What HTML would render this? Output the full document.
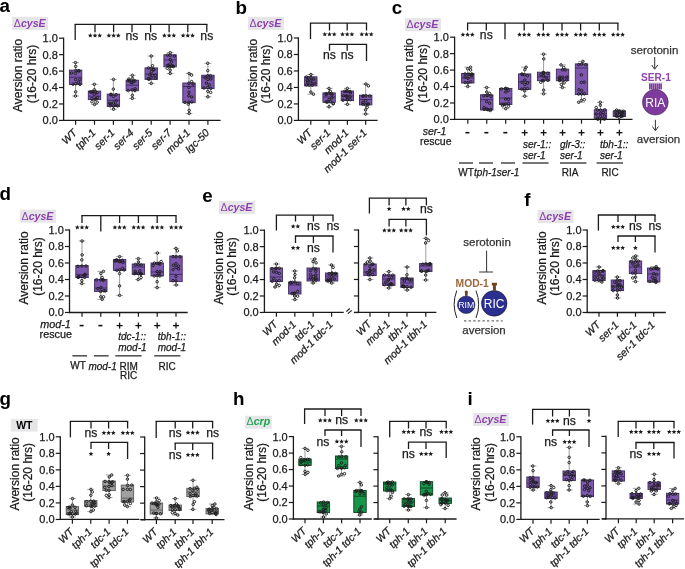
<!DOCTYPE html>
<html><head><meta charset="utf-8"><style>
html,body{margin:0;padding:0;background:#fff;width:685px;height:569px;overflow:hidden}
svg{display:block;will-change:transform;font-family:"Liberation Sans",sans-serif}
</style></head><body>
<svg width="685" height="569" viewBox="0 0 685 569">
<rect width="685" height="569" fill="#fff"/>
<text x="-0.60" y="12.30" font-size="18.8" text-anchor="start" font-weight="bold" font-style="normal" fill="#000" >a</text>
<rect x="12.20" y="16.80" width="35.9" height="13.1" fill="#e6e6e8"/>
<text x="13.80" y="26.80" font-size="10.6" fill="#8b3fae" font-weight="bold"><tspan font-weight="normal">&#916;</tspan><tspan font-style="italic">cysE</tspan></text>
<text x="0.00" y="0.00" font-size="12" text-anchor="middle" font-weight="normal" font-style="normal" fill="#1a1a1a" stroke="#1a1a1a" stroke-width="0.25" transform="translate(21.90,75.50) rotate(-90)" >Aversion ratio</text>
<text x="0.00" y="0.00" font-size="12" text-anchor="middle" font-weight="normal" font-style="normal" fill="#1a1a1a" stroke="#1a1a1a" stroke-width="0.25" transform="translate(35.60,74.00) rotate(-90)" >(16-20 hrs)</text>
<line x1="63.60" y1="37.60" x2="63.60" y2="121.00" stroke="#1a1a1a" stroke-width="1.3" />
<line x1="59.00" y1="120.40" x2="63.60" y2="120.40" stroke="#1a1a1a" stroke-width="1.2" />
<text x="57.90" y="124.30" font-size="11" text-anchor="end" font-weight="normal" font-style="normal" fill="#1a1a1a" stroke="#1a1a1a" stroke-width="0.25" >0.0</text>
<line x1="59.00" y1="103.96" x2="63.60" y2="103.96" stroke="#1a1a1a" stroke-width="1.2" />
<text x="57.90" y="107.86" font-size="11" text-anchor="end" font-weight="normal" font-style="normal" fill="#1a1a1a" stroke="#1a1a1a" stroke-width="0.25" >0.2</text>
<line x1="59.00" y1="87.52" x2="63.60" y2="87.52" stroke="#1a1a1a" stroke-width="1.2" />
<text x="57.90" y="91.42" font-size="11" text-anchor="end" font-weight="normal" font-style="normal" fill="#1a1a1a" stroke="#1a1a1a" stroke-width="0.25" >0.4</text>
<line x1="59.00" y1="71.08" x2="63.60" y2="71.08" stroke="#1a1a1a" stroke-width="1.2" />
<text x="57.90" y="74.98" font-size="11" text-anchor="end" font-weight="normal" font-style="normal" fill="#1a1a1a" stroke="#1a1a1a" stroke-width="0.25" >0.6</text>
<line x1="59.00" y1="54.64" x2="63.60" y2="54.64" stroke="#1a1a1a" stroke-width="1.2" />
<text x="57.90" y="58.54" font-size="11" text-anchor="end" font-weight="normal" font-style="normal" fill="#1a1a1a" stroke="#1a1a1a" stroke-width="0.25" >0.8</text>
<line x1="59.00" y1="38.20" x2="63.60" y2="38.20" stroke="#1a1a1a" stroke-width="1.2" />
<text x="57.90" y="42.10" font-size="11" text-anchor="end" font-weight="normal" font-style="normal" fill="#1a1a1a" stroke="#1a1a1a" stroke-width="0.25" >1.0</text>
<line x1="75.60" y1="62.60" x2="75.60" y2="70.10" stroke="#8a8a8a" stroke-width="0.85" />
<line x1="75.60" y1="84.50" x2="75.60" y2="96.00" stroke="#8a8a8a" stroke-width="0.85" />
<line x1="72.20" y1="62.60" x2="79.00" y2="62.60" stroke="#9a9a9a" stroke-width="0.9" />
<line x1="72.20" y1="96.00" x2="79.00" y2="96.00" stroke="#9a9a9a" stroke-width="0.9" />
<rect x="69.40" y="70.10" width="12.40" height="14.40" fill="#7d58ae" stroke="#3e2a60" stroke-width="0.9"/>
<line x1="69.40" y1="77.20" x2="81.80" y2="77.20" stroke="#3e2a60" stroke-width="0.9" />
<circle cx="75.47" cy="96.00" r="1.25" fill="none" stroke="#1e1e1e" stroke-width="0.95"/>
<circle cx="75.64" cy="79.42" r="1.25" fill="none" stroke="#1e1e1e" stroke-width="0.95"/>
<circle cx="75.46" cy="62.60" r="1.25" fill="none" stroke="#1e1e1e" stroke-width="0.95"/>
<circle cx="75.74" cy="83.76" r="1.25" fill="none" stroke="#1e1e1e" stroke-width="0.95"/>
<circle cx="78.42" cy="82.18" r="1.25" fill="none" stroke="#1e1e1e" stroke-width="0.95"/>
<circle cx="75.79" cy="70.53" r="1.25" fill="none" stroke="#1e1e1e" stroke-width="0.95"/>
<circle cx="72.95" cy="84.24" r="1.25" fill="none" stroke="#1e1e1e" stroke-width="0.95"/>
<circle cx="79.80" cy="79.59" r="1.25" fill="none" stroke="#1e1e1e" stroke-width="0.95"/>
<circle cx="75.54" cy="73.41" r="1.25" fill="none" stroke="#1e1e1e" stroke-width="0.95"/>
<circle cx="78.55" cy="70.63" r="1.25" fill="none" stroke="#1e1e1e" stroke-width="0.95"/>
<circle cx="71.60" cy="73.04" r="1.25" fill="none" stroke="#1e1e1e" stroke-width="0.95"/>
<circle cx="79.07" cy="70.90" r="1.25" fill="none" stroke="#1e1e1e" stroke-width="0.95"/>
<circle cx="75.61" cy="91.85" r="1.25" fill="none" stroke="#1e1e1e" stroke-width="0.95"/>
<circle cx="79.94" cy="84.32" r="1.25" fill="none" stroke="#1e1e1e" stroke-width="0.95"/>
<circle cx="75.66" cy="66.40" r="1.25" fill="none" stroke="#1e1e1e" stroke-width="0.95"/>
<line x1="94.50" y1="84.30" x2="94.50" y2="91.10" stroke="#8a8a8a" stroke-width="0.85" />
<line x1="94.50" y1="99.60" x2="94.50" y2="104.50" stroke="#8a8a8a" stroke-width="0.85" />
<line x1="91.10" y1="84.30" x2="97.90" y2="84.30" stroke="#9a9a9a" stroke-width="0.9" />
<line x1="91.10" y1="104.50" x2="97.90" y2="104.50" stroke="#9a9a9a" stroke-width="0.9" />
<rect x="88.30" y="91.10" width="12.40" height="8.50" fill="#7d58ae" stroke="#3e2a60" stroke-width="0.9"/>
<line x1="88.30" y1="96.20" x2="100.70" y2="96.20" stroke="#3e2a60" stroke-width="0.9" />
<circle cx="94.56" cy="104.50" r="1.25" fill="none" stroke="#1e1e1e" stroke-width="0.95"/>
<circle cx="97.16" cy="102.19" r="1.25" fill="none" stroke="#1e1e1e" stroke-width="0.95"/>
<circle cx="94.61" cy="99.39" r="1.25" fill="none" stroke="#1e1e1e" stroke-width="0.95"/>
<circle cx="94.39" cy="89.71" r="1.25" fill="none" stroke="#1e1e1e" stroke-width="0.95"/>
<circle cx="97.40" cy="97.64" r="1.25" fill="none" stroke="#1e1e1e" stroke-width="0.95"/>
<circle cx="94.39" cy="94.22" r="1.25" fill="none" stroke="#1e1e1e" stroke-width="0.95"/>
<circle cx="94.34" cy="84.30" r="1.25" fill="none" stroke="#1e1e1e" stroke-width="0.95"/>
<circle cx="97.15" cy="92.74" r="1.25" fill="none" stroke="#1e1e1e" stroke-width="0.95"/>
<circle cx="91.86" cy="98.63" r="1.25" fill="none" stroke="#1e1e1e" stroke-width="0.95"/>
<circle cx="91.78" cy="92.02" r="1.25" fill="none" stroke="#1e1e1e" stroke-width="0.95"/>
<circle cx="95.49" cy="91.70" r="1.25" fill="none" stroke="#1e1e1e" stroke-width="0.95"/>
<circle cx="91.92" cy="101.72" r="1.25" fill="none" stroke="#1e1e1e" stroke-width="0.95"/>
<circle cx="92.95" cy="91.70" r="1.25" fill="none" stroke="#1e1e1e" stroke-width="0.95"/>
<circle cx="90.40" cy="91.86" r="1.25" fill="none" stroke="#1e1e1e" stroke-width="0.95"/>
<circle cx="95.98" cy="98.91" r="1.25" fill="none" stroke="#1e1e1e" stroke-width="0.95"/>
<line x1="113.40" y1="79.40" x2="113.40" y2="94.10" stroke="#8a8a8a" stroke-width="0.85" />
<line x1="113.40" y1="106.40" x2="113.40" y2="109.20" stroke="#8a8a8a" stroke-width="0.85" />
<line x1="110.00" y1="79.40" x2="116.80" y2="79.40" stroke="#9a9a9a" stroke-width="0.9" />
<line x1="110.00" y1="109.20" x2="116.80" y2="109.20" stroke="#9a9a9a" stroke-width="0.9" />
<rect x="107.20" y="94.10" width="12.40" height="12.30" fill="#7d58ae" stroke="#3e2a60" stroke-width="0.9"/>
<line x1="107.20" y1="100.30" x2="119.60" y2="100.30" stroke="#3e2a60" stroke-width="0.9" />
<circle cx="113.45" cy="103.01" r="1.25" fill="none" stroke="#1e1e1e" stroke-width="0.95"/>
<circle cx="116.08" cy="104.99" r="1.25" fill="none" stroke="#1e1e1e" stroke-width="0.95"/>
<circle cx="113.48" cy="96.38" r="1.25" fill="none" stroke="#1e1e1e" stroke-width="0.95"/>
<circle cx="116.11" cy="94.71" r="1.25" fill="none" stroke="#1e1e1e" stroke-width="0.95"/>
<circle cx="113.56" cy="106.11" r="1.25" fill="none" stroke="#1e1e1e" stroke-width="0.95"/>
<circle cx="116.20" cy="100.78" r="1.25" fill="none" stroke="#1e1e1e" stroke-width="0.95"/>
<circle cx="110.81" cy="94.81" r="1.25" fill="none" stroke="#1e1e1e" stroke-width="0.95"/>
<circle cx="110.63" cy="103.83" r="1.25" fill="none" stroke="#1e1e1e" stroke-width="0.95"/>
<circle cx="109.55" cy="103.28" r="1.25" fill="none" stroke="#1e1e1e" stroke-width="0.95"/>
<circle cx="113.54" cy="79.40" r="1.25" fill="none" stroke="#1e1e1e" stroke-width="0.95"/>
<circle cx="113.55" cy="109.20" r="1.25" fill="none" stroke="#1e1e1e" stroke-width="0.95"/>
<circle cx="113.35" cy="89.15" r="1.25" fill="none" stroke="#1e1e1e" stroke-width="0.95"/>
<circle cx="110.26" cy="105.82" r="1.25" fill="none" stroke="#1e1e1e" stroke-width="0.95"/>
<circle cx="110.94" cy="94.27" r="1.25" fill="none" stroke="#1e1e1e" stroke-width="0.95"/>
<circle cx="117.54" cy="105.97" r="1.25" fill="none" stroke="#1e1e1e" stroke-width="0.95"/>
<line x1="132.30" y1="75.30" x2="132.30" y2="80.20" stroke="#8a8a8a" stroke-width="0.85" />
<line x1="132.30" y1="90.70" x2="132.30" y2="98.40" stroke="#8a8a8a" stroke-width="0.85" />
<line x1="128.90" y1="75.30" x2="135.70" y2="75.30" stroke="#9a9a9a" stroke-width="0.9" />
<line x1="128.90" y1="98.40" x2="135.70" y2="98.40" stroke="#9a9a9a" stroke-width="0.9" />
<rect x="126.10" y="80.20" width="12.40" height="10.50" fill="#7d58ae" stroke="#3e2a60" stroke-width="0.9"/>
<line x1="126.10" y1="85.20" x2="138.50" y2="85.20" stroke="#3e2a60" stroke-width="0.9" />
<circle cx="132.18" cy="82.54" r="1.25" fill="none" stroke="#1e1e1e" stroke-width="0.95"/>
<circle cx="132.19" cy="89.83" r="1.25" fill="none" stroke="#1e1e1e" stroke-width="0.95"/>
<circle cx="132.38" cy="75.30" r="1.25" fill="none" stroke="#1e1e1e" stroke-width="0.95"/>
<circle cx="132.30" cy="98.40" r="1.25" fill="none" stroke="#1e1e1e" stroke-width="0.95"/>
<circle cx="135.15" cy="88.89" r="1.25" fill="none" stroke="#1e1e1e" stroke-width="0.95"/>
<circle cx="134.93" cy="80.85" r="1.25" fill="none" stroke="#1e1e1e" stroke-width="0.95"/>
<circle cx="129.56" cy="80.46" r="1.25" fill="none" stroke="#1e1e1e" stroke-width="0.95"/>
<circle cx="132.47" cy="78.47" r="1.25" fill="none" stroke="#1e1e1e" stroke-width="0.95"/>
<circle cx="131.23" cy="82.56" r="1.25" fill="none" stroke="#1e1e1e" stroke-width="0.95"/>
<circle cx="128.05" cy="80.66" r="1.25" fill="none" stroke="#1e1e1e" stroke-width="0.95"/>
<circle cx="133.54" cy="81.33" r="1.25" fill="none" stroke="#1e1e1e" stroke-width="0.95"/>
<circle cx="132.36" cy="95.28" r="1.25" fill="none" stroke="#1e1e1e" stroke-width="0.95"/>
<circle cx="128.22" cy="90.58" r="1.25" fill="none" stroke="#1e1e1e" stroke-width="0.95"/>
<circle cx="134.96" cy="90.62" r="1.25" fill="none" stroke="#1e1e1e" stroke-width="0.95"/>
<circle cx="128.86" cy="79.04" r="1.25" fill="none" stroke="#1e1e1e" stroke-width="0.95"/>
<line x1="151.20" y1="56.00" x2="151.20" y2="67.90" stroke="#8a8a8a" stroke-width="0.85" />
<line x1="151.20" y1="79.40" x2="151.20" y2="83.40" stroke="#8a8a8a" stroke-width="0.85" />
<line x1="147.80" y1="56.00" x2="154.60" y2="56.00" stroke="#9a9a9a" stroke-width="0.9" />
<line x1="147.80" y1="83.40" x2="154.60" y2="83.40" stroke="#9a9a9a" stroke-width="0.9" />
<rect x="145.00" y="67.90" width="12.40" height="11.50" fill="#7d58ae" stroke="#3e2a60" stroke-width="0.9"/>
<line x1="145.00" y1="74.10" x2="157.40" y2="74.10" stroke="#3e2a60" stroke-width="0.9" />
<circle cx="151.34" cy="71.69" r="1.25" fill="none" stroke="#1e1e1e" stroke-width="0.95"/>
<circle cx="153.80" cy="69.82" r="1.25" fill="none" stroke="#1e1e1e" stroke-width="0.95"/>
<circle cx="151.07" cy="77.82" r="1.25" fill="none" stroke="#1e1e1e" stroke-width="0.95"/>
<circle cx="151.22" cy="83.40" r="1.25" fill="none" stroke="#1e1e1e" stroke-width="0.95"/>
<circle cx="152.40" cy="75.32" r="1.25" fill="none" stroke="#1e1e1e" stroke-width="0.95"/>
<circle cx="155.31" cy="78.20" r="1.25" fill="none" stroke="#1e1e1e" stroke-width="0.95"/>
<circle cx="151.32" cy="68.29" r="1.25" fill="none" stroke="#1e1e1e" stroke-width="0.95"/>
<circle cx="151.19" cy="56.00" r="1.25" fill="none" stroke="#1e1e1e" stroke-width="0.95"/>
<circle cx="149.68" cy="74.59" r="1.25" fill="none" stroke="#1e1e1e" stroke-width="0.95"/>
<circle cx="148.43" cy="67.91" r="1.25" fill="none" stroke="#1e1e1e" stroke-width="0.95"/>
<circle cx="155.40" cy="75.44" r="1.25" fill="none" stroke="#1e1e1e" stroke-width="0.95"/>
<circle cx="152.56" cy="65.70" r="1.25" fill="none" stroke="#1e1e1e" stroke-width="0.95"/>
<circle cx="153.76" cy="69.26" r="1.25" fill="none" stroke="#1e1e1e" stroke-width="0.95"/>
<circle cx="148.30" cy="78.59" r="1.25" fill="none" stroke="#1e1e1e" stroke-width="0.95"/>
<circle cx="148.85" cy="79.38" r="1.25" fill="none" stroke="#1e1e1e" stroke-width="0.95"/>
<line x1="170.10" y1="52.70" x2="170.10" y2="54.80" stroke="#8a8a8a" stroke-width="0.85" />
<line x1="170.10" y1="66.80" x2="170.10" y2="73.50" stroke="#8a8a8a" stroke-width="0.85" />
<line x1="166.70" y1="52.70" x2="173.50" y2="52.70" stroke="#9a9a9a" stroke-width="0.9" />
<line x1="166.70" y1="73.50" x2="173.50" y2="73.50" stroke="#9a9a9a" stroke-width="0.9" />
<rect x="163.90" y="54.80" width="12.40" height="12.00" fill="#7d58ae" stroke="#3e2a60" stroke-width="0.9"/>
<line x1="163.90" y1="60.00" x2="176.30" y2="60.00" stroke="#3e2a60" stroke-width="0.9" />
<circle cx="170.29" cy="55.57" r="1.25" fill="none" stroke="#1e1e1e" stroke-width="0.95"/>
<circle cx="170.29" cy="59.55" r="1.25" fill="none" stroke="#1e1e1e" stroke-width="0.95"/>
<circle cx="170.19" cy="73.50" r="1.25" fill="none" stroke="#1e1e1e" stroke-width="0.95"/>
<circle cx="170.06" cy="66.51" r="1.25" fill="none" stroke="#1e1e1e" stroke-width="0.95"/>
<circle cx="172.90" cy="65.97" r="1.25" fill="none" stroke="#1e1e1e" stroke-width="0.95"/>
<circle cx="167.47" cy="65.47" r="1.25" fill="none" stroke="#1e1e1e" stroke-width="0.95"/>
<circle cx="170.27" cy="52.70" r="1.25" fill="none" stroke="#1e1e1e" stroke-width="0.95"/>
<circle cx="173.41" cy="66.63" r="1.25" fill="none" stroke="#1e1e1e" stroke-width="0.95"/>
<circle cx="167.49" cy="55.11" r="1.25" fill="none" stroke="#1e1e1e" stroke-width="0.95"/>
<circle cx="170.16" cy="70.24" r="1.25" fill="none" stroke="#1e1e1e" stroke-width="0.95"/>
<circle cx="167.26" cy="68.26" r="1.25" fill="none" stroke="#1e1e1e" stroke-width="0.95"/>
<circle cx="174.39" cy="56.00" r="1.25" fill="none" stroke="#1e1e1e" stroke-width="0.95"/>
<circle cx="171.34" cy="62.19" r="1.25" fill="none" stroke="#1e1e1e" stroke-width="0.95"/>
<circle cx="171.75" cy="65.95" r="1.25" fill="none" stroke="#1e1e1e" stroke-width="0.95"/>
<circle cx="168.86" cy="64.96" r="1.25" fill="none" stroke="#1e1e1e" stroke-width="0.95"/>
<line x1="189.00" y1="73.50" x2="189.00" y2="83.00" stroke="#8a8a8a" stroke-width="0.85" />
<line x1="189.00" y1="102.70" x2="189.00" y2="113.50" stroke="#8a8a8a" stroke-width="0.85" />
<line x1="185.60" y1="73.50" x2="192.40" y2="73.50" stroke="#9a9a9a" stroke-width="0.9" />
<line x1="185.60" y1="113.50" x2="192.40" y2="113.50" stroke="#9a9a9a" stroke-width="0.9" />
<rect x="182.80" y="83.00" width="12.40" height="19.70" fill="#7d58ae" stroke="#3e2a60" stroke-width="0.9"/>
<line x1="182.80" y1="86.50" x2="195.20" y2="86.50" stroke="#3e2a60" stroke-width="0.9" />
<circle cx="188.84" cy="102.26" r="1.25" fill="none" stroke="#1e1e1e" stroke-width="0.95"/>
<circle cx="188.93" cy="83.19" r="1.25" fill="none" stroke="#1e1e1e" stroke-width="0.95"/>
<circle cx="189.09" cy="73.50" r="1.25" fill="none" stroke="#1e1e1e" stroke-width="0.95"/>
<circle cx="191.67" cy="81.59" r="1.25" fill="none" stroke="#1e1e1e" stroke-width="0.95"/>
<circle cx="188.90" cy="87.39" r="1.25" fill="none" stroke="#1e1e1e" stroke-width="0.95"/>
<circle cx="191.75" cy="101.96" r="1.25" fill="none" stroke="#1e1e1e" stroke-width="0.95"/>
<circle cx="188.86" cy="95.77" r="1.25" fill="none" stroke="#1e1e1e" stroke-width="0.95"/>
<circle cx="184.91" cy="102.42" r="1.25" fill="none" stroke="#1e1e1e" stroke-width="0.95"/>
<circle cx="191.69" cy="97.04" r="1.25" fill="none" stroke="#1e1e1e" stroke-width="0.95"/>
<circle cx="189.20" cy="113.50" r="1.25" fill="none" stroke="#1e1e1e" stroke-width="0.95"/>
<circle cx="189.01" cy="92.22" r="1.25" fill="none" stroke="#1e1e1e" stroke-width="0.95"/>
<circle cx="193.08" cy="83.97" r="1.25" fill="none" stroke="#1e1e1e" stroke-width="0.95"/>
<circle cx="189.19" cy="110.39" r="1.25" fill="none" stroke="#1e1e1e" stroke-width="0.95"/>
<circle cx="188.26" cy="104.17" r="1.25" fill="none" stroke="#1e1e1e" stroke-width="0.95"/>
<circle cx="191.60" cy="75.12" r="1.25" fill="none" stroke="#1e1e1e" stroke-width="0.95"/>
<line x1="207.90" y1="63.30" x2="207.90" y2="75.20" stroke="#8a8a8a" stroke-width="0.85" />
<line x1="207.90" y1="88.60" x2="207.90" y2="96.80" stroke="#8a8a8a" stroke-width="0.85" />
<line x1="204.50" y1="63.30" x2="211.30" y2="63.30" stroke="#9a9a9a" stroke-width="0.9" />
<line x1="204.50" y1="96.80" x2="211.30" y2="96.80" stroke="#9a9a9a" stroke-width="0.9" />
<rect x="201.70" y="75.20" width="12.40" height="13.40" fill="#7d58ae" stroke="#3e2a60" stroke-width="0.9"/>
<line x1="201.70" y1="77.00" x2="214.10" y2="77.00" stroke="#3e2a60" stroke-width="0.9" />
<circle cx="207.88" cy="79.40" r="1.25" fill="none" stroke="#1e1e1e" stroke-width="0.95"/>
<circle cx="207.74" cy="87.35" r="1.25" fill="none" stroke="#1e1e1e" stroke-width="0.95"/>
<circle cx="207.81" cy="91.36" r="1.25" fill="none" stroke="#1e1e1e" stroke-width="0.95"/>
<circle cx="209.40" cy="84.70" r="1.25" fill="none" stroke="#1e1e1e" stroke-width="0.95"/>
<circle cx="207.73" cy="75.74" r="1.25" fill="none" stroke="#1e1e1e" stroke-width="0.95"/>
<circle cx="210.82" cy="88.35" r="1.25" fill="none" stroke="#1e1e1e" stroke-width="0.95"/>
<circle cx="207.72" cy="63.30" r="1.25" fill="none" stroke="#1e1e1e" stroke-width="0.95"/>
<circle cx="207.86" cy="96.80" r="1.25" fill="none" stroke="#1e1e1e" stroke-width="0.95"/>
<circle cx="210.52" cy="75.62" r="1.25" fill="none" stroke="#1e1e1e" stroke-width="0.95"/>
<circle cx="210.63" cy="92.35" r="1.25" fill="none" stroke="#1e1e1e" stroke-width="0.95"/>
<circle cx="205.07" cy="77.71" r="1.25" fill="none" stroke="#1e1e1e" stroke-width="0.95"/>
<circle cx="203.94" cy="88.01" r="1.25" fill="none" stroke="#1e1e1e" stroke-width="0.95"/>
<circle cx="210.78" cy="78.96" r="1.25" fill="none" stroke="#1e1e1e" stroke-width="0.95"/>
<circle cx="207.75" cy="70.63" r="1.25" fill="none" stroke="#1e1e1e" stroke-width="0.95"/>
<circle cx="206.43" cy="83.10" r="1.25" fill="none" stroke="#1e1e1e" stroke-width="0.95"/>
<line x1="63.00" y1="120.40" x2="220.60" y2="120.40" stroke="#1a1a1a" stroke-width="1.3" />
<line x1="75.60" y1="120.40" x2="75.60" y2="124.70" stroke="#1a1a1a" stroke-width="1.2" />
<line x1="94.50" y1="120.40" x2="94.50" y2="124.70" stroke="#1a1a1a" stroke-width="1.2" />
<line x1="113.40" y1="120.40" x2="113.40" y2="124.70" stroke="#1a1a1a" stroke-width="1.2" />
<line x1="132.30" y1="120.40" x2="132.30" y2="124.70" stroke="#1a1a1a" stroke-width="1.2" />
<line x1="151.20" y1="120.40" x2="151.20" y2="124.70" stroke="#1a1a1a" stroke-width="1.2" />
<line x1="170.10" y1="120.40" x2="170.10" y2="124.70" stroke="#1a1a1a" stroke-width="1.2" />
<line x1="189.00" y1="120.40" x2="189.00" y2="124.70" stroke="#1a1a1a" stroke-width="1.2" />
<line x1="207.90" y1="120.40" x2="207.90" y2="124.70" stroke="#1a1a1a" stroke-width="1.2" />
<text x="0.00" y="0.00" font-size="10.5" text-anchor="end" font-weight="normal" font-style="italic" fill="#1a1a1a" stroke="#1a1a1a" stroke-width="0.25" transform="translate(77.60,133.40) rotate(-45)" >WT</text>
<text x="0.00" y="0.00" font-size="10.5" text-anchor="end" font-weight="normal" font-style="italic" fill="#1a1a1a" stroke="#1a1a1a" stroke-width="0.25" transform="translate(96.50,133.40) rotate(-45)" >tph-1</text>
<text x="0.00" y="0.00" font-size="10.5" text-anchor="end" font-weight="normal" font-style="italic" fill="#1a1a1a" stroke="#1a1a1a" stroke-width="0.25" transform="translate(115.40,133.40) rotate(-45)" >ser-1</text>
<text x="0.00" y="0.00" font-size="10.5" text-anchor="end" font-weight="normal" font-style="italic" fill="#1a1a1a" stroke="#1a1a1a" stroke-width="0.25" transform="translate(134.30,133.40) rotate(-45)" >ser-4</text>
<text x="0.00" y="0.00" font-size="10.5" text-anchor="end" font-weight="normal" font-style="italic" fill="#1a1a1a" stroke="#1a1a1a" stroke-width="0.25" transform="translate(153.20,133.40) rotate(-45)" >ser-5</text>
<text x="0.00" y="0.00" font-size="10.5" text-anchor="end" font-weight="normal" font-style="italic" fill="#1a1a1a" stroke="#1a1a1a" stroke-width="0.25" transform="translate(172.10,133.40) rotate(-45)" >ser-7</text>
<text x="0.00" y="0.00" font-size="10.5" text-anchor="end" font-weight="normal" font-style="italic" fill="#1a1a1a" stroke="#1a1a1a" stroke-width="0.25" transform="translate(191.00,133.40) rotate(-45)" >mod-1</text>
<text x="0.00" y="0.00" font-size="10.5" text-anchor="end" font-weight="normal" font-style="italic" fill="#1a1a1a" stroke="#1a1a1a" stroke-width="0.25" transform="translate(209.90,133.40) rotate(-45)" >lgc-50</text>
<line x1="74.60" y1="24.30" x2="207.40" y2="24.30" stroke="#1a1a1a" stroke-width="1.3" />
<line x1="75.20" y1="24.30" x2="75.20" y2="40.00" stroke="#1a1a1a" stroke-width="1.3" />
<line x1="95.00" y1="24.30" x2="95.00" y2="32.30" stroke="#1a1a1a" stroke-width="1.3" />
<line x1="113.60" y1="24.30" x2="113.60" y2="32.30" stroke="#1a1a1a" stroke-width="1.3" />
<line x1="132.00" y1="24.30" x2="132.00" y2="32.30" stroke="#1a1a1a" stroke-width="1.3" />
<line x1="150.60" y1="24.30" x2="150.60" y2="32.30" stroke="#1a1a1a" stroke-width="1.3" />
<line x1="169.10" y1="24.30" x2="169.10" y2="32.30" stroke="#1a1a1a" stroke-width="1.3" />
<line x1="187.80" y1="24.30" x2="187.80" y2="32.30" stroke="#1a1a1a" stroke-width="1.3" />
<line x1="206.80" y1="24.30" x2="206.80" y2="32.30" stroke="#1a1a1a" stroke-width="1.3" />
<polygon points="90.30,33.10 90.96,34.69 92.68,34.83 91.37,35.95 91.77,37.62 90.30,36.73 88.83,37.62 89.23,35.95 87.92,34.83 89.64,34.69" fill="#1a1a1a"/>
<polygon points="95.00,33.10 95.66,34.69 97.38,34.83 96.07,35.95 96.47,37.62 95.00,36.73 93.53,37.62 93.93,35.95 92.62,34.83 94.34,34.69" fill="#1a1a1a"/>
<polygon points="99.70,33.10 100.36,34.69 102.08,34.83 100.77,35.95 101.17,37.62 99.70,36.73 98.23,37.62 98.63,35.95 97.32,34.83 99.04,34.69" fill="#1a1a1a"/>
<polygon points="108.90,33.10 109.56,34.69 111.28,34.83 109.97,35.95 110.37,37.62 108.90,36.73 107.43,37.62 107.83,35.95 106.52,34.83 108.24,34.69" fill="#1a1a1a"/>
<polygon points="113.60,33.10 114.26,34.69 115.98,34.83 114.67,35.95 115.07,37.62 113.60,36.73 112.13,37.62 112.53,35.95 111.22,34.83 112.94,34.69" fill="#1a1a1a"/>
<polygon points="118.30,33.10 118.96,34.69 120.68,34.83 119.37,35.95 119.77,37.62 118.30,36.73 116.83,37.62 117.23,35.95 115.92,34.83 117.64,34.69" fill="#1a1a1a"/>
<text x="132.00" y="39.90" font-size="12.2" text-anchor="middle" font-weight="normal" font-style="normal" fill="#1a1a1a" stroke="#1a1a1a" stroke-width="0.25" >ns</text>
<text x="150.60" y="39.90" font-size="12.2" text-anchor="middle" font-weight="normal" font-style="normal" fill="#1a1a1a" stroke="#1a1a1a" stroke-width="0.25" >ns</text>
<polygon points="164.40,33.10 165.06,34.69 166.78,34.83 165.47,35.95 165.87,37.62 164.40,36.73 162.93,37.62 163.33,35.95 162.02,34.83 163.74,34.69" fill="#1a1a1a"/>
<polygon points="169.10,33.10 169.76,34.69 171.48,34.83 170.17,35.95 170.57,37.62 169.10,36.73 167.63,37.62 168.03,35.95 166.72,34.83 168.44,34.69" fill="#1a1a1a"/>
<polygon points="173.80,33.10 174.46,34.69 176.18,34.83 174.87,35.95 175.27,37.62 173.80,36.73 172.33,37.62 172.73,35.95 171.42,34.83 173.14,34.69" fill="#1a1a1a"/>
<polygon points="183.10,33.10 183.76,34.69 185.48,34.83 184.17,35.95 184.57,37.62 183.10,36.73 181.63,37.62 182.03,35.95 180.72,34.83 182.44,34.69" fill="#1a1a1a"/>
<polygon points="187.80,33.10 188.46,34.69 190.18,34.83 188.87,35.95 189.27,37.62 187.80,36.73 186.33,37.62 186.73,35.95 185.42,34.83 187.14,34.69" fill="#1a1a1a"/>
<polygon points="192.50,33.10 193.16,34.69 194.88,34.83 193.57,35.95 193.97,37.62 192.50,36.73 191.03,37.62 191.43,35.95 190.12,34.83 191.84,34.69" fill="#1a1a1a"/>
<text x="206.80" y="39.90" font-size="12.2" text-anchor="middle" font-weight="normal" font-style="normal" fill="#1a1a1a" stroke="#1a1a1a" stroke-width="0.25" >ns</text>
<text x="235.50" y="14.00" font-size="18.8" text-anchor="start" font-weight="bold" font-style="normal" fill="#000" >b</text>
<rect x="248.00" y="16.80" width="35.9" height="13.1" fill="#e6e6e8"/>
<text x="249.60" y="26.80" font-size="10.6" fill="#8b3fae" font-weight="bold"><tspan font-weight="normal">&#916;</tspan><tspan font-style="italic">cysE</tspan></text>
<text x="0.00" y="0.00" font-size="12" text-anchor="middle" font-weight="normal" font-style="normal" fill="#1a1a1a" stroke="#1a1a1a" stroke-width="0.25" transform="translate(256.70,75.50) rotate(-90)" >Aversion ratio</text>
<text x="0.00" y="0.00" font-size="12" text-anchor="middle" font-weight="normal" font-style="normal" fill="#1a1a1a" stroke="#1a1a1a" stroke-width="0.25" transform="translate(270.40,74.00) rotate(-90)" >(16-20 hrs)</text>
<line x1="298.40" y1="37.40" x2="298.40" y2="121.00" stroke="#1a1a1a" stroke-width="1.3" />
<line x1="293.80" y1="120.40" x2="298.40" y2="120.40" stroke="#1a1a1a" stroke-width="1.2" />
<text x="292.70" y="124.30" font-size="11" text-anchor="end" font-weight="normal" font-style="normal" fill="#1a1a1a" stroke="#1a1a1a" stroke-width="0.25" >0.0</text>
<line x1="293.80" y1="103.92" x2="298.40" y2="103.92" stroke="#1a1a1a" stroke-width="1.2" />
<text x="292.70" y="107.82" font-size="11" text-anchor="end" font-weight="normal" font-style="normal" fill="#1a1a1a" stroke="#1a1a1a" stroke-width="0.25" >0.2</text>
<line x1="293.80" y1="87.44" x2="298.40" y2="87.44" stroke="#1a1a1a" stroke-width="1.2" />
<text x="292.70" y="91.34" font-size="11" text-anchor="end" font-weight="normal" font-style="normal" fill="#1a1a1a" stroke="#1a1a1a" stroke-width="0.25" >0.4</text>
<line x1="293.80" y1="70.96" x2="298.40" y2="70.96" stroke="#1a1a1a" stroke-width="1.2" />
<text x="292.70" y="74.86" font-size="11" text-anchor="end" font-weight="normal" font-style="normal" fill="#1a1a1a" stroke="#1a1a1a" stroke-width="0.25" >0.6</text>
<line x1="293.80" y1="54.48" x2="298.40" y2="54.48" stroke="#1a1a1a" stroke-width="1.2" />
<text x="292.70" y="58.38" font-size="11" text-anchor="end" font-weight="normal" font-style="normal" fill="#1a1a1a" stroke="#1a1a1a" stroke-width="0.25" >0.8</text>
<line x1="293.80" y1="38.00" x2="298.40" y2="38.00" stroke="#1a1a1a" stroke-width="1.2" />
<text x="292.70" y="41.90" font-size="11" text-anchor="end" font-weight="normal" font-style="normal" fill="#1a1a1a" stroke="#1a1a1a" stroke-width="0.25" >1.0</text>
<line x1="310.80" y1="74.50" x2="310.80" y2="76.80" stroke="#8a8a8a" stroke-width="0.85" />
<line x1="310.80" y1="85.90" x2="310.80" y2="94.20" stroke="#8a8a8a" stroke-width="0.85" />
<line x1="307.40" y1="74.50" x2="314.20" y2="74.50" stroke="#9a9a9a" stroke-width="0.9" />
<line x1="307.40" y1="94.20" x2="314.20" y2="94.20" stroke="#9a9a9a" stroke-width="0.9" />
<rect x="304.60" y="76.80" width="12.40" height="9.10" fill="#7d58ae" stroke="#3e2a60" stroke-width="0.9"/>
<line x1="304.60" y1="80.00" x2="317.00" y2="80.00" stroke="#3e2a60" stroke-width="0.9" />
<circle cx="310.80" cy="80.79" r="1.25" fill="none" stroke="#1e1e1e" stroke-width="0.95"/>
<circle cx="312.13" cy="83.34" r="1.25" fill="none" stroke="#1e1e1e" stroke-width="0.95"/>
<circle cx="310.93" cy="77.66" r="1.25" fill="none" stroke="#1e1e1e" stroke-width="0.95"/>
<circle cx="313.66" cy="78.91" r="1.25" fill="none" stroke="#1e1e1e" stroke-width="0.95"/>
<circle cx="310.92" cy="74.50" r="1.25" fill="none" stroke="#1e1e1e" stroke-width="0.95"/>
<circle cx="308.08" cy="77.90" r="1.25" fill="none" stroke="#1e1e1e" stroke-width="0.95"/>
<circle cx="310.88" cy="92.13" r="1.25" fill="none" stroke="#1e1e1e" stroke-width="0.95"/>
<circle cx="307.97" cy="82.70" r="1.25" fill="none" stroke="#1e1e1e" stroke-width="0.95"/>
<circle cx="306.48" cy="76.94" r="1.25" fill="none" stroke="#1e1e1e" stroke-width="0.95"/>
<circle cx="314.98" cy="83.21" r="1.25" fill="none" stroke="#1e1e1e" stroke-width="0.95"/>
<circle cx="309.24" cy="85.19" r="1.25" fill="none" stroke="#1e1e1e" stroke-width="0.95"/>
<circle cx="313.43" cy="94.20" r="1.25" fill="none" stroke="#1e1e1e" stroke-width="0.95"/>
<circle cx="307.59" cy="80.80" r="1.25" fill="none" stroke="#1e1e1e" stroke-width="0.95"/>
<circle cx="306.49" cy="84.98" r="1.25" fill="none" stroke="#1e1e1e" stroke-width="0.95"/>
<circle cx="312.39" cy="85.21" r="1.25" fill="none" stroke="#1e1e1e" stroke-width="0.95"/>
<line x1="329.10" y1="88.40" x2="329.10" y2="92.90" stroke="#8a8a8a" stroke-width="0.85" />
<line x1="329.10" y1="102.30" x2="329.10" y2="106.80" stroke="#8a8a8a" stroke-width="0.85" />
<line x1="325.70" y1="88.40" x2="332.50" y2="88.40" stroke="#9a9a9a" stroke-width="0.9" />
<line x1="325.70" y1="106.80" x2="332.50" y2="106.80" stroke="#9a9a9a" stroke-width="0.9" />
<rect x="322.90" y="92.90" width="12.40" height="9.40" fill="#7d58ae" stroke="#3e2a60" stroke-width="0.9"/>
<line x1="322.90" y1="97.00" x2="335.30" y2="97.00" stroke="#3e2a60" stroke-width="0.9" />
<circle cx="329.20" cy="93.17" r="1.25" fill="none" stroke="#1e1e1e" stroke-width="0.95"/>
<circle cx="326.16" cy="93.52" r="1.25" fill="none" stroke="#1e1e1e" stroke-width="0.95"/>
<circle cx="329.08" cy="99.44" r="1.25" fill="none" stroke="#1e1e1e" stroke-width="0.95"/>
<circle cx="330.63" cy="101.73" r="1.25" fill="none" stroke="#1e1e1e" stroke-width="0.95"/>
<circle cx="331.94" cy="94.92" r="1.25" fill="none" stroke="#1e1e1e" stroke-width="0.95"/>
<circle cx="331.90" cy="97.94" r="1.25" fill="none" stroke="#1e1e1e" stroke-width="0.95"/>
<circle cx="326.16" cy="101.82" r="1.25" fill="none" stroke="#1e1e1e" stroke-width="0.95"/>
<circle cx="328.97" cy="88.40" r="1.25" fill="none" stroke="#1e1e1e" stroke-width="0.95"/>
<circle cx="331.57" cy="93.38" r="1.25" fill="none" stroke="#1e1e1e" stroke-width="0.95"/>
<circle cx="330.27" cy="91.33" r="1.25" fill="none" stroke="#1e1e1e" stroke-width="0.95"/>
<circle cx="326.18" cy="94.68" r="1.25" fill="none" stroke="#1e1e1e" stroke-width="0.95"/>
<circle cx="327.19" cy="102.16" r="1.25" fill="none" stroke="#1e1e1e" stroke-width="0.95"/>
<circle cx="333.09" cy="103.31" r="1.25" fill="none" stroke="#1e1e1e" stroke-width="0.95"/>
<circle cx="329.07" cy="106.80" r="1.25" fill="none" stroke="#1e1e1e" stroke-width="0.95"/>
<circle cx="333.26" cy="103.87" r="1.25" fill="none" stroke="#1e1e1e" stroke-width="0.95"/>
<line x1="347.40" y1="88.40" x2="347.40" y2="91.00" stroke="#8a8a8a" stroke-width="0.85" />
<line x1="347.40" y1="100.60" x2="347.40" y2="104.30" stroke="#8a8a8a" stroke-width="0.85" />
<line x1="344.00" y1="88.40" x2="350.80" y2="88.40" stroke="#9a9a9a" stroke-width="0.9" />
<line x1="344.00" y1="104.30" x2="350.80" y2="104.30" stroke="#9a9a9a" stroke-width="0.9" />
<rect x="341.20" y="91.00" width="12.40" height="9.60" fill="#7d58ae" stroke="#3e2a60" stroke-width="0.9"/>
<line x1="341.20" y1="96.00" x2="353.60" y2="96.00" stroke="#3e2a60" stroke-width="0.9" />
<circle cx="347.31" cy="91.35" r="1.25" fill="none" stroke="#1e1e1e" stroke-width="0.95"/>
<circle cx="347.22" cy="96.07" r="1.25" fill="none" stroke="#1e1e1e" stroke-width="0.95"/>
<circle cx="349.97" cy="96.87" r="1.25" fill="none" stroke="#1e1e1e" stroke-width="0.95"/>
<circle cx="344.50" cy="91.41" r="1.25" fill="none" stroke="#1e1e1e" stroke-width="0.95"/>
<circle cx="350.34" cy="92.93" r="1.25" fill="none" stroke="#1e1e1e" stroke-width="0.95"/>
<circle cx="347.32" cy="104.30" r="1.25" fill="none" stroke="#1e1e1e" stroke-width="0.95"/>
<circle cx="346.04" cy="91.20" r="1.25" fill="none" stroke="#1e1e1e" stroke-width="0.95"/>
<circle cx="347.34" cy="88.40" r="1.25" fill="none" stroke="#1e1e1e" stroke-width="0.95"/>
<circle cx="343.47" cy="95.74" r="1.25" fill="none" stroke="#1e1e1e" stroke-width="0.95"/>
<circle cx="346.02" cy="96.02" r="1.25" fill="none" stroke="#1e1e1e" stroke-width="0.95"/>
<circle cx="350.03" cy="91.64" r="1.25" fill="none" stroke="#1e1e1e" stroke-width="0.95"/>
<circle cx="347.28" cy="99.75" r="1.25" fill="none" stroke="#1e1e1e" stroke-width="0.95"/>
<circle cx="350.25" cy="99.63" r="1.25" fill="none" stroke="#1e1e1e" stroke-width="0.95"/>
<circle cx="343.10" cy="100.17" r="1.25" fill="none" stroke="#1e1e1e" stroke-width="0.95"/>
<circle cx="347.29" cy="99.22" r="1.25" fill="none" stroke="#1e1e1e" stroke-width="0.95"/>
<line x1="365.70" y1="84.00" x2="365.70" y2="95.20" stroke="#8a8a8a" stroke-width="0.85" />
<line x1="365.70" y1="104.90" x2="365.70" y2="114.00" stroke="#8a8a8a" stroke-width="0.85" />
<line x1="362.30" y1="84.00" x2="369.10" y2="84.00" stroke="#9a9a9a" stroke-width="0.9" />
<line x1="362.30" y1="114.00" x2="369.10" y2="114.00" stroke="#9a9a9a" stroke-width="0.9" />
<rect x="359.50" y="95.20" width="12.40" height="9.70" fill="#7d58ae" stroke="#3e2a60" stroke-width="0.9"/>
<line x1="359.50" y1="99.50" x2="371.90" y2="99.50" stroke="#3e2a60" stroke-width="0.9" />
<circle cx="365.55" cy="104.77" r="1.25" fill="none" stroke="#1e1e1e" stroke-width="0.95"/>
<circle cx="365.86" cy="84.00" r="1.25" fill="none" stroke="#1e1e1e" stroke-width="0.95"/>
<circle cx="365.88" cy="95.81" r="1.25" fill="none" stroke="#1e1e1e" stroke-width="0.95"/>
<circle cx="368.40" cy="85.87" r="1.25" fill="none" stroke="#1e1e1e" stroke-width="0.95"/>
<circle cx="368.52" cy="103.90" r="1.25" fill="none" stroke="#1e1e1e" stroke-width="0.95"/>
<circle cx="362.82" cy="104.26" r="1.25" fill="none" stroke="#1e1e1e" stroke-width="0.95"/>
<circle cx="362.79" cy="96.19" r="1.25" fill="none" stroke="#1e1e1e" stroke-width="0.95"/>
<circle cx="365.66" cy="100.75" r="1.25" fill="none" stroke="#1e1e1e" stroke-width="0.95"/>
<circle cx="367.19" cy="107.30" r="1.25" fill="none" stroke="#1e1e1e" stroke-width="0.95"/>
<circle cx="365.70" cy="114.00" r="1.25" fill="none" stroke="#1e1e1e" stroke-width="0.95"/>
<circle cx="363.02" cy="102.38" r="1.25" fill="none" stroke="#1e1e1e" stroke-width="0.95"/>
<circle cx="365.52" cy="109.86" r="1.25" fill="none" stroke="#1e1e1e" stroke-width="0.95"/>
<circle cx="369.68" cy="95.98" r="1.25" fill="none" stroke="#1e1e1e" stroke-width="0.95"/>
<circle cx="363.50" cy="95.92" r="1.25" fill="none" stroke="#1e1e1e" stroke-width="0.95"/>
<circle cx="367.77" cy="104.15" r="1.25" fill="none" stroke="#1e1e1e" stroke-width="0.95"/>
<line x1="297.80" y1="120.40" x2="377.60" y2="120.40" stroke="#1a1a1a" stroke-width="1.3" />
<line x1="310.80" y1="120.40" x2="310.80" y2="124.70" stroke="#1a1a1a" stroke-width="1.2" />
<line x1="329.10" y1="120.40" x2="329.10" y2="124.70" stroke="#1a1a1a" stroke-width="1.2" />
<line x1="347.40" y1="120.40" x2="347.40" y2="124.70" stroke="#1a1a1a" stroke-width="1.2" />
<line x1="365.70" y1="120.40" x2="365.70" y2="124.70" stroke="#1a1a1a" stroke-width="1.2" />
<text x="0.00" y="0.00" font-size="10.5" text-anchor="end" font-weight="normal" font-style="italic" fill="#1a1a1a" stroke="#1a1a1a" stroke-width="0.25" transform="translate(312.80,133.40) rotate(-45)" >WT</text>
<text x="0.00" y="0.00" font-size="10.5" text-anchor="end" font-weight="normal" font-style="italic" fill="#1a1a1a" stroke="#1a1a1a" stroke-width="0.25" transform="translate(331.10,133.40) rotate(-45)" >ser-1</text>
<text x="0.00" y="0.00" font-size="10.5" text-anchor="end" font-weight="normal" font-style="italic" fill="#1a1a1a" stroke="#1a1a1a" stroke-width="0.25" transform="translate(349.40,133.40) rotate(-45)" >mod-1</text>
<text x="0.00" y="0.00" font-size="10.5" text-anchor="end" font-weight="normal" font-style="italic" fill="#1a1a1a" stroke="#1a1a1a" stroke-width="0.25" transform="translate(367.70,133.40) rotate(-45)" >mod-1 ser-1</text>
<line x1="309.90" y1="23.10" x2="367.10" y2="23.10" stroke="#1a1a1a" stroke-width="1.3" />
<line x1="310.50" y1="23.10" x2="310.50" y2="39.20" stroke="#1a1a1a" stroke-width="1.3" />
<line x1="329.50" y1="23.10" x2="329.50" y2="30.50" stroke="#1a1a1a" stroke-width="1.3" />
<line x1="347.20" y1="23.10" x2="347.20" y2="30.50" stroke="#1a1a1a" stroke-width="1.3" />
<line x1="366.50" y1="23.10" x2="366.50" y2="30.50" stroke="#1a1a1a" stroke-width="1.3" />
<polygon points="324.80,31.80 325.46,33.39 327.18,33.53 325.87,34.65 326.27,36.32 324.80,35.42 323.33,36.32 323.73,34.65 322.42,33.53 324.14,33.39" fill="#1a1a1a"/>
<polygon points="329.50,31.80 330.16,33.39 331.88,33.53 330.57,34.65 330.97,36.32 329.50,35.42 328.03,36.32 328.43,34.65 327.12,33.53 328.84,33.39" fill="#1a1a1a"/>
<polygon points="334.20,31.80 334.86,33.39 336.58,33.53 335.27,34.65 335.67,36.32 334.20,35.42 332.73,36.32 333.13,34.65 331.82,33.53 333.54,33.39" fill="#1a1a1a"/>
<polygon points="342.50,31.80 343.16,33.39 344.88,33.53 343.57,34.65 343.97,36.32 342.50,35.42 341.03,36.32 341.43,34.65 340.12,33.53 341.84,33.39" fill="#1a1a1a"/>
<polygon points="347.20,31.80 347.86,33.39 349.58,33.53 348.27,34.65 348.67,36.32 347.20,35.42 345.73,36.32 346.13,34.65 344.82,33.53 346.54,33.39" fill="#1a1a1a"/>
<polygon points="351.90,31.80 352.56,33.39 354.28,33.53 352.97,34.65 353.37,36.32 351.90,35.42 350.43,36.32 350.83,34.65 349.52,33.53 351.24,33.39" fill="#1a1a1a"/>
<polygon points="361.80,31.80 362.46,33.39 364.18,33.53 362.87,34.65 363.27,36.32 361.80,35.42 360.33,36.32 360.73,34.65 359.42,33.53 361.14,33.39" fill="#1a1a1a"/>
<polygon points="366.50,31.80 367.16,33.39 368.88,33.53 367.57,34.65 367.97,36.32 366.50,35.42 365.03,36.32 365.43,34.65 364.12,33.53 365.84,33.39" fill="#1a1a1a"/>
<polygon points="371.20,31.80 371.86,33.39 373.58,33.53 372.27,34.65 372.67,36.32 371.20,35.42 369.73,36.32 370.13,34.65 368.82,33.53 370.54,33.39" fill="#1a1a1a"/>
<line x1="328.90" y1="44.40" x2="367.10" y2="44.40" stroke="#1a1a1a" stroke-width="1.3" />
<line x1="329.50" y1="44.40" x2="329.50" y2="50.70" stroke="#1a1a1a" stroke-width="1.3" />
<line x1="347.20" y1="44.40" x2="347.20" y2="50.70" stroke="#1a1a1a" stroke-width="1.3" />
<line x1="366.50" y1="44.40" x2="366.50" y2="61.00" stroke="#1a1a1a" stroke-width="1.3" />
<text x="329.50" y="59.40" font-size="12.2" text-anchor="middle" font-weight="normal" font-style="normal" fill="#1a1a1a" stroke="#1a1a1a" stroke-width="0.25" >ns</text>
<text x="347.20" y="59.40" font-size="12.2" text-anchor="middle" font-weight="normal" font-style="normal" fill="#1a1a1a" stroke="#1a1a1a" stroke-width="0.25" >ns</text>
<text x="391.70" y="14.00" font-size="18.8" text-anchor="start" font-weight="bold" font-style="normal" fill="#000" >c</text>
<rect x="405.00" y="18.10" width="35.9" height="13.1" fill="#e6e6e8"/>
<text x="406.60" y="28.10" font-size="10.6" fill="#8b3fae" font-weight="bold"><tspan font-weight="normal">&#916;</tspan><tspan font-style="italic">cysE</tspan></text>
<text x="0.00" y="0.00" font-size="12" text-anchor="middle" font-weight="normal" font-style="normal" fill="#1a1a1a" stroke="#1a1a1a" stroke-width="0.25" transform="translate(412.90,74.80) rotate(-90)" >Aversion ratio</text>
<text x="0.00" y="0.00" font-size="12" text-anchor="middle" font-weight="normal" font-style="normal" fill="#1a1a1a" stroke="#1a1a1a" stroke-width="0.25" transform="translate(426.60,73.30) rotate(-90)" >(16-20 hrs)</text>
<line x1="454.60" y1="36.60" x2="454.60" y2="120.00" stroke="#1a1a1a" stroke-width="1.3" />
<line x1="450.00" y1="119.40" x2="454.60" y2="119.40" stroke="#1a1a1a" stroke-width="1.2" />
<text x="448.90" y="123.30" font-size="11" text-anchor="end" font-weight="normal" font-style="normal" fill="#1a1a1a" stroke="#1a1a1a" stroke-width="0.25" >0.0</text>
<line x1="450.00" y1="102.96" x2="454.60" y2="102.96" stroke="#1a1a1a" stroke-width="1.2" />
<text x="448.90" y="106.86" font-size="11" text-anchor="end" font-weight="normal" font-style="normal" fill="#1a1a1a" stroke="#1a1a1a" stroke-width="0.25" >0.2</text>
<line x1="450.00" y1="86.52" x2="454.60" y2="86.52" stroke="#1a1a1a" stroke-width="1.2" />
<text x="448.90" y="90.42" font-size="11" text-anchor="end" font-weight="normal" font-style="normal" fill="#1a1a1a" stroke="#1a1a1a" stroke-width="0.25" >0.4</text>
<line x1="450.00" y1="70.08" x2="454.60" y2="70.08" stroke="#1a1a1a" stroke-width="1.2" />
<text x="448.90" y="73.98" font-size="11" text-anchor="end" font-weight="normal" font-style="normal" fill="#1a1a1a" stroke="#1a1a1a" stroke-width="0.25" >0.6</text>
<line x1="450.00" y1="53.64" x2="454.60" y2="53.64" stroke="#1a1a1a" stroke-width="1.2" />
<text x="448.90" y="57.54" font-size="11" text-anchor="end" font-weight="normal" font-style="normal" fill="#1a1a1a" stroke="#1a1a1a" stroke-width="0.25" >0.8</text>
<line x1="450.00" y1="37.20" x2="454.60" y2="37.20" stroke="#1a1a1a" stroke-width="1.2" />
<text x="448.90" y="41.10" font-size="11" text-anchor="end" font-weight="normal" font-style="normal" fill="#1a1a1a" stroke="#1a1a1a" stroke-width="0.25" >1.0</text>
<line x1="467.80" y1="67.20" x2="467.80" y2="73.40" stroke="#8a8a8a" stroke-width="0.85" />
<line x1="467.80" y1="83.00" x2="467.80" y2="86.50" stroke="#8a8a8a" stroke-width="0.85" />
<line x1="464.40" y1="67.20" x2="471.20" y2="67.20" stroke="#9a9a9a" stroke-width="0.9" />
<line x1="464.40" y1="86.50" x2="471.20" y2="86.50" stroke="#9a9a9a" stroke-width="0.9" />
<rect x="461.60" y="73.40" width="12.40" height="9.60" fill="#7d58ae" stroke="#3e2a60" stroke-width="0.9"/>
<line x1="461.60" y1="78.00" x2="474.00" y2="78.00" stroke="#3e2a60" stroke-width="0.9" />
<circle cx="467.92" cy="82.84" r="1.25" fill="none" stroke="#1e1e1e" stroke-width="0.95"/>
<circle cx="467.63" cy="68.71" r="1.25" fill="none" stroke="#1e1e1e" stroke-width="0.95"/>
<circle cx="470.66" cy="81.74" r="1.25" fill="none" stroke="#1e1e1e" stroke-width="0.95"/>
<circle cx="467.92" cy="74.30" r="1.25" fill="none" stroke="#1e1e1e" stroke-width="0.95"/>
<circle cx="465.04" cy="73.97" r="1.25" fill="none" stroke="#1e1e1e" stroke-width="0.95"/>
<circle cx="470.62" cy="69.98" r="1.25" fill="none" stroke="#1e1e1e" stroke-width="0.95"/>
<circle cx="467.95" cy="78.23" r="1.25" fill="none" stroke="#1e1e1e" stroke-width="0.95"/>
<circle cx="472.04" cy="74.73" r="1.25" fill="none" stroke="#1e1e1e" stroke-width="0.95"/>
<circle cx="465.11" cy="76.93" r="1.25" fill="none" stroke="#1e1e1e" stroke-width="0.95"/>
<circle cx="471.74" cy="73.93" r="1.25" fill="none" stroke="#1e1e1e" stroke-width="0.95"/>
<circle cx="467.74" cy="86.50" r="1.25" fill="none" stroke="#1e1e1e" stroke-width="0.95"/>
<circle cx="471.32" cy="75.76" r="1.25" fill="none" stroke="#1e1e1e" stroke-width="0.95"/>
<circle cx="470.57" cy="67.20" r="1.25" fill="none" stroke="#1e1e1e" stroke-width="0.95"/>
<circle cx="469.29" cy="74.31" r="1.25" fill="none" stroke="#1e1e1e" stroke-width="0.95"/>
<circle cx="465.12" cy="82.57" r="1.25" fill="none" stroke="#1e1e1e" stroke-width="0.95"/>
<line x1="486.75" y1="87.50" x2="486.75" y2="94.80" stroke="#8a8a8a" stroke-width="0.85" />
<line x1="486.75" y1="110.00" x2="486.75" y2="110.50" stroke="#8a8a8a" stroke-width="0.85" />
<line x1="483.35" y1="87.50" x2="490.15" y2="87.50" stroke="#9a9a9a" stroke-width="0.9" />
<line x1="483.35" y1="110.50" x2="490.15" y2="110.50" stroke="#9a9a9a" stroke-width="0.9" />
<rect x="480.55" y="94.80" width="12.40" height="15.20" fill="#7d58ae" stroke="#3e2a60" stroke-width="0.9"/>
<line x1="480.55" y1="99.60" x2="492.95" y2="99.60" stroke="#3e2a60" stroke-width="0.9" />
<circle cx="486.90" cy="109.03" r="1.25" fill="none" stroke="#1e1e1e" stroke-width="0.95"/>
<circle cx="486.58" cy="101.58" r="1.25" fill="none" stroke="#1e1e1e" stroke-width="0.95"/>
<circle cx="484.03" cy="109.25" r="1.25" fill="none" stroke="#1e1e1e" stroke-width="0.95"/>
<circle cx="486.79" cy="95.42" r="1.25" fill="none" stroke="#1e1e1e" stroke-width="0.95"/>
<circle cx="490.69" cy="109.42" r="1.25" fill="none" stroke="#1e1e1e" stroke-width="0.95"/>
<circle cx="490.30" cy="110.50" r="1.25" fill="none" stroke="#1e1e1e" stroke-width="0.95"/>
<circle cx="489.67" cy="93.36" r="1.25" fill="none" stroke="#1e1e1e" stroke-width="0.95"/>
<circle cx="483.82" cy="95.75" r="1.25" fill="none" stroke="#1e1e1e" stroke-width="0.95"/>
<circle cx="487.99" cy="109.76" r="1.25" fill="none" stroke="#1e1e1e" stroke-width="0.95"/>
<circle cx="484.25" cy="107.63" r="1.25" fill="none" stroke="#1e1e1e" stroke-width="0.95"/>
<circle cx="486.76" cy="92.01" r="1.25" fill="none" stroke="#1e1e1e" stroke-width="0.95"/>
<circle cx="489.64" cy="103.20" r="1.25" fill="none" stroke="#1e1e1e" stroke-width="0.95"/>
<circle cx="490.99" cy="96.25" r="1.25" fill="none" stroke="#1e1e1e" stroke-width="0.95"/>
<circle cx="486.66" cy="87.50" r="1.25" fill="none" stroke="#1e1e1e" stroke-width="0.95"/>
<circle cx="487.42" cy="95.45" r="1.25" fill="none" stroke="#1e1e1e" stroke-width="0.95"/>
<line x1="505.70" y1="88.40" x2="505.70" y2="88.40" stroke="#8a8a8a" stroke-width="0.85" />
<line x1="505.70" y1="104.50" x2="505.70" y2="108.70" stroke="#8a8a8a" stroke-width="0.85" />
<line x1="502.30" y1="88.40" x2="509.10" y2="88.40" stroke="#9a9a9a" stroke-width="0.9" />
<line x1="502.30" y1="108.70" x2="509.10" y2="108.70" stroke="#9a9a9a" stroke-width="0.9" />
<rect x="499.50" y="88.40" width="12.40" height="16.10" fill="#7d58ae" stroke="#3e2a60" stroke-width="0.9"/>
<line x1="499.50" y1="98.10" x2="511.90" y2="98.10" stroke="#3e2a60" stroke-width="0.9" />
<circle cx="505.80" cy="91.94" r="1.25" fill="none" stroke="#1e1e1e" stroke-width="0.95"/>
<circle cx="505.58" cy="98.98" r="1.25" fill="none" stroke="#1e1e1e" stroke-width="0.95"/>
<circle cx="505.62" cy="88.40" r="1.25" fill="none" stroke="#1e1e1e" stroke-width="0.95"/>
<circle cx="505.60" cy="104.15" r="1.25" fill="none" stroke="#1e1e1e" stroke-width="0.95"/>
<circle cx="508.59" cy="106.31" r="1.25" fill="none" stroke="#1e1e1e" stroke-width="0.95"/>
<circle cx="508.44" cy="90.46" r="1.25" fill="none" stroke="#1e1e1e" stroke-width="0.95"/>
<circle cx="502.77" cy="105.82" r="1.25" fill="none" stroke="#1e1e1e" stroke-width="0.95"/>
<circle cx="501.45" cy="88.86" r="1.25" fill="none" stroke="#1e1e1e" stroke-width="0.95"/>
<circle cx="508.47" cy="99.33" r="1.25" fill="none" stroke="#1e1e1e" stroke-width="0.95"/>
<circle cx="507.49" cy="88.78" r="1.25" fill="none" stroke="#1e1e1e" stroke-width="0.95"/>
<circle cx="508.54" cy="103.53" r="1.25" fill="none" stroke="#1e1e1e" stroke-width="0.95"/>
<circle cx="501.76" cy="104.16" r="1.25" fill="none" stroke="#1e1e1e" stroke-width="0.95"/>
<circle cx="505.40" cy="88.60" r="1.25" fill="none" stroke="#1e1e1e" stroke-width="0.95"/>
<circle cx="505.75" cy="108.70" r="1.25" fill="none" stroke="#1e1e1e" stroke-width="0.95"/>
<circle cx="503.91" cy="104.39" r="1.25" fill="none" stroke="#1e1e1e" stroke-width="0.95"/>
<line x1="524.65" y1="67.20" x2="524.65" y2="73.90" stroke="#8a8a8a" stroke-width="0.85" />
<line x1="524.65" y1="89.40" x2="524.65" y2="96.20" stroke="#8a8a8a" stroke-width="0.85" />
<line x1="521.25" y1="67.20" x2="528.05" y2="67.20" stroke="#9a9a9a" stroke-width="0.9" />
<line x1="521.25" y1="96.20" x2="528.05" y2="96.20" stroke="#9a9a9a" stroke-width="0.9" />
<rect x="518.45" y="73.90" width="12.40" height="15.50" fill="#7d58ae" stroke="#3e2a60" stroke-width="0.9"/>
<line x1="518.45" y1="81.70" x2="530.85" y2="81.70" stroke="#3e2a60" stroke-width="0.9" />
<circle cx="524.69" cy="90.80" r="1.25" fill="none" stroke="#1e1e1e" stroke-width="0.95"/>
<circle cx="527.48" cy="88.57" r="1.25" fill="none" stroke="#1e1e1e" stroke-width="0.95"/>
<circle cx="524.71" cy="79.96" r="1.25" fill="none" stroke="#1e1e1e" stroke-width="0.95"/>
<circle cx="524.55" cy="74.89" r="1.25" fill="none" stroke="#1e1e1e" stroke-width="0.95"/>
<circle cx="524.83" cy="69.71" r="1.25" fill="none" stroke="#1e1e1e" stroke-width="0.95"/>
<circle cx="524.85" cy="84.53" r="1.25" fill="none" stroke="#1e1e1e" stroke-width="0.95"/>
<circle cx="524.74" cy="96.20" r="1.25" fill="none" stroke="#1e1e1e" stroke-width="0.95"/>
<circle cx="527.50" cy="83.10" r="1.25" fill="none" stroke="#1e1e1e" stroke-width="0.95"/>
<circle cx="527.53" cy="75.78" r="1.25" fill="none" stroke="#1e1e1e" stroke-width="0.95"/>
<circle cx="521.81" cy="74.06" r="1.25" fill="none" stroke="#1e1e1e" stroke-width="0.95"/>
<circle cx="522.06" cy="82.33" r="1.25" fill="none" stroke="#1e1e1e" stroke-width="0.95"/>
<circle cx="521.72" cy="89.14" r="1.25" fill="none" stroke="#1e1e1e" stroke-width="0.95"/>
<circle cx="526.08" cy="67.20" r="1.25" fill="none" stroke="#1e1e1e" stroke-width="0.95"/>
<circle cx="522.43" cy="74.47" r="1.25" fill="none" stroke="#1e1e1e" stroke-width="0.95"/>
<circle cx="524.47" cy="88.61" r="1.25" fill="none" stroke="#1e1e1e" stroke-width="0.95"/>
<line x1="543.60" y1="54.20" x2="543.60" y2="72.20" stroke="#8a8a8a" stroke-width="0.85" />
<line x1="543.60" y1="80.70" x2="543.60" y2="93.80" stroke="#8a8a8a" stroke-width="0.85" />
<line x1="540.20" y1="54.20" x2="547.00" y2="54.20" stroke="#9a9a9a" stroke-width="0.9" />
<line x1="540.20" y1="93.80" x2="547.00" y2="93.80" stroke="#9a9a9a" stroke-width="0.9" />
<rect x="537.40" y="72.20" width="12.40" height="8.50" fill="#7d58ae" stroke="#3e2a60" stroke-width="0.9"/>
<line x1="537.40" y1="76.80" x2="549.80" y2="76.80" stroke="#3e2a60" stroke-width="0.9" />
<circle cx="543.67" cy="72.94" r="1.25" fill="none" stroke="#1e1e1e" stroke-width="0.95"/>
<circle cx="543.58" cy="80.65" r="1.25" fill="none" stroke="#1e1e1e" stroke-width="0.95"/>
<circle cx="547.68" cy="73.39" r="1.25" fill="none" stroke="#1e1e1e" stroke-width="0.95"/>
<circle cx="540.84" cy="74.75" r="1.25" fill="none" stroke="#1e1e1e" stroke-width="0.95"/>
<circle cx="543.79" cy="58.91" r="1.25" fill="none" stroke="#1e1e1e" stroke-width="0.95"/>
<circle cx="543.56" cy="93.80" r="1.25" fill="none" stroke="#1e1e1e" stroke-width="0.95"/>
<circle cx="543.55" cy="54.20" r="1.25" fill="none" stroke="#1e1e1e" stroke-width="0.95"/>
<circle cx="543.48" cy="76.09" r="1.25" fill="none" stroke="#1e1e1e" stroke-width="0.95"/>
<circle cx="543.60" cy="73.19" r="1.25" fill="none" stroke="#1e1e1e" stroke-width="0.95"/>
<circle cx="546.21" cy="77.95" r="1.25" fill="none" stroke="#1e1e1e" stroke-width="0.95"/>
<circle cx="547.86" cy="80.30" r="1.25" fill="none" stroke="#1e1e1e" stroke-width="0.95"/>
<circle cx="543.66" cy="90.11" r="1.25" fill="none" stroke="#1e1e1e" stroke-width="0.95"/>
<circle cx="540.77" cy="82.29" r="1.25" fill="none" stroke="#1e1e1e" stroke-width="0.95"/>
<circle cx="542.49" cy="80.44" r="1.25" fill="none" stroke="#1e1e1e" stroke-width="0.95"/>
<circle cx="543.28" cy="72.44" r="1.25" fill="none" stroke="#1e1e1e" stroke-width="0.95"/>
<line x1="562.55" y1="64.90" x2="562.55" y2="69.10" stroke="#8a8a8a" stroke-width="0.85" />
<line x1="562.55" y1="80.70" x2="562.55" y2="87.50" stroke="#8a8a8a" stroke-width="0.85" />
<line x1="559.15" y1="64.90" x2="565.95" y2="64.90" stroke="#9a9a9a" stroke-width="0.9" />
<line x1="559.15" y1="87.50" x2="565.95" y2="87.50" stroke="#9a9a9a" stroke-width="0.9" />
<rect x="556.35" y="69.10" width="12.40" height="11.60" fill="#7d58ae" stroke="#3e2a60" stroke-width="0.9"/>
<line x1="556.35" y1="77.80" x2="568.75" y2="77.80" stroke="#3e2a60" stroke-width="0.9" />
<circle cx="562.73" cy="77.23" r="1.25" fill="none" stroke="#1e1e1e" stroke-width="0.95"/>
<circle cx="562.70" cy="80.40" r="1.25" fill="none" stroke="#1e1e1e" stroke-width="0.95"/>
<circle cx="562.45" cy="69.84" r="1.25" fill="none" stroke="#1e1e1e" stroke-width="0.95"/>
<circle cx="559.63" cy="80.13" r="1.25" fill="none" stroke="#1e1e1e" stroke-width="0.95"/>
<circle cx="565.31" cy="69.82" r="1.25" fill="none" stroke="#1e1e1e" stroke-width="0.95"/>
<circle cx="559.90" cy="77.14" r="1.25" fill="none" stroke="#1e1e1e" stroke-width="0.95"/>
<circle cx="562.41" cy="87.50" r="1.25" fill="none" stroke="#1e1e1e" stroke-width="0.95"/>
<circle cx="563.76" cy="67.38" r="1.25" fill="none" stroke="#1e1e1e" stroke-width="0.95"/>
<circle cx="561.03" cy="64.90" r="1.25" fill="none" stroke="#1e1e1e" stroke-width="0.95"/>
<circle cx="566.54" cy="80.14" r="1.25" fill="none" stroke="#1e1e1e" stroke-width="0.95"/>
<circle cx="566.84" cy="77.02" r="1.25" fill="none" stroke="#1e1e1e" stroke-width="0.95"/>
<circle cx="559.59" cy="78.65" r="1.25" fill="none" stroke="#1e1e1e" stroke-width="0.95"/>
<circle cx="564.11" cy="82.92" r="1.25" fill="none" stroke="#1e1e1e" stroke-width="0.95"/>
<circle cx="561.33" cy="84.41" r="1.25" fill="none" stroke="#1e1e1e" stroke-width="0.95"/>
<circle cx="559.60" cy="80.52" r="1.25" fill="none" stroke="#1e1e1e" stroke-width="0.95"/>
<line x1="581.50" y1="61.40" x2="581.50" y2="63.90" stroke="#8a8a8a" stroke-width="0.85" />
<line x1="581.50" y1="94.60" x2="581.50" y2="102.30" stroke="#8a8a8a" stroke-width="0.85" />
<line x1="578.10" y1="61.40" x2="584.90" y2="61.40" stroke="#9a9a9a" stroke-width="0.9" />
<line x1="578.10" y1="102.30" x2="584.90" y2="102.30" stroke="#9a9a9a" stroke-width="0.9" />
<rect x="575.30" y="63.90" width="12.40" height="30.70" fill="#7d58ae" stroke="#3e2a60" stroke-width="0.9"/>
<line x1="575.30" y1="68.00" x2="587.70" y2="68.00" stroke="#3e2a60" stroke-width="0.9" />
<circle cx="581.54" cy="93.93" r="1.25" fill="none" stroke="#1e1e1e" stroke-width="0.95"/>
<circle cx="581.63" cy="90.50" r="1.25" fill="none" stroke="#1e1e1e" stroke-width="0.95"/>
<circle cx="581.60" cy="64.11" r="1.25" fill="none" stroke="#1e1e1e" stroke-width="0.95"/>
<circle cx="581.41" cy="100.37" r="1.25" fill="none" stroke="#1e1e1e" stroke-width="0.95"/>
<circle cx="582.84" cy="61.40" r="1.25" fill="none" stroke="#1e1e1e" stroke-width="0.95"/>
<circle cx="584.27" cy="99.70" r="1.25" fill="none" stroke="#1e1e1e" stroke-width="0.95"/>
<circle cx="578.63" cy="102.30" r="1.25" fill="none" stroke="#1e1e1e" stroke-width="0.95"/>
<circle cx="578.63" cy="64.62" r="1.25" fill="none" stroke="#1e1e1e" stroke-width="0.95"/>
<circle cx="581.32" cy="82.39" r="1.25" fill="none" stroke="#1e1e1e" stroke-width="0.95"/>
<circle cx="585.71" cy="64.66" r="1.25" fill="none" stroke="#1e1e1e" stroke-width="0.95"/>
<circle cx="584.32" cy="93.77" r="1.25" fill="none" stroke="#1e1e1e" stroke-width="0.95"/>
<circle cx="581.31" cy="74.88" r="1.25" fill="none" stroke="#1e1e1e" stroke-width="0.95"/>
<circle cx="578.88" cy="89.76" r="1.25" fill="none" stroke="#1e1e1e" stroke-width="0.95"/>
<circle cx="578.64" cy="94.04" r="1.25" fill="none" stroke="#1e1e1e" stroke-width="0.95"/>
<circle cx="584.16" cy="82.21" r="1.25" fill="none" stroke="#1e1e1e" stroke-width="0.95"/>
<line x1="600.45" y1="102.30" x2="600.45" y2="109.70" stroke="#8a8a8a" stroke-width="0.85" />
<line x1="600.45" y1="119.30" x2="600.45" y2="119.30" stroke="#8a8a8a" stroke-width="0.85" />
<line x1="597.05" y1="102.30" x2="603.85" y2="102.30" stroke="#9a9a9a" stroke-width="0.9" />
<line x1="597.05" y1="119.30" x2="603.85" y2="119.30" stroke="#9a9a9a" stroke-width="0.9" />
<rect x="594.25" y="109.70" width="12.40" height="9.60" fill="#7d58ae" stroke="#3e2a60" stroke-width="0.9"/>
<line x1="594.25" y1="114.00" x2="606.65" y2="114.00" stroke="#3e2a60" stroke-width="0.9" />
<circle cx="600.43" cy="113.33" r="1.25" fill="none" stroke="#1e1e1e" stroke-width="0.95"/>
<circle cx="600.57" cy="110.13" r="1.25" fill="none" stroke="#1e1e1e" stroke-width="0.95"/>
<circle cx="603.19" cy="112.56" r="1.25" fill="none" stroke="#1e1e1e" stroke-width="0.95"/>
<circle cx="600.35" cy="116.20" r="1.25" fill="none" stroke="#1e1e1e" stroke-width="0.95"/>
<circle cx="597.55" cy="110.09" r="1.25" fill="none" stroke="#1e1e1e" stroke-width="0.95"/>
<circle cx="601.67" cy="118.72" r="1.25" fill="none" stroke="#1e1e1e" stroke-width="0.95"/>
<circle cx="597.82" cy="119.30" r="1.25" fill="none" stroke="#1e1e1e" stroke-width="0.95"/>
<circle cx="604.40" cy="116.16" r="1.25" fill="none" stroke="#1e1e1e" stroke-width="0.95"/>
<circle cx="604.47" cy="119.20" r="1.25" fill="none" stroke="#1e1e1e" stroke-width="0.95"/>
<circle cx="600.37" cy="105.25" r="1.25" fill="none" stroke="#1e1e1e" stroke-width="0.95"/>
<circle cx="596.27" cy="113.95" r="1.25" fill="none" stroke="#1e1e1e" stroke-width="0.95"/>
<circle cx="604.64" cy="109.72" r="1.25" fill="none" stroke="#1e1e1e" stroke-width="0.95"/>
<circle cx="596.19" cy="107.55" r="1.25" fill="none" stroke="#1e1e1e" stroke-width="0.95"/>
<circle cx="600.27" cy="102.30" r="1.25" fill="none" stroke="#1e1e1e" stroke-width="0.95"/>
<circle cx="597.28" cy="117.97" r="1.25" fill="none" stroke="#1e1e1e" stroke-width="0.95"/>
<line x1="619.40" y1="110.00" x2="619.40" y2="111.00" stroke="#8a8a8a" stroke-width="0.85" />
<line x1="619.40" y1="116.40" x2="619.40" y2="117.40" stroke="#8a8a8a" stroke-width="0.85" />
<line x1="616.00" y1="110.00" x2="622.80" y2="110.00" stroke="#9a9a9a" stroke-width="0.9" />
<line x1="616.00" y1="117.40" x2="622.80" y2="117.40" stroke="#9a9a9a" stroke-width="0.9" />
<rect x="613.20" y="111.00" width="12.40" height="5.40" fill="#7d58ae" stroke="#3e2a60" stroke-width="0.9"/>
<line x1="613.20" y1="113.50" x2="625.60" y2="113.50" stroke="#3e2a60" stroke-width="0.9" />
<circle cx="619.30" cy="117.40" r="1.25" fill="none" stroke="#1e1e1e" stroke-width="0.95"/>
<circle cx="622.06" cy="115.92" r="1.25" fill="none" stroke="#1e1e1e" stroke-width="0.95"/>
<circle cx="616.65" cy="116.13" r="1.25" fill="none" stroke="#1e1e1e" stroke-width="0.95"/>
<circle cx="621.17" cy="115.79" r="1.25" fill="none" stroke="#1e1e1e" stroke-width="0.95"/>
<circle cx="619.39" cy="111.15" r="1.25" fill="none" stroke="#1e1e1e" stroke-width="0.95"/>
<circle cx="623.44" cy="115.60" r="1.25" fill="none" stroke="#1e1e1e" stroke-width="0.95"/>
<circle cx="623.57" cy="111.30" r="1.25" fill="none" stroke="#1e1e1e" stroke-width="0.95"/>
<circle cx="621.29" cy="115.96" r="1.25" fill="none" stroke="#1e1e1e" stroke-width="0.95"/>
<circle cx="616.63" cy="110.00" r="1.25" fill="none" stroke="#1e1e1e" stroke-width="0.95"/>
<circle cx="615.97" cy="115.65" r="1.25" fill="none" stroke="#1e1e1e" stroke-width="0.95"/>
<circle cx="622.49" cy="111.94" r="1.25" fill="none" stroke="#1e1e1e" stroke-width="0.95"/>
<circle cx="617.47" cy="114.03" r="1.25" fill="none" stroke="#1e1e1e" stroke-width="0.95"/>
<circle cx="621.43" cy="113.33" r="1.25" fill="none" stroke="#1e1e1e" stroke-width="0.95"/>
<circle cx="619.06" cy="111.47" r="1.25" fill="none" stroke="#1e1e1e" stroke-width="0.95"/>
<circle cx="615.42" cy="111.40" r="1.25" fill="none" stroke="#1e1e1e" stroke-width="0.95"/>
<line x1="454.00" y1="119.40" x2="632.50" y2="119.40" stroke="#1a1a1a" stroke-width="1.3" />
<line x1="467.80" y1="119.40" x2="467.80" y2="123.70" stroke="#1a1a1a" stroke-width="1.2" />
<line x1="486.75" y1="119.40" x2="486.75" y2="123.70" stroke="#1a1a1a" stroke-width="1.2" />
<line x1="505.70" y1="119.40" x2="505.70" y2="123.70" stroke="#1a1a1a" stroke-width="1.2" />
<line x1="524.65" y1="119.40" x2="524.65" y2="123.70" stroke="#1a1a1a" stroke-width="1.2" />
<line x1="543.60" y1="119.40" x2="543.60" y2="123.70" stroke="#1a1a1a" stroke-width="1.2" />
<line x1="562.55" y1="119.40" x2="562.55" y2="123.70" stroke="#1a1a1a" stroke-width="1.2" />
<line x1="581.50" y1="119.40" x2="581.50" y2="123.70" stroke="#1a1a1a" stroke-width="1.2" />
<line x1="600.45" y1="119.40" x2="600.45" y2="123.70" stroke="#1a1a1a" stroke-width="1.2" />
<line x1="619.40" y1="119.40" x2="619.40" y2="123.70" stroke="#1a1a1a" stroke-width="1.2" />
<line x1="467.00" y1="23.10" x2="618.50" y2="23.10" stroke="#1a1a1a" stroke-width="1.3" />
<line x1="467.60" y1="23.10" x2="467.60" y2="30.50" stroke="#1a1a1a" stroke-width="1.3" />
<line x1="486.30" y1="23.10" x2="486.30" y2="30.50" stroke="#1a1a1a" stroke-width="1.3" />
<line x1="505.00" y1="23.10" x2="505.00" y2="39.20" stroke="#1a1a1a" stroke-width="1.3" />
<line x1="524.20" y1="23.10" x2="524.20" y2="30.50" stroke="#1a1a1a" stroke-width="1.3" />
<line x1="543.30" y1="23.10" x2="543.30" y2="30.50" stroke="#1a1a1a" stroke-width="1.3" />
<line x1="562.00" y1="23.10" x2="562.00" y2="30.50" stroke="#1a1a1a" stroke-width="1.3" />
<line x1="580.60" y1="23.10" x2="580.60" y2="30.50" stroke="#1a1a1a" stroke-width="1.3" />
<line x1="599.30" y1="23.10" x2="599.30" y2="30.50" stroke="#1a1a1a" stroke-width="1.3" />
<line x1="617.90" y1="23.10" x2="617.90" y2="30.50" stroke="#1a1a1a" stroke-width="1.3" />
<polygon points="462.90,32.20 463.56,33.79 465.28,33.93 463.97,35.05 464.37,36.72 462.90,35.83 461.43,36.72 461.83,35.05 460.52,33.93 462.24,33.79" fill="#1a1a1a"/>
<polygon points="467.60,32.20 468.26,33.79 469.98,33.93 468.67,35.05 469.07,36.72 467.60,35.83 466.13,36.72 466.53,35.05 465.22,33.93 466.94,33.79" fill="#1a1a1a"/>
<polygon points="472.30,32.20 472.96,33.79 474.68,33.93 473.37,35.05 473.77,36.72 472.30,35.83 470.83,36.72 471.23,35.05 469.92,33.93 471.64,33.79" fill="#1a1a1a"/>
<text x="486.30" y="39.20" font-size="12.2" text-anchor="middle" font-weight="normal" font-style="normal" fill="#1a1a1a" stroke="#1a1a1a" stroke-width="0.25" >ns</text>
<polygon points="519.50,32.20 520.16,33.79 521.88,33.93 520.57,35.05 520.97,36.72 519.50,35.83 518.03,36.72 518.43,35.05 517.12,33.93 518.84,33.79" fill="#1a1a1a"/>
<polygon points="524.20,32.20 524.86,33.79 526.58,33.93 525.27,35.05 525.67,36.72 524.20,35.83 522.73,36.72 523.13,35.05 521.82,33.93 523.54,33.79" fill="#1a1a1a"/>
<polygon points="528.90,32.20 529.56,33.79 531.28,33.93 529.97,35.05 530.37,36.72 528.90,35.83 527.43,36.72 527.83,35.05 526.52,33.93 528.24,33.79" fill="#1a1a1a"/>
<polygon points="538.60,32.20 539.26,33.79 540.98,33.93 539.67,35.05 540.07,36.72 538.60,35.83 537.13,36.72 537.53,35.05 536.22,33.93 537.94,33.79" fill="#1a1a1a"/>
<polygon points="543.30,32.20 543.96,33.79 545.68,33.93 544.37,35.05 544.77,36.72 543.30,35.83 541.83,36.72 542.23,35.05 540.92,33.93 542.64,33.79" fill="#1a1a1a"/>
<polygon points="548.00,32.20 548.66,33.79 550.38,33.93 549.07,35.05 549.47,36.72 548.00,35.83 546.53,36.72 546.93,35.05 545.62,33.93 547.34,33.79" fill="#1a1a1a"/>
<polygon points="557.30,32.20 557.96,33.79 559.68,33.93 558.37,35.05 558.77,36.72 557.30,35.83 555.83,36.72 556.23,35.05 554.92,33.93 556.64,33.79" fill="#1a1a1a"/>
<polygon points="562.00,32.20 562.66,33.79 564.38,33.93 563.07,35.05 563.47,36.72 562.00,35.83 560.53,36.72 560.93,35.05 559.62,33.93 561.34,33.79" fill="#1a1a1a"/>
<polygon points="566.70,32.20 567.36,33.79 569.08,33.93 567.77,35.05 568.17,36.72 566.70,35.83 565.23,36.72 565.63,35.05 564.32,33.93 566.04,33.79" fill="#1a1a1a"/>
<polygon points="575.90,32.20 576.56,33.79 578.28,33.93 576.97,35.05 577.37,36.72 575.90,35.83 574.43,36.72 574.83,35.05 573.52,33.93 575.24,33.79" fill="#1a1a1a"/>
<polygon points="580.60,32.20 581.26,33.79 582.98,33.93 581.67,35.05 582.07,36.72 580.60,35.83 579.13,36.72 579.53,35.05 578.22,33.93 579.94,33.79" fill="#1a1a1a"/>
<polygon points="585.30,32.20 585.96,33.79 587.68,33.93 586.37,35.05 586.77,36.72 585.30,35.83 583.83,36.72 584.23,35.05 582.92,33.93 584.64,33.79" fill="#1a1a1a"/>
<polygon points="594.60,32.20 595.26,33.79 596.98,33.93 595.67,35.05 596.07,36.72 594.60,35.83 593.13,36.72 593.53,35.05 592.22,33.93 593.94,33.79" fill="#1a1a1a"/>
<polygon points="599.30,32.20 599.96,33.79 601.68,33.93 600.37,35.05 600.77,36.72 599.30,35.83 597.83,36.72 598.23,35.05 596.92,33.93 598.64,33.79" fill="#1a1a1a"/>
<polygon points="604.00,32.20 604.66,33.79 606.38,33.93 605.07,35.05 605.47,36.72 604.00,35.83 602.53,36.72 602.93,35.05 601.62,33.93 603.34,33.79" fill="#1a1a1a"/>
<polygon points="613.20,32.20 613.86,33.79 615.58,33.93 614.27,35.05 614.67,36.72 613.20,35.83 611.73,36.72 612.13,35.05 610.82,33.93 612.54,33.79" fill="#1a1a1a"/>
<polygon points="617.90,32.20 618.56,33.79 620.28,33.93 618.97,35.05 619.37,36.72 617.90,35.83 616.43,36.72 616.83,35.05 615.52,33.93 617.24,33.79" fill="#1a1a1a"/>
<polygon points="622.60,32.20 623.26,33.79 624.98,33.93 623.67,35.05 624.07,36.72 622.60,35.83 621.13,36.72 621.53,35.05 620.22,33.93 621.94,33.79" fill="#1a1a1a"/>
<text x="446.40" y="135.30" font-size="10.5" text-anchor="end" font-weight="normal" font-style="italic" fill="#1a1a1a" stroke="#1a1a1a" stroke-width="0.25" >ser-1</text>
<text x="451.50" y="144.50" font-size="10.5" text-anchor="end" font-weight="normal" font-style="normal" fill="#1a1a1a" stroke="#1a1a1a" stroke-width="0.25" >rescue</text>
<line x1="465.40" y1="132.70" x2="469.40" y2="132.70" stroke="#111" stroke-width="1.6" />
<line x1="484.35" y1="132.70" x2="488.35" y2="132.70" stroke="#111" stroke-width="1.6" />
<line x1="503.30" y1="132.70" x2="507.30" y2="132.70" stroke="#111" stroke-width="1.6" />
<line x1="521.65" y1="132.70" x2="527.65" y2="132.70" stroke="#111" stroke-width="1.3" />
<line x1="524.65" y1="129.70" x2="524.65" y2="135.70" stroke="#111" stroke-width="1.3" />
<line x1="540.60" y1="132.70" x2="546.60" y2="132.70" stroke="#111" stroke-width="1.3" />
<line x1="543.60" y1="129.70" x2="543.60" y2="135.70" stroke="#111" stroke-width="1.3" />
<line x1="559.55" y1="132.70" x2="565.55" y2="132.70" stroke="#111" stroke-width="1.3" />
<line x1="562.55" y1="129.70" x2="562.55" y2="135.70" stroke="#111" stroke-width="1.3" />
<line x1="578.50" y1="132.70" x2="584.50" y2="132.70" stroke="#111" stroke-width="1.3" />
<line x1="581.50" y1="129.70" x2="581.50" y2="135.70" stroke="#111" stroke-width="1.3" />
<line x1="597.45" y1="132.70" x2="603.45" y2="132.70" stroke="#111" stroke-width="1.3" />
<line x1="600.45" y1="129.70" x2="600.45" y2="135.70" stroke="#111" stroke-width="1.3" />
<line x1="616.40" y1="132.70" x2="622.40" y2="132.70" stroke="#111" stroke-width="1.3" />
<line x1="619.40" y1="129.70" x2="619.40" y2="135.70" stroke="#111" stroke-width="1.3" />
<text x="523.00" y="148.00" font-size="10" text-anchor="start" font-weight="normal" font-style="italic" fill="#1a1a1a" stroke="#1a1a1a" stroke-width="0.25" >ser-1::</text>
<text x="523.00" y="159.00" font-size="10" text-anchor="start" font-weight="normal" font-style="italic" fill="#1a1a1a" stroke="#1a1a1a" stroke-width="0.25" >ser-1</text>
<text x="560.00" y="148.00" font-size="10" text-anchor="start" font-weight="normal" font-style="italic" fill="#1a1a1a" stroke="#1a1a1a" stroke-width="0.25" >glr-3::</text>
<text x="560.00" y="159.00" font-size="10" text-anchor="start" font-weight="normal" font-style="italic" fill="#1a1a1a" stroke="#1a1a1a" stroke-width="0.25" >ser-1</text>
<text x="600.00" y="148.00" font-size="10" text-anchor="start" font-weight="normal" font-style="italic" fill="#1a1a1a" stroke="#1a1a1a" stroke-width="0.25" >tbh-1::</text>
<text x="600.00" y="159.00" font-size="10" text-anchor="start" font-weight="normal" font-style="italic" fill="#1a1a1a" stroke="#1a1a1a" stroke-width="0.25" >ser-1</text>
<line x1="459.00" y1="163.00" x2="473.00" y2="163.00" stroke="#555" stroke-width="1.6" />
<line x1="479.00" y1="163.00" x2="493.00" y2="163.00" stroke="#555" stroke-width="1.6" />
<line x1="501.00" y1="163.00" x2="515.00" y2="163.00" stroke="#555" stroke-width="1.6" />
<line x1="522.40" y1="163.00" x2="548.60" y2="163.00" stroke="#555" stroke-width="1.6" />
<line x1="560.00" y1="163.00" x2="586.40" y2="163.00" stroke="#555" stroke-width="1.6" />
<line x1="596.60" y1="163.00" x2="623.00" y2="163.00" stroke="#555" stroke-width="1.6" />
<text x="466.00" y="175.50" font-size="10" text-anchor="middle" font-weight="normal" font-style="normal" fill="#1a1a1a" stroke="#1a1a1a" stroke-width="0.25" >WT</text>
<text x="485.50" y="175.50" font-size="10" text-anchor="middle" font-weight="normal" font-style="italic" fill="#1a1a1a" stroke="#1a1a1a" stroke-width="0.25" >tph-1</text>
<text x="508.00" y="175.50" font-size="10" text-anchor="middle" font-weight="normal" font-style="italic" fill="#1a1a1a" stroke="#1a1a1a" stroke-width="0.25" >ser-1</text>
<text x="570.00" y="175.50" font-size="10" text-anchor="middle" font-weight="normal" font-style="normal" fill="#1a1a1a" stroke="#1a1a1a" stroke-width="0.25" >RIA</text>
<text x="610.00" y="175.50" font-size="10" text-anchor="middle" font-weight="normal" font-style="normal" fill="#1a1a1a" stroke="#1a1a1a" stroke-width="0.25" >RIC</text>
<text x="654.50" y="53.50" font-size="11.6" text-anchor="middle" font-weight="normal" font-style="normal" fill="#333" stroke="#333" stroke-width="0.25" >serotonin</text>
<line x1="654.70" y1="57.00" x2="654.70" y2="68.50" stroke="#333" stroke-width="1" />
<path d="M651.7,65 L654.7,69.3 L657.7,65" fill="none" stroke="#333" stroke-width="1"/>
<text x="655.90" y="80.50" font-size="10.1" text-anchor="middle" font-weight="bold" font-style="normal" fill="#8e44ad" >SER-1</text>
<line x1="646.50" y1="82.80" x2="663.50" y2="82.80" stroke="#bbb" stroke-width="0.5" />
<rect x="649.00" y="83.4" width="1.7" height="6.0" fill="#7e3a9c"/>
<rect x="650.87" y="83.4" width="1.7" height="6.0" fill="#7e3a9c"/>
<rect x="652.74" y="83.4" width="1.7" height="6.0" fill="#7e3a9c"/>
<rect x="654.61" y="83.4" width="1.7" height="6.0" fill="#7e3a9c"/>
<rect x="656.48" y="83.4" width="1.7" height="6.0" fill="#7e3a9c"/>
<rect x="658.35" y="83.4" width="1.7" height="6.0" fill="#7e3a9c"/>
<rect x="660.22" y="83.4" width="1.7" height="6.0" fill="#7e3a9c"/>
<circle cx="655.3" cy="102.2" r="12.9" fill="#7e3a9c" stroke="#3a1f4a" stroke-width="0.5"/>
<text x="655.30" y="106.60" font-size="12" text-anchor="middle" font-weight="normal" font-style="normal" fill="#fff" >RIA</text>
<line x1="655.40" y1="119.80" x2="655.40" y2="130.00" stroke="#333" stroke-width="1" />
<path d="M652.4,126.5 L655.4,130.8 L658.4,126.5" fill="none" stroke="#333" stroke-width="1"/>
<text x="658.50" y="143.40" font-size="11.5" text-anchor="middle" font-weight="normal" font-style="normal" fill="#333" stroke="#333" stroke-width="0.25" >aversion</text>
<text x="-0.60" y="200.30" font-size="18.8" text-anchor="start" font-weight="bold" font-style="normal" fill="#000" >d</text>
<rect x="20.00" y="209.60" width="35.9" height="13.1" fill="#e6e6e8"/>
<text x="21.60" y="219.60" font-size="10.6" fill="#8b3fae" font-weight="bold"><tspan font-weight="normal">&#916;</tspan><tspan font-style="italic">cysE</tspan></text>
<text x="0.00" y="0.00" font-size="12" text-anchor="middle" font-weight="normal" font-style="normal" fill="#1a1a1a" stroke="#1a1a1a" stroke-width="0.25" transform="translate(27.80,268.00) rotate(-90)" >Aversion ratio</text>
<text x="0.00" y="0.00" font-size="12" text-anchor="middle" font-weight="normal" font-style="normal" fill="#1a1a1a" stroke="#1a1a1a" stroke-width="0.25" transform="translate(41.50,266.50) rotate(-90)" >(16-20 hrs)</text>
<line x1="69.50" y1="229.40" x2="69.50" y2="313.10" stroke="#1a1a1a" stroke-width="1.3" />
<line x1="64.90" y1="312.50" x2="69.50" y2="312.50" stroke="#1a1a1a" stroke-width="1.2" />
<text x="63.80" y="316.40" font-size="11" text-anchor="end" font-weight="normal" font-style="normal" fill="#1a1a1a" stroke="#1a1a1a" stroke-width="0.25" >0.0</text>
<line x1="64.90" y1="296.00" x2="69.50" y2="296.00" stroke="#1a1a1a" stroke-width="1.2" />
<text x="63.80" y="299.90" font-size="11" text-anchor="end" font-weight="normal" font-style="normal" fill="#1a1a1a" stroke="#1a1a1a" stroke-width="0.25" >0.2</text>
<line x1="64.90" y1="279.50" x2="69.50" y2="279.50" stroke="#1a1a1a" stroke-width="1.2" />
<text x="63.80" y="283.40" font-size="11" text-anchor="end" font-weight="normal" font-style="normal" fill="#1a1a1a" stroke="#1a1a1a" stroke-width="0.25" >0.4</text>
<line x1="64.90" y1="263.00" x2="69.50" y2="263.00" stroke="#1a1a1a" stroke-width="1.2" />
<text x="63.80" y="266.90" font-size="11" text-anchor="end" font-weight="normal" font-style="normal" fill="#1a1a1a" stroke="#1a1a1a" stroke-width="0.25" >0.6</text>
<line x1="64.90" y1="246.50" x2="69.50" y2="246.50" stroke="#1a1a1a" stroke-width="1.2" />
<text x="63.80" y="250.40" font-size="11" text-anchor="end" font-weight="normal" font-style="normal" fill="#1a1a1a" stroke="#1a1a1a" stroke-width="0.25" >0.8</text>
<line x1="64.90" y1="230.00" x2="69.50" y2="230.00" stroke="#1a1a1a" stroke-width="1.2" />
<text x="63.80" y="233.90" font-size="11" text-anchor="end" font-weight="normal" font-style="normal" fill="#1a1a1a" stroke="#1a1a1a" stroke-width="0.25" >1.0</text>
<line x1="82.00" y1="241.00" x2="82.00" y2="265.60" stroke="#8a8a8a" stroke-width="0.85" />
<line x1="82.00" y1="277.60" x2="82.00" y2="283.60" stroke="#8a8a8a" stroke-width="0.85" />
<line x1="78.60" y1="241.00" x2="85.40" y2="241.00" stroke="#9a9a9a" stroke-width="0.9" />
<line x1="78.60" y1="283.60" x2="85.40" y2="283.60" stroke="#9a9a9a" stroke-width="0.9" />
<rect x="75.80" y="265.60" width="12.40" height="12.00" fill="#7d58ae" stroke="#3e2a60" stroke-width="0.9"/>
<line x1="75.80" y1="274.40" x2="88.20" y2="274.40" stroke="#3e2a60" stroke-width="0.9" />
<circle cx="82.15" cy="254.92" r="1.25" fill="none" stroke="#1e1e1e" stroke-width="0.95"/>
<circle cx="81.83" cy="266.01" r="1.25" fill="none" stroke="#1e1e1e" stroke-width="0.95"/>
<circle cx="82.08" cy="276.43" r="1.25" fill="none" stroke="#1e1e1e" stroke-width="0.95"/>
<circle cx="79.06" cy="276.66" r="1.25" fill="none" stroke="#1e1e1e" stroke-width="0.95"/>
<circle cx="84.68" cy="277.39" r="1.25" fill="none" stroke="#1e1e1e" stroke-width="0.95"/>
<circle cx="81.83" cy="283.60" r="1.25" fill="none" stroke="#1e1e1e" stroke-width="0.95"/>
<circle cx="85.97" cy="266.02" r="1.25" fill="none" stroke="#1e1e1e" stroke-width="0.95"/>
<circle cx="78.18" cy="277.02" r="1.25" fill="none" stroke="#1e1e1e" stroke-width="0.95"/>
<circle cx="81.83" cy="280.58" r="1.25" fill="none" stroke="#1e1e1e" stroke-width="0.95"/>
<circle cx="77.96" cy="266.38" r="1.25" fill="none" stroke="#1e1e1e" stroke-width="0.95"/>
<circle cx="84.90" cy="274.31" r="1.25" fill="none" stroke="#1e1e1e" stroke-width="0.95"/>
<circle cx="78.17" cy="277.32" r="1.25" fill="none" stroke="#1e1e1e" stroke-width="0.95"/>
<circle cx="81.82" cy="259.90" r="1.25" fill="none" stroke="#1e1e1e" stroke-width="0.95"/>
<circle cx="85.03" cy="275.09" r="1.25" fill="none" stroke="#1e1e1e" stroke-width="0.95"/>
<circle cx="82.05" cy="241.00" r="1.25" fill="none" stroke="#1e1e1e" stroke-width="0.95"/>
<line x1="100.80" y1="271.40" x2="100.80" y2="279.40" stroke="#8a8a8a" stroke-width="0.85" />
<line x1="100.80" y1="291.60" x2="100.80" y2="299.40" stroke="#8a8a8a" stroke-width="0.85" />
<line x1="97.40" y1="271.40" x2="104.20" y2="271.40" stroke="#9a9a9a" stroke-width="0.9" />
<line x1="97.40" y1="299.40" x2="104.20" y2="299.40" stroke="#9a9a9a" stroke-width="0.9" />
<rect x="94.60" y="279.40" width="12.40" height="12.20" fill="#7d58ae" stroke="#3e2a60" stroke-width="0.9"/>
<line x1="94.60" y1="288.00" x2="107.00" y2="288.00" stroke="#3e2a60" stroke-width="0.9" />
<circle cx="100.97" cy="287.66" r="1.25" fill="none" stroke="#1e1e1e" stroke-width="0.95"/>
<circle cx="100.76" cy="279.88" r="1.25" fill="none" stroke="#1e1e1e" stroke-width="0.95"/>
<circle cx="102.12" cy="277.42" r="1.25" fill="none" stroke="#1e1e1e" stroke-width="0.95"/>
<circle cx="100.86" cy="273.46" r="1.25" fill="none" stroke="#1e1e1e" stroke-width="0.95"/>
<circle cx="100.61" cy="291.41" r="1.25" fill="none" stroke="#1e1e1e" stroke-width="0.95"/>
<circle cx="97.89" cy="288.60" r="1.25" fill="none" stroke="#1e1e1e" stroke-width="0.95"/>
<circle cx="100.78" cy="296.81" r="1.25" fill="none" stroke="#1e1e1e" stroke-width="0.95"/>
<circle cx="103.64" cy="280.30" r="1.25" fill="none" stroke="#1e1e1e" stroke-width="0.95"/>
<circle cx="103.59" cy="296.81" r="1.25" fill="none" stroke="#1e1e1e" stroke-width="0.95"/>
<circle cx="102.20" cy="299.40" r="1.25" fill="none" stroke="#1e1e1e" stroke-width="0.95"/>
<circle cx="96.59" cy="279.72" r="1.25" fill="none" stroke="#1e1e1e" stroke-width="0.95"/>
<circle cx="103.73" cy="290.66" r="1.25" fill="none" stroke="#1e1e1e" stroke-width="0.95"/>
<circle cx="103.46" cy="271.40" r="1.25" fill="none" stroke="#1e1e1e" stroke-width="0.95"/>
<circle cx="105.24" cy="290.92" r="1.25" fill="none" stroke="#1e1e1e" stroke-width="0.95"/>
<circle cx="103.12" cy="279.71" r="1.25" fill="none" stroke="#1e1e1e" stroke-width="0.95"/>
<line x1="119.60" y1="256.60" x2="119.60" y2="259.60" stroke="#8a8a8a" stroke-width="0.85" />
<line x1="119.60" y1="270.40" x2="119.60" y2="295.40" stroke="#8a8a8a" stroke-width="0.85" />
<line x1="116.20" y1="256.60" x2="123.00" y2="256.60" stroke="#9a9a9a" stroke-width="0.9" />
<line x1="116.20" y1="295.40" x2="123.00" y2="295.40" stroke="#9a9a9a" stroke-width="0.9" />
<rect x="113.40" y="259.60" width="12.40" height="10.80" fill="#7d58ae" stroke="#3e2a60" stroke-width="0.9"/>
<line x1="113.40" y1="262.00" x2="125.80" y2="262.00" stroke="#3e2a60" stroke-width="0.9" />
<circle cx="119.63" cy="295.40" r="1.25" fill="none" stroke="#1e1e1e" stroke-width="0.95"/>
<circle cx="119.51" cy="285.85" r="1.25" fill="none" stroke="#1e1e1e" stroke-width="0.95"/>
<circle cx="119.67" cy="269.92" r="1.25" fill="none" stroke="#1e1e1e" stroke-width="0.95"/>
<circle cx="119.55" cy="261.42" r="1.25" fill="none" stroke="#1e1e1e" stroke-width="0.95"/>
<circle cx="122.46" cy="260.16" r="1.25" fill="none" stroke="#1e1e1e" stroke-width="0.95"/>
<circle cx="116.74" cy="260.06" r="1.25" fill="none" stroke="#1e1e1e" stroke-width="0.95"/>
<circle cx="122.76" cy="262.41" r="1.25" fill="none" stroke="#1e1e1e" stroke-width="0.95"/>
<circle cx="119.93" cy="261.51" r="1.25" fill="none" stroke="#1e1e1e" stroke-width="0.95"/>
<circle cx="116.42" cy="259.90" r="1.25" fill="none" stroke="#1e1e1e" stroke-width="0.95"/>
<circle cx="115.13" cy="260.64" r="1.25" fill="none" stroke="#1e1e1e" stroke-width="0.95"/>
<circle cx="119.60" cy="256.60" r="1.25" fill="none" stroke="#1e1e1e" stroke-width="0.95"/>
<circle cx="116.77" cy="270.39" r="1.25" fill="none" stroke="#1e1e1e" stroke-width="0.95"/>
<circle cx="122.46" cy="268.44" r="1.25" fill="none" stroke="#1e1e1e" stroke-width="0.95"/>
<circle cx="124.10" cy="269.96" r="1.25" fill="none" stroke="#1e1e1e" stroke-width="0.95"/>
<circle cx="119.60" cy="273.59" r="1.25" fill="none" stroke="#1e1e1e" stroke-width="0.95"/>
<line x1="138.40" y1="258.60" x2="138.40" y2="264.00" stroke="#8a8a8a" stroke-width="0.85" />
<line x1="138.40" y1="274.40" x2="138.40" y2="279.60" stroke="#8a8a8a" stroke-width="0.85" />
<line x1="135.00" y1="258.60" x2="141.80" y2="258.60" stroke="#9a9a9a" stroke-width="0.9" />
<line x1="135.00" y1="279.60" x2="141.80" y2="279.60" stroke="#9a9a9a" stroke-width="0.9" />
<rect x="132.20" y="264.00" width="12.40" height="10.40" fill="#7d58ae" stroke="#3e2a60" stroke-width="0.9"/>
<line x1="132.20" y1="267.00" x2="144.60" y2="267.00" stroke="#3e2a60" stroke-width="0.9" />
<circle cx="138.20" cy="279.60" r="1.25" fill="none" stroke="#1e1e1e" stroke-width="0.95"/>
<circle cx="138.47" cy="273.51" r="1.25" fill="none" stroke="#1e1e1e" stroke-width="0.95"/>
<circle cx="139.87" cy="270.79" r="1.25" fill="none" stroke="#1e1e1e" stroke-width="0.95"/>
<circle cx="138.32" cy="264.73" r="1.25" fill="none" stroke="#1e1e1e" stroke-width="0.95"/>
<circle cx="141.21" cy="264.99" r="1.25" fill="none" stroke="#1e1e1e" stroke-width="0.95"/>
<circle cx="141.29" cy="274.02" r="1.25" fill="none" stroke="#1e1e1e" stroke-width="0.95"/>
<circle cx="138.37" cy="258.60" r="1.25" fill="none" stroke="#1e1e1e" stroke-width="0.95"/>
<circle cx="135.64" cy="273.15" r="1.25" fill="none" stroke="#1e1e1e" stroke-width="0.95"/>
<circle cx="135.52" cy="264.48" r="1.25" fill="none" stroke="#1e1e1e" stroke-width="0.95"/>
<circle cx="135.13" cy="271.22" r="1.25" fill="none" stroke="#1e1e1e" stroke-width="0.95"/>
<circle cx="140.36" cy="274.00" r="1.25" fill="none" stroke="#1e1e1e" stroke-width="0.95"/>
<circle cx="141.10" cy="277.52" r="1.25" fill="none" stroke="#1e1e1e" stroke-width="0.95"/>
<circle cx="140.50" cy="273.51" r="1.25" fill="none" stroke="#1e1e1e" stroke-width="0.95"/>
<circle cx="134.53" cy="273.66" r="1.25" fill="none" stroke="#1e1e1e" stroke-width="0.95"/>
<circle cx="138.43" cy="261.91" r="1.25" fill="none" stroke="#1e1e1e" stroke-width="0.95"/>
<line x1="157.20" y1="253.00" x2="157.20" y2="263.00" stroke="#8a8a8a" stroke-width="0.85" />
<line x1="157.20" y1="276.00" x2="157.20" y2="287.60" stroke="#8a8a8a" stroke-width="0.85" />
<line x1="153.80" y1="253.00" x2="160.60" y2="253.00" stroke="#9a9a9a" stroke-width="0.9" />
<line x1="153.80" y1="287.60" x2="160.60" y2="287.60" stroke="#9a9a9a" stroke-width="0.9" />
<rect x="151.00" y="263.00" width="12.40" height="13.00" fill="#7d58ae" stroke="#3e2a60" stroke-width="0.9"/>
<line x1="151.00" y1="272.00" x2="163.40" y2="272.00" stroke="#3e2a60" stroke-width="0.9" />
<circle cx="157.11" cy="281.71" r="1.25" fill="none" stroke="#1e1e1e" stroke-width="0.95"/>
<circle cx="157.17" cy="263.40" r="1.25" fill="none" stroke="#1e1e1e" stroke-width="0.95"/>
<circle cx="157.18" cy="275.34" r="1.25" fill="none" stroke="#1e1e1e" stroke-width="0.95"/>
<circle cx="157.17" cy="287.60" r="1.25" fill="none" stroke="#1e1e1e" stroke-width="0.95"/>
<circle cx="157.06" cy="271.61" r="1.25" fill="none" stroke="#1e1e1e" stroke-width="0.95"/>
<circle cx="159.84" cy="264.18" r="1.25" fill="none" stroke="#1e1e1e" stroke-width="0.95"/>
<circle cx="159.89" cy="275.90" r="1.25" fill="none" stroke="#1e1e1e" stroke-width="0.95"/>
<circle cx="157.38" cy="253.00" r="1.25" fill="none" stroke="#1e1e1e" stroke-width="0.95"/>
<circle cx="154.42" cy="263.10" r="1.25" fill="none" stroke="#1e1e1e" stroke-width="0.95"/>
<circle cx="154.28" cy="275.98" r="1.25" fill="none" stroke="#1e1e1e" stroke-width="0.95"/>
<circle cx="158.87" cy="263.33" r="1.25" fill="none" stroke="#1e1e1e" stroke-width="0.95"/>
<circle cx="161.17" cy="261.49" r="1.25" fill="none" stroke="#1e1e1e" stroke-width="0.95"/>
<circle cx="160.06" cy="271.57" r="1.25" fill="none" stroke="#1e1e1e" stroke-width="0.95"/>
<circle cx="158.87" cy="273.96" r="1.25" fill="none" stroke="#1e1e1e" stroke-width="0.95"/>
<circle cx="153.04" cy="265.48" r="1.25" fill="none" stroke="#1e1e1e" stroke-width="0.95"/>
<line x1="176.00" y1="248.40" x2="176.00" y2="256.00" stroke="#8a8a8a" stroke-width="0.85" />
<line x1="176.00" y1="281.60" x2="176.00" y2="285.00" stroke="#8a8a8a" stroke-width="0.85" />
<line x1="172.60" y1="248.40" x2="179.40" y2="248.40" stroke="#9a9a9a" stroke-width="0.9" />
<line x1="172.60" y1="285.00" x2="179.40" y2="285.00" stroke="#9a9a9a" stroke-width="0.9" />
<rect x="169.80" y="256.00" width="12.40" height="25.60" fill="#7d58ae" stroke="#3e2a60" stroke-width="0.9"/>
<line x1="169.80" y1="274.40" x2="182.20" y2="274.40" stroke="#3e2a60" stroke-width="0.9" />
<circle cx="176.09" cy="267.46" r="1.25" fill="none" stroke="#1e1e1e" stroke-width="0.95"/>
<circle cx="175.97" cy="263.72" r="1.25" fill="none" stroke="#1e1e1e" stroke-width="0.95"/>
<circle cx="178.64" cy="269.08" r="1.25" fill="none" stroke="#1e1e1e" stroke-width="0.95"/>
<circle cx="176.16" cy="285.00" r="1.25" fill="none" stroke="#1e1e1e" stroke-width="0.95"/>
<circle cx="178.58" cy="266.17" r="1.25" fill="none" stroke="#1e1e1e" stroke-width="0.95"/>
<circle cx="176.01" cy="256.83" r="1.25" fill="none" stroke="#1e1e1e" stroke-width="0.95"/>
<circle cx="173.37" cy="265.16" r="1.25" fill="none" stroke="#1e1e1e" stroke-width="0.95"/>
<circle cx="175.95" cy="248.40" r="1.25" fill="none" stroke="#1e1e1e" stroke-width="0.95"/>
<circle cx="176.03" cy="280.93" r="1.25" fill="none" stroke="#1e1e1e" stroke-width="0.95"/>
<circle cx="173.07" cy="256.61" r="1.25" fill="none" stroke="#1e1e1e" stroke-width="0.95"/>
<circle cx="173.10" cy="269.60" r="1.25" fill="none" stroke="#1e1e1e" stroke-width="0.95"/>
<circle cx="175.97" cy="276.50" r="1.25" fill="none" stroke="#1e1e1e" stroke-width="0.95"/>
<circle cx="173.07" cy="280.65" r="1.25" fill="none" stroke="#1e1e1e" stroke-width="0.95"/>
<circle cx="177.41" cy="250.84" r="1.25" fill="none" stroke="#1e1e1e" stroke-width="0.95"/>
<circle cx="179.94" cy="256.84" r="1.25" fill="none" stroke="#1e1e1e" stroke-width="0.95"/>
<line x1="68.90" y1="312.50" x2="187.70" y2="312.50" stroke="#1a1a1a" stroke-width="1.3" />
<line x1="82.00" y1="312.50" x2="82.00" y2="316.80" stroke="#1a1a1a" stroke-width="1.2" />
<line x1="100.80" y1="312.50" x2="100.80" y2="316.80" stroke="#1a1a1a" stroke-width="1.2" />
<line x1="119.60" y1="312.50" x2="119.60" y2="316.80" stroke="#1a1a1a" stroke-width="1.2" />
<line x1="138.40" y1="312.50" x2="138.40" y2="316.80" stroke="#1a1a1a" stroke-width="1.2" />
<line x1="157.20" y1="312.50" x2="157.20" y2="316.80" stroke="#1a1a1a" stroke-width="1.2" />
<line x1="176.00" y1="312.50" x2="176.00" y2="316.80" stroke="#1a1a1a" stroke-width="1.2" />
<line x1="81.40" y1="215.60" x2="176.60" y2="215.60" stroke="#1a1a1a" stroke-width="1.3" />
<line x1="82.00" y1="215.60" x2="82.00" y2="223.00" stroke="#1a1a1a" stroke-width="1.3" />
<line x1="100.80" y1="215.60" x2="100.80" y2="231.60" stroke="#1a1a1a" stroke-width="1.3" />
<line x1="119.60" y1="215.60" x2="119.60" y2="223.00" stroke="#1a1a1a" stroke-width="1.3" />
<line x1="138.40" y1="215.60" x2="138.40" y2="223.00" stroke="#1a1a1a" stroke-width="1.3" />
<line x1="157.20" y1="215.60" x2="157.20" y2="223.00" stroke="#1a1a1a" stroke-width="1.3" />
<line x1="176.00" y1="215.60" x2="176.00" y2="223.00" stroke="#1a1a1a" stroke-width="1.3" />
<polygon points="77.30,224.90 77.96,226.49 79.68,226.63 78.37,227.75 78.77,229.42 77.30,228.53 75.83,229.42 76.23,227.75 74.92,226.63 76.64,226.49" fill="#1a1a1a"/>
<polygon points="82.00,224.90 82.66,226.49 84.38,226.63 83.07,227.75 83.47,229.42 82.00,228.53 80.53,229.42 80.93,227.75 79.62,226.63 81.34,226.49" fill="#1a1a1a"/>
<polygon points="86.70,224.90 87.36,226.49 89.08,226.63 87.77,227.75 88.17,229.42 86.70,228.53 85.23,229.42 85.63,227.75 84.32,226.63 86.04,226.49" fill="#1a1a1a"/>
<polygon points="114.90,224.90 115.56,226.49 117.28,226.63 115.97,227.75 116.37,229.42 114.90,228.53 113.43,229.42 113.83,227.75 112.52,226.63 114.24,226.49" fill="#1a1a1a"/>
<polygon points="119.60,224.90 120.26,226.49 121.98,226.63 120.67,227.75 121.07,229.42 119.60,228.53 118.13,229.42 118.53,227.75 117.22,226.63 118.94,226.49" fill="#1a1a1a"/>
<polygon points="124.30,224.90 124.96,226.49 126.68,226.63 125.37,227.75 125.77,229.42 124.30,228.53 122.83,229.42 123.23,227.75 121.92,226.63 123.64,226.49" fill="#1a1a1a"/>
<polygon points="133.70,224.90 134.36,226.49 136.08,226.63 134.77,227.75 135.17,229.42 133.70,228.53 132.23,229.42 132.63,227.75 131.32,226.63 133.04,226.49" fill="#1a1a1a"/>
<polygon points="138.40,224.90 139.06,226.49 140.78,226.63 139.47,227.75 139.87,229.42 138.40,228.53 136.93,229.42 137.33,227.75 136.02,226.63 137.74,226.49" fill="#1a1a1a"/>
<polygon points="143.10,224.90 143.76,226.49 145.48,226.63 144.17,227.75 144.57,229.42 143.10,228.53 141.63,229.42 142.03,227.75 140.72,226.63 142.44,226.49" fill="#1a1a1a"/>
<polygon points="152.50,224.90 153.16,226.49 154.88,226.63 153.57,227.75 153.97,229.42 152.50,228.53 151.03,229.42 151.43,227.75 150.12,226.63 151.84,226.49" fill="#1a1a1a"/>
<polygon points="157.20,224.90 157.86,226.49 159.58,226.63 158.27,227.75 158.67,229.42 157.20,228.53 155.73,229.42 156.13,227.75 154.82,226.63 156.54,226.49" fill="#1a1a1a"/>
<polygon points="161.90,224.90 162.56,226.49 164.28,226.63 162.97,227.75 163.37,229.42 161.90,228.53 160.43,229.42 160.83,227.75 159.52,226.63 161.24,226.49" fill="#1a1a1a"/>
<polygon points="171.30,224.90 171.96,226.49 173.68,226.63 172.37,227.75 172.77,229.42 171.30,228.53 169.83,229.42 170.23,227.75 168.92,226.63 170.64,226.49" fill="#1a1a1a"/>
<polygon points="176.00,224.90 176.66,226.49 178.38,226.63 177.07,227.75 177.47,229.42 176.00,228.53 174.53,229.42 174.93,227.75 173.62,226.63 175.34,226.49" fill="#1a1a1a"/>
<polygon points="180.70,224.90 181.36,226.49 183.08,226.63 181.77,227.75 182.17,229.42 180.70,228.53 179.23,229.42 179.63,227.75 178.32,226.63 180.04,226.49" fill="#1a1a1a"/>
<text x="70.80" y="327.90" font-size="10.8" text-anchor="end" font-weight="normal" font-style="italic" fill="#1a1a1a" stroke="#1a1a1a" stroke-width="0.25" >mod-1</text>
<text x="72.00" y="338.00" font-size="10.8" text-anchor="end" font-weight="normal" font-style="normal" fill="#1a1a1a" stroke="#1a1a1a" stroke-width="0.25" >rescue</text>
<line x1="79.60" y1="325.60" x2="83.60" y2="325.60" stroke="#111" stroke-width="1.6" />
<line x1="98.40" y1="325.60" x2="102.40" y2="325.60" stroke="#111" stroke-width="1.6" />
<line x1="116.60" y1="325.60" x2="122.60" y2="325.60" stroke="#111" stroke-width="1.3" />
<line x1="119.60" y1="322.60" x2="119.60" y2="328.60" stroke="#111" stroke-width="1.3" />
<line x1="135.40" y1="325.60" x2="141.40" y2="325.60" stroke="#111" stroke-width="1.3" />
<line x1="138.40" y1="322.60" x2="138.40" y2="328.60" stroke="#111" stroke-width="1.3" />
<line x1="154.20" y1="325.60" x2="160.20" y2="325.60" stroke="#111" stroke-width="1.3" />
<line x1="157.20" y1="322.60" x2="157.20" y2="328.60" stroke="#111" stroke-width="1.3" />
<line x1="173.00" y1="325.60" x2="179.00" y2="325.60" stroke="#111" stroke-width="1.3" />
<line x1="176.00" y1="322.60" x2="176.00" y2="328.60" stroke="#111" stroke-width="1.3" />
<text x="118.20" y="340.30" font-size="10" text-anchor="start" font-weight="normal" font-style="italic" fill="#1a1a1a" stroke="#1a1a1a" stroke-width="0.25" >tdc-1::</text>
<text x="118.20" y="351.00" font-size="10" text-anchor="start" font-weight="normal" font-style="italic" fill="#1a1a1a" stroke="#1a1a1a" stroke-width="0.25" >mod-1</text>
<text x="157.70" y="340.30" font-size="10" text-anchor="start" font-weight="normal" font-style="italic" fill="#1a1a1a" stroke="#1a1a1a" stroke-width="0.25" >tbh-1::</text>
<text x="157.70" y="351.00" font-size="10" text-anchor="start" font-weight="normal" font-style="italic" fill="#1a1a1a" stroke="#1a1a1a" stroke-width="0.25" >mod-1</text>
<line x1="72.40" y1="355.80" x2="87.00" y2="355.80" stroke="#555" stroke-width="1.6" />
<line x1="94.00" y1="355.80" x2="108.60" y2="355.80" stroke="#555" stroke-width="1.6" />
<line x1="115.30" y1="355.80" x2="141.60" y2="355.80" stroke="#555" stroke-width="1.6" />
<line x1="154.20" y1="355.80" x2="180.40" y2="355.80" stroke="#555" stroke-width="1.6" />
<text x="78.00" y="369.00" font-size="10" text-anchor="middle" font-weight="normal" font-style="normal" fill="#1a1a1a" stroke="#1a1a1a" stroke-width="0.25" >WT</text>
<text x="102.60" y="369.50" font-size="10" text-anchor="middle" font-weight="normal" font-style="italic" fill="#1a1a1a" stroke="#1a1a1a" stroke-width="0.25" >mod-1</text>
<text x="128.70" y="369.50" font-size="10" text-anchor="middle" font-weight="normal" font-style="normal" fill="#1a1a1a" stroke="#1a1a1a" stroke-width="0.25" >RIM</text>
<text x="128.70" y="379.30" font-size="10" text-anchor="middle" font-weight="normal" font-style="normal" fill="#1a1a1a" stroke="#1a1a1a" stroke-width="0.25" >RIC</text>
<text x="167.10" y="369.50" font-size="10" text-anchor="middle" font-weight="normal" font-style="normal" fill="#1a1a1a" stroke="#1a1a1a" stroke-width="0.25" >RIC</text>
<text x="202.20" y="202.10" font-size="18.8" text-anchor="start" font-weight="bold" font-style="normal" fill="#000" >e</text>
<rect x="219.00" y="201.00" width="35.9" height="13.1" fill="#e6e6e8"/>
<text x="220.60" y="211.00" font-size="10.6" fill="#8b3fae" font-weight="bold"><tspan font-weight="normal">&#916;</tspan><tspan font-style="italic">cysE</tspan></text>
<text x="0.00" y="0.00" font-size="12" text-anchor="middle" font-weight="normal" font-style="normal" fill="#1a1a1a" stroke="#1a1a1a" stroke-width="0.25" transform="translate(222.70,268.00) rotate(-90)" >Aversion ratio</text>
<text x="0.00" y="0.00" font-size="12" text-anchor="middle" font-weight="normal" font-style="normal" fill="#1a1a1a" stroke="#1a1a1a" stroke-width="0.25" transform="translate(236.40,266.50) rotate(-90)" >(16-20 hrs)</text>
<line x1="264.40" y1="229.60" x2="264.40" y2="313.05" stroke="#1a1a1a" stroke-width="1.3" />
<line x1="259.80" y1="312.45" x2="264.40" y2="312.45" stroke="#1a1a1a" stroke-width="1.2" />
<text x="258.70" y="316.35" font-size="11" text-anchor="end" font-weight="normal" font-style="normal" fill="#1a1a1a" stroke="#1a1a1a" stroke-width="0.25" >0.0</text>
<line x1="259.80" y1="296.00" x2="264.40" y2="296.00" stroke="#1a1a1a" stroke-width="1.2" />
<text x="258.70" y="299.90" font-size="11" text-anchor="end" font-weight="normal" font-style="normal" fill="#1a1a1a" stroke="#1a1a1a" stroke-width="0.25" >0.2</text>
<line x1="259.80" y1="279.55" x2="264.40" y2="279.55" stroke="#1a1a1a" stroke-width="1.2" />
<text x="258.70" y="283.45" font-size="11" text-anchor="end" font-weight="normal" font-style="normal" fill="#1a1a1a" stroke="#1a1a1a" stroke-width="0.25" >0.4</text>
<line x1="259.80" y1="263.10" x2="264.40" y2="263.10" stroke="#1a1a1a" stroke-width="1.2" />
<text x="258.70" y="267.00" font-size="11" text-anchor="end" font-weight="normal" font-style="normal" fill="#1a1a1a" stroke="#1a1a1a" stroke-width="0.25" >0.6</text>
<line x1="259.80" y1="246.65" x2="264.40" y2="246.65" stroke="#1a1a1a" stroke-width="1.2" />
<text x="258.70" y="250.55" font-size="11" text-anchor="end" font-weight="normal" font-style="normal" fill="#1a1a1a" stroke="#1a1a1a" stroke-width="0.25" >0.8</text>
<line x1="259.80" y1="230.20" x2="264.40" y2="230.20" stroke="#1a1a1a" stroke-width="1.2" />
<text x="258.70" y="234.10" font-size="11" text-anchor="end" font-weight="normal" font-style="normal" fill="#1a1a1a" stroke="#1a1a1a" stroke-width="0.25" >1.0</text>
<line x1="276.40" y1="264.00" x2="276.40" y2="268.00" stroke="#8a8a8a" stroke-width="0.85" />
<line x1="276.40" y1="281.60" x2="276.40" y2="287.00" stroke="#8a8a8a" stroke-width="0.85" />
<line x1="273.00" y1="264.00" x2="279.80" y2="264.00" stroke="#9a9a9a" stroke-width="0.9" />
<line x1="273.00" y1="287.00" x2="279.80" y2="287.00" stroke="#9a9a9a" stroke-width="0.9" />
<rect x="270.20" y="268.00" width="12.40" height="13.60" fill="#7d58ae" stroke="#3e2a60" stroke-width="0.9"/>
<line x1="270.20" y1="277.00" x2="282.60" y2="277.00" stroke="#3e2a60" stroke-width="0.9" />
<circle cx="276.33" cy="268.21" r="1.25" fill="none" stroke="#1e1e1e" stroke-width="0.95"/>
<circle cx="279.26" cy="268.25" r="1.25" fill="none" stroke="#1e1e1e" stroke-width="0.95"/>
<circle cx="276.56" cy="284.28" r="1.25" fill="none" stroke="#1e1e1e" stroke-width="0.95"/>
<circle cx="276.58" cy="272.49" r="1.25" fill="none" stroke="#1e1e1e" stroke-width="0.95"/>
<circle cx="276.49" cy="281.03" r="1.25" fill="none" stroke="#1e1e1e" stroke-width="0.95"/>
<circle cx="279.33" cy="280.50" r="1.25" fill="none" stroke="#1e1e1e" stroke-width="0.95"/>
<circle cx="276.42" cy="264.00" r="1.25" fill="none" stroke="#1e1e1e" stroke-width="0.95"/>
<circle cx="279.25" cy="273.42" r="1.25" fill="none" stroke="#1e1e1e" stroke-width="0.95"/>
<circle cx="279.22" cy="285.35" r="1.25" fill="none" stroke="#1e1e1e" stroke-width="0.95"/>
<circle cx="273.76" cy="272.01" r="1.25" fill="none" stroke="#1e1e1e" stroke-width="0.95"/>
<circle cx="272.18" cy="268.64" r="1.25" fill="none" stroke="#1e1e1e" stroke-width="0.95"/>
<circle cx="273.79" cy="278.77" r="1.25" fill="none" stroke="#1e1e1e" stroke-width="0.95"/>
<circle cx="272.23" cy="281.26" r="1.25" fill="none" stroke="#1e1e1e" stroke-width="0.95"/>
<circle cx="275.64" cy="268.70" r="1.25" fill="none" stroke="#1e1e1e" stroke-width="0.95"/>
<circle cx="275.06" cy="287.00" r="1.25" fill="none" stroke="#1e1e1e" stroke-width="0.95"/>
<line x1="294.80" y1="271.00" x2="294.80" y2="282.00" stroke="#8a8a8a" stroke-width="0.85" />
<line x1="294.80" y1="294.00" x2="294.80" y2="299.60" stroke="#8a8a8a" stroke-width="0.85" />
<line x1="291.40" y1="271.00" x2="298.20" y2="271.00" stroke="#9a9a9a" stroke-width="0.9" />
<line x1="291.40" y1="299.60" x2="298.20" y2="299.60" stroke="#9a9a9a" stroke-width="0.9" />
<rect x="288.60" y="282.00" width="12.40" height="12.00" fill="#7d58ae" stroke="#3e2a60" stroke-width="0.9"/>
<line x1="288.60" y1="285.00" x2="301.00" y2="285.00" stroke="#3e2a60" stroke-width="0.9" />
<circle cx="294.66" cy="293.01" r="1.25" fill="none" stroke="#1e1e1e" stroke-width="0.95"/>
<circle cx="294.92" cy="282.02" r="1.25" fill="none" stroke="#1e1e1e" stroke-width="0.95"/>
<circle cx="297.73" cy="291.32" r="1.25" fill="none" stroke="#1e1e1e" stroke-width="0.95"/>
<circle cx="297.73" cy="283.62" r="1.25" fill="none" stroke="#1e1e1e" stroke-width="0.95"/>
<circle cx="290.51" cy="282.46" r="1.25" fill="none" stroke="#1e1e1e" stroke-width="0.95"/>
<circle cx="294.68" cy="296.04" r="1.25" fill="none" stroke="#1e1e1e" stroke-width="0.95"/>
<circle cx="290.79" cy="282.95" r="1.25" fill="none" stroke="#1e1e1e" stroke-width="0.95"/>
<circle cx="291.96" cy="293.54" r="1.25" fill="none" stroke="#1e1e1e" stroke-width="0.95"/>
<circle cx="294.72" cy="271.00" r="1.25" fill="none" stroke="#1e1e1e" stroke-width="0.95"/>
<circle cx="294.87" cy="299.60" r="1.25" fill="none" stroke="#1e1e1e" stroke-width="0.95"/>
<circle cx="293.97" cy="293.63" r="1.25" fill="none" stroke="#1e1e1e" stroke-width="0.95"/>
<circle cx="297.66" cy="296.13" r="1.25" fill="none" stroke="#1e1e1e" stroke-width="0.95"/>
<circle cx="292.40" cy="282.35" r="1.25" fill="none" stroke="#1e1e1e" stroke-width="0.95"/>
<circle cx="294.95" cy="274.55" r="1.25" fill="none" stroke="#1e1e1e" stroke-width="0.95"/>
<circle cx="294.62" cy="277.84" r="1.25" fill="none" stroke="#1e1e1e" stroke-width="0.95"/>
<line x1="313.20" y1="259.00" x2="313.20" y2="268.00" stroke="#8a8a8a" stroke-width="0.85" />
<line x1="313.20" y1="281.00" x2="313.20" y2="283.00" stroke="#8a8a8a" stroke-width="0.85" />
<line x1="309.80" y1="259.00" x2="316.60" y2="259.00" stroke="#9a9a9a" stroke-width="0.9" />
<line x1="309.80" y1="283.00" x2="316.60" y2="283.00" stroke="#9a9a9a" stroke-width="0.9" />
<rect x="307.00" y="268.00" width="12.40" height="13.00" fill="#7d58ae" stroke="#3e2a60" stroke-width="0.9"/>
<line x1="307.00" y1="279.00" x2="319.40" y2="279.00" stroke="#3e2a60" stroke-width="0.9" />
<circle cx="313.36" cy="276.60" r="1.25" fill="none" stroke="#1e1e1e" stroke-width="0.95"/>
<circle cx="315.80" cy="275.00" r="1.25" fill="none" stroke="#1e1e1e" stroke-width="0.95"/>
<circle cx="313.10" cy="261.60" r="1.25" fill="none" stroke="#1e1e1e" stroke-width="0.95"/>
<circle cx="313.38" cy="280.14" r="1.25" fill="none" stroke="#1e1e1e" stroke-width="0.95"/>
<circle cx="316.14" cy="280.16" r="1.25" fill="none" stroke="#1e1e1e" stroke-width="0.95"/>
<circle cx="313.39" cy="268.43" r="1.25" fill="none" stroke="#1e1e1e" stroke-width="0.95"/>
<circle cx="316.11" cy="268.96" r="1.25" fill="none" stroke="#1e1e1e" stroke-width="0.95"/>
<circle cx="310.63" cy="274.58" r="1.25" fill="none" stroke="#1e1e1e" stroke-width="0.95"/>
<circle cx="310.60" cy="270.56" r="1.25" fill="none" stroke="#1e1e1e" stroke-width="0.95"/>
<circle cx="314.76" cy="259.00" r="1.25" fill="none" stroke="#1e1e1e" stroke-width="0.95"/>
<circle cx="313.14" cy="283.00" r="1.25" fill="none" stroke="#1e1e1e" stroke-width="0.95"/>
<circle cx="315.74" cy="271.21" r="1.25" fill="none" stroke="#1e1e1e" stroke-width="0.95"/>
<circle cx="316.09" cy="262.79" r="1.25" fill="none" stroke="#1e1e1e" stroke-width="0.95"/>
<circle cx="310.51" cy="277.98" r="1.25" fill="none" stroke="#1e1e1e" stroke-width="0.95"/>
<circle cx="315.88" cy="277.97" r="1.25" fill="none" stroke="#1e1e1e" stroke-width="0.95"/>
<line x1="331.60" y1="265.00" x2="331.60" y2="273.00" stroke="#8a8a8a" stroke-width="0.85" />
<line x1="331.60" y1="281.00" x2="331.60" y2="283.00" stroke="#8a8a8a" stroke-width="0.85" />
<line x1="328.20" y1="265.00" x2="335.00" y2="265.00" stroke="#9a9a9a" stroke-width="0.9" />
<line x1="328.20" y1="283.00" x2="335.00" y2="283.00" stroke="#9a9a9a" stroke-width="0.9" />
<rect x="325.40" y="273.00" width="12.40" height="8.00" fill="#7d58ae" stroke="#3e2a60" stroke-width="0.9"/>
<line x1="325.40" y1="276.00" x2="337.80" y2="276.00" stroke="#3e2a60" stroke-width="0.9" />
<circle cx="331.45" cy="265.00" r="1.25" fill="none" stroke="#1e1e1e" stroke-width="0.95"/>
<circle cx="331.73" cy="283.00" r="1.25" fill="none" stroke="#1e1e1e" stroke-width="0.95"/>
<circle cx="331.76" cy="273.14" r="1.25" fill="none" stroke="#1e1e1e" stroke-width="0.95"/>
<circle cx="329.01" cy="273.70" r="1.25" fill="none" stroke="#1e1e1e" stroke-width="0.95"/>
<circle cx="335.64" cy="273.38" r="1.25" fill="none" stroke="#1e1e1e" stroke-width="0.95"/>
<circle cx="333.13" cy="267.33" r="1.25" fill="none" stroke="#1e1e1e" stroke-width="0.95"/>
<circle cx="331.70" cy="276.70" r="1.25" fill="none" stroke="#1e1e1e" stroke-width="0.95"/>
<circle cx="332.23" cy="273.31" r="1.25" fill="none" stroke="#1e1e1e" stroke-width="0.95"/>
<circle cx="330.33" cy="280.58" r="1.25" fill="none" stroke="#1e1e1e" stroke-width="0.95"/>
<circle cx="334.22" cy="278.96" r="1.25" fill="none" stroke="#1e1e1e" stroke-width="0.95"/>
<circle cx="334.91" cy="273.99" r="1.25" fill="none" stroke="#1e1e1e" stroke-width="0.95"/>
<circle cx="327.33" cy="280.96" r="1.25" fill="none" stroke="#1e1e1e" stroke-width="0.95"/>
<circle cx="330.72" cy="279.75" r="1.25" fill="none" stroke="#1e1e1e" stroke-width="0.95"/>
<circle cx="328.29" cy="278.94" r="1.25" fill="none" stroke="#1e1e1e" stroke-width="0.95"/>
<circle cx="328.40" cy="280.71" r="1.25" fill="none" stroke="#1e1e1e" stroke-width="0.95"/>
<line x1="263.80" y1="312.45" x2="343.70" y2="312.45" stroke="#1a1a1a" stroke-width="1.3" />
<line x1="276.40" y1="312.45" x2="276.40" y2="316.75" stroke="#1a1a1a" stroke-width="1.2" />
<line x1="294.80" y1="312.45" x2="294.80" y2="316.75" stroke="#1a1a1a" stroke-width="1.2" />
<line x1="313.20" y1="312.45" x2="313.20" y2="316.75" stroke="#1a1a1a" stroke-width="1.2" />
<line x1="331.60" y1="312.45" x2="331.60" y2="316.75" stroke="#1a1a1a" stroke-width="1.2" />
<text x="0.00" y="0.00" font-size="10.5" text-anchor="end" font-weight="normal" font-style="italic" fill="#1a1a1a" stroke="#1a1a1a" stroke-width="0.25" transform="translate(278.40,325.00) rotate(-45)" >WT</text>
<text x="0.00" y="0.00" font-size="10.5" text-anchor="end" font-weight="normal" font-style="italic" fill="#1a1a1a" stroke="#1a1a1a" stroke-width="0.25" transform="translate(296.80,325.00) rotate(-45)" >mod-1</text>
<text x="0.00" y="0.00" font-size="10.5" text-anchor="end" font-weight="normal" font-style="italic" fill="#1a1a1a" stroke="#1a1a1a" stroke-width="0.25" transform="translate(315.20,325.00) rotate(-45)" >tdc-1</text>
<text x="0.00" y="0.00" font-size="10.5" text-anchor="end" font-weight="normal" font-style="italic" fill="#1a1a1a" stroke="#1a1a1a" stroke-width="0.25" transform="translate(333.60,325.00) rotate(-45)" >mod-1 tdc-1</text>
<line x1="275.80" y1="215.20" x2="333.60" y2="215.20" stroke="#1a1a1a" stroke-width="1.3" />
<line x1="276.40" y1="215.20" x2="276.40" y2="230.50" stroke="#1a1a1a" stroke-width="1.3" />
<line x1="295.50" y1="215.20" x2="295.50" y2="221.50" stroke="#1a1a1a" stroke-width="1.3" />
<line x1="313.40" y1="215.20" x2="313.40" y2="221.50" stroke="#1a1a1a" stroke-width="1.3" />
<line x1="333.00" y1="215.20" x2="333.00" y2="221.50" stroke="#1a1a1a" stroke-width="1.3" />
<polygon points="293.15,223.90 293.81,225.49 295.53,225.63 294.22,226.75 294.62,228.42 293.15,227.53 291.68,228.42 292.08,226.75 290.77,225.63 292.49,225.49" fill="#1a1a1a"/>
<polygon points="297.85,223.90 298.51,225.49 300.23,225.63 298.92,226.75 299.32,228.42 297.85,227.53 296.38,228.42 296.78,226.75 295.47,225.63 297.19,225.49" fill="#1a1a1a"/>
<text x="313.40" y="230.00" font-size="12.2" text-anchor="middle" font-weight="normal" font-style="normal" fill="#1a1a1a" stroke="#1a1a1a" stroke-width="0.25" >ns</text>
<text x="333.00" y="230.00" font-size="12.2" text-anchor="middle" font-weight="normal" font-style="normal" fill="#1a1a1a" stroke="#1a1a1a" stroke-width="0.25" >ns</text>
<line x1="294.90" y1="236.00" x2="333.60" y2="236.00" stroke="#1a1a1a" stroke-width="1.3" />
<line x1="295.50" y1="236.00" x2="295.50" y2="243.00" stroke="#1a1a1a" stroke-width="1.3" />
<line x1="313.40" y1="236.00" x2="313.40" y2="243.00" stroke="#1a1a1a" stroke-width="1.3" />
<line x1="333.00" y1="236.00" x2="333.00" y2="252.40" stroke="#1a1a1a" stroke-width="1.3" />
<polygon points="293.15,245.50 293.81,247.09 295.53,247.23 294.22,248.35 294.62,250.02 293.15,249.12 291.68,250.02 292.08,248.35 290.77,247.23 292.49,247.09" fill="#1a1a1a"/>
<polygon points="297.85,245.50 298.51,247.09 300.23,247.23 298.92,248.35 299.32,250.02 297.85,249.12 296.38,250.02 296.78,248.35 295.47,247.23 297.19,247.09" fill="#1a1a1a"/>
<text x="313.40" y="251.50" font-size="12.2" text-anchor="middle" font-weight="normal" font-style="normal" fill="#1a1a1a" stroke="#1a1a1a" stroke-width="0.25" >ns</text>
<line x1="346.30" y1="311.60" x2="349.80" y2="308.50" stroke="#1a1a1a" stroke-width="1.2" />
<line x1="347.80" y1="313.60" x2="351.80" y2="310.40" stroke="#1a1a1a" stroke-width="1.2" />
<line x1="358.50" y1="229.40" x2="358.50" y2="313.05" stroke="#1a1a1a" stroke-width="1.3" />
<line x1="353.90" y1="312.45" x2="358.50" y2="312.45" stroke="#1a1a1a" stroke-width="1.2" />
<line x1="353.90" y1="295.96" x2="358.50" y2="295.96" stroke="#1a1a1a" stroke-width="1.2" />
<line x1="353.90" y1="279.47" x2="358.50" y2="279.47" stroke="#1a1a1a" stroke-width="1.2" />
<line x1="353.90" y1="262.98" x2="358.50" y2="262.98" stroke="#1a1a1a" stroke-width="1.2" />
<line x1="353.90" y1="246.49" x2="358.50" y2="246.49" stroke="#1a1a1a" stroke-width="1.2" />
<line x1="353.90" y1="230.00" x2="358.50" y2="230.00" stroke="#1a1a1a" stroke-width="1.2" />
<line x1="370.00" y1="258.00" x2="370.00" y2="264.00" stroke="#8a8a8a" stroke-width="0.85" />
<line x1="370.00" y1="275.60" x2="370.00" y2="279.60" stroke="#8a8a8a" stroke-width="0.85" />
<line x1="366.60" y1="258.00" x2="373.40" y2="258.00" stroke="#9a9a9a" stroke-width="0.9" />
<line x1="366.60" y1="279.60" x2="373.40" y2="279.60" stroke="#9a9a9a" stroke-width="0.9" />
<rect x="363.80" y="264.00" width="12.40" height="11.60" fill="#7d58ae" stroke="#3e2a60" stroke-width="0.9"/>
<line x1="363.80" y1="272.00" x2="376.20" y2="272.00" stroke="#3e2a60" stroke-width="0.9" />
<circle cx="369.84" cy="266.33" r="1.25" fill="none" stroke="#1e1e1e" stroke-width="0.95"/>
<circle cx="370.14" cy="261.15" r="1.25" fill="none" stroke="#1e1e1e" stroke-width="0.95"/>
<circle cx="369.82" cy="273.54" r="1.25" fill="none" stroke="#1e1e1e" stroke-width="0.95"/>
<circle cx="370.00" cy="269.96" r="1.25" fill="none" stroke="#1e1e1e" stroke-width="0.95"/>
<circle cx="373.94" cy="269.87" r="1.25" fill="none" stroke="#1e1e1e" stroke-width="0.95"/>
<circle cx="369.83" cy="258.00" r="1.25" fill="none" stroke="#1e1e1e" stroke-width="0.95"/>
<circle cx="372.69" cy="274.63" r="1.25" fill="none" stroke="#1e1e1e" stroke-width="0.95"/>
<circle cx="372.93" cy="264.24" r="1.25" fill="none" stroke="#1e1e1e" stroke-width="0.95"/>
<circle cx="367.41" cy="261.97" r="1.25" fill="none" stroke="#1e1e1e" stroke-width="0.95"/>
<circle cx="365.64" cy="264.04" r="1.25" fill="none" stroke="#1e1e1e" stroke-width="0.95"/>
<circle cx="372.18" cy="264.10" r="1.25" fill="none" stroke="#1e1e1e" stroke-width="0.95"/>
<circle cx="367.10" cy="272.71" r="1.25" fill="none" stroke="#1e1e1e" stroke-width="0.95"/>
<circle cx="368.64" cy="274.87" r="1.25" fill="none" stroke="#1e1e1e" stroke-width="0.95"/>
<circle cx="369.93" cy="270.64" r="1.25" fill="none" stroke="#1e1e1e" stroke-width="0.95"/>
<circle cx="369.82" cy="279.60" r="1.25" fill="none" stroke="#1e1e1e" stroke-width="0.95"/>
<line x1="388.80" y1="271.60" x2="388.80" y2="275.00" stroke="#8a8a8a" stroke-width="0.85" />
<line x1="388.80" y1="285.40" x2="388.80" y2="288.00" stroke="#8a8a8a" stroke-width="0.85" />
<line x1="385.40" y1="271.60" x2="392.20" y2="271.60" stroke="#9a9a9a" stroke-width="0.9" />
<line x1="385.40" y1="288.00" x2="392.20" y2="288.00" stroke="#9a9a9a" stroke-width="0.9" />
<rect x="382.60" y="275.00" width="12.40" height="10.40" fill="#7d58ae" stroke="#3e2a60" stroke-width="0.9"/>
<line x1="382.60" y1="279.00" x2="395.00" y2="279.00" stroke="#3e2a60" stroke-width="0.9" />
<circle cx="388.63" cy="279.51" r="1.25" fill="none" stroke="#1e1e1e" stroke-width="0.95"/>
<circle cx="388.77" cy="284.36" r="1.25" fill="none" stroke="#1e1e1e" stroke-width="0.95"/>
<circle cx="388.75" cy="288.00" r="1.25" fill="none" stroke="#1e1e1e" stroke-width="0.95"/>
<circle cx="391.69" cy="284.41" r="1.25" fill="none" stroke="#1e1e1e" stroke-width="0.95"/>
<circle cx="385.86" cy="282.05" r="1.25" fill="none" stroke="#1e1e1e" stroke-width="0.95"/>
<circle cx="388.74" cy="275.24" r="1.25" fill="none" stroke="#1e1e1e" stroke-width="0.95"/>
<circle cx="384.61" cy="284.64" r="1.25" fill="none" stroke="#1e1e1e" stroke-width="0.95"/>
<circle cx="392.80" cy="275.18" r="1.25" fill="none" stroke="#1e1e1e" stroke-width="0.95"/>
<circle cx="391.63" cy="277.67" r="1.25" fill="none" stroke="#1e1e1e" stroke-width="0.95"/>
<circle cx="389.71" cy="285.00" r="1.25" fill="none" stroke="#1e1e1e" stroke-width="0.95"/>
<circle cx="388.38" cy="279.99" r="1.25" fill="none" stroke="#1e1e1e" stroke-width="0.95"/>
<circle cx="391.97" cy="284.62" r="1.25" fill="none" stroke="#1e1e1e" stroke-width="0.95"/>
<circle cx="388.87" cy="271.60" r="1.25" fill="none" stroke="#1e1e1e" stroke-width="0.95"/>
<circle cx="384.59" cy="275.02" r="1.25" fill="none" stroke="#1e1e1e" stroke-width="0.95"/>
<circle cx="390.95" cy="283.67" r="1.25" fill="none" stroke="#1e1e1e" stroke-width="0.95"/>
<line x1="407.00" y1="267.00" x2="407.00" y2="278.00" stroke="#8a8a8a" stroke-width="0.85" />
<line x1="407.00" y1="287.40" x2="407.00" y2="290.00" stroke="#8a8a8a" stroke-width="0.85" />
<line x1="403.60" y1="267.00" x2="410.40" y2="267.00" stroke="#9a9a9a" stroke-width="0.9" />
<line x1="403.60" y1="290.00" x2="410.40" y2="290.00" stroke="#9a9a9a" stroke-width="0.9" />
<rect x="400.80" y="278.00" width="12.40" height="9.40" fill="#7d58ae" stroke="#3e2a60" stroke-width="0.9"/>
<line x1="400.80" y1="283.00" x2="413.20" y2="283.00" stroke="#3e2a60" stroke-width="0.9" />
<circle cx="407.15" cy="278.70" r="1.25" fill="none" stroke="#1e1e1e" stroke-width="0.95"/>
<circle cx="409.63" cy="279.95" r="1.25" fill="none" stroke="#1e1e1e" stroke-width="0.95"/>
<circle cx="404.43" cy="280.95" r="1.25" fill="none" stroke="#1e1e1e" stroke-width="0.95"/>
<circle cx="407.18" cy="286.81" r="1.25" fill="none" stroke="#1e1e1e" stroke-width="0.95"/>
<circle cx="404.33" cy="286.84" r="1.25" fill="none" stroke="#1e1e1e" stroke-width="0.95"/>
<circle cx="402.68" cy="278.69" r="1.25" fill="none" stroke="#1e1e1e" stroke-width="0.95"/>
<circle cx="411.38" cy="280.11" r="1.25" fill="none" stroke="#1e1e1e" stroke-width="0.95"/>
<circle cx="411.12" cy="287.26" r="1.25" fill="none" stroke="#1e1e1e" stroke-width="0.95"/>
<circle cx="407.09" cy="267.00" r="1.25" fill="none" stroke="#1e1e1e" stroke-width="0.95"/>
<circle cx="402.96" cy="286.01" r="1.25" fill="none" stroke="#1e1e1e" stroke-width="0.95"/>
<circle cx="403.43" cy="286.59" r="1.25" fill="none" stroke="#1e1e1e" stroke-width="0.95"/>
<circle cx="402.96" cy="286.35" r="1.25" fill="none" stroke="#1e1e1e" stroke-width="0.95"/>
<circle cx="407.15" cy="290.00" r="1.25" fill="none" stroke="#1e1e1e" stroke-width="0.95"/>
<circle cx="406.92" cy="274.81" r="1.25" fill="none" stroke="#1e1e1e" stroke-width="0.95"/>
<circle cx="406.26" cy="278.23" r="1.25" fill="none" stroke="#1e1e1e" stroke-width="0.95"/>
<line x1="425.80" y1="238.40" x2="425.80" y2="263.60" stroke="#8a8a8a" stroke-width="0.85" />
<line x1="425.80" y1="271.60" x2="425.80" y2="280.00" stroke="#8a8a8a" stroke-width="0.85" />
<line x1="422.40" y1="238.40" x2="429.20" y2="238.40" stroke="#9a9a9a" stroke-width="0.9" />
<line x1="422.40" y1="280.00" x2="429.20" y2="280.00" stroke="#9a9a9a" stroke-width="0.9" />
<rect x="419.60" y="263.60" width="12.40" height="8.00" fill="#7d58ae" stroke="#3e2a60" stroke-width="0.9"/>
<line x1="419.60" y1="266.00" x2="432.00" y2="266.00" stroke="#3e2a60" stroke-width="0.9" />
<circle cx="425.85" cy="271.40" r="1.25" fill="none" stroke="#1e1e1e" stroke-width="0.95"/>
<circle cx="425.88" cy="263.77" r="1.25" fill="none" stroke="#1e1e1e" stroke-width="0.95"/>
<circle cx="425.69" cy="275.02" r="1.25" fill="none" stroke="#1e1e1e" stroke-width="0.95"/>
<circle cx="428.72" cy="270.35" r="1.25" fill="none" stroke="#1e1e1e" stroke-width="0.95"/>
<circle cx="422.86" cy="264.22" r="1.25" fill="none" stroke="#1e1e1e" stroke-width="0.95"/>
<circle cx="421.49" cy="271.02" r="1.25" fill="none" stroke="#1e1e1e" stroke-width="0.95"/>
<circle cx="421.62" cy="271.15" r="1.25" fill="none" stroke="#1e1e1e" stroke-width="0.95"/>
<circle cx="425.62" cy="242.98" r="1.25" fill="none" stroke="#1e1e1e" stroke-width="0.95"/>
<circle cx="425.95" cy="238.40" r="1.25" fill="none" stroke="#1e1e1e" stroke-width="0.95"/>
<circle cx="425.68" cy="280.00" r="1.25" fill="none" stroke="#1e1e1e" stroke-width="0.95"/>
<circle cx="428.58" cy="240.48" r="1.25" fill="none" stroke="#1e1e1e" stroke-width="0.95"/>
<circle cx="429.98" cy="263.97" r="1.25" fill="none" stroke="#1e1e1e" stroke-width="0.95"/>
<circle cx="430.07" cy="263.69" r="1.25" fill="none" stroke="#1e1e1e" stroke-width="0.95"/>
<circle cx="427.42" cy="270.91" r="1.25" fill="none" stroke="#1e1e1e" stroke-width="0.95"/>
<circle cx="428.39" cy="264.42" r="1.25" fill="none" stroke="#1e1e1e" stroke-width="0.95"/>
<line x1="357.90" y1="312.45" x2="436.40" y2="312.45" stroke="#1a1a1a" stroke-width="1.3" />
<line x1="370.00" y1="312.45" x2="370.00" y2="316.75" stroke="#1a1a1a" stroke-width="1.2" />
<line x1="388.80" y1="312.45" x2="388.80" y2="316.75" stroke="#1a1a1a" stroke-width="1.2" />
<line x1="407.00" y1="312.45" x2="407.00" y2="316.75" stroke="#1a1a1a" stroke-width="1.2" />
<line x1="425.80" y1="312.45" x2="425.80" y2="316.75" stroke="#1a1a1a" stroke-width="1.2" />
<line x1="354.20" y1="312.45" x2="358.50" y2="312.45" stroke="#1a1a1a" stroke-width="1.3" />
<text x="0.00" y="0.00" font-size="10.5" text-anchor="end" font-weight="normal" font-style="italic" fill="#1a1a1a" stroke="#1a1a1a" stroke-width="0.25" transform="translate(372.00,324.80) rotate(-45)" >WT</text>
<text x="0.00" y="0.00" font-size="10.5" text-anchor="end" font-weight="normal" font-style="italic" fill="#1a1a1a" stroke="#1a1a1a" stroke-width="0.25" transform="translate(390.80,324.80) rotate(-45)" >mod-1</text>
<text x="0.00" y="0.00" font-size="10.5" text-anchor="end" font-weight="normal" font-style="italic" fill="#1a1a1a" stroke="#1a1a1a" stroke-width="0.25" transform="translate(409.00,324.80) rotate(-45)" >tbh-1</text>
<text x="0.00" y="0.00" font-size="10.5" text-anchor="end" font-weight="normal" font-style="italic" fill="#1a1a1a" stroke="#1a1a1a" stroke-width="0.25" transform="translate(427.80,324.80) rotate(-45)" >mod-1 tbh-1</text>
<line x1="368.80" y1="198.10" x2="427.00" y2="198.10" stroke="#1a1a1a" stroke-width="1.3" />
<line x1="369.40" y1="198.10" x2="369.40" y2="213.50" stroke="#1a1a1a" stroke-width="1.3" />
<line x1="389.10" y1="198.10" x2="389.10" y2="205.40" stroke="#1a1a1a" stroke-width="1.3" />
<line x1="405.90" y1="198.10" x2="405.90" y2="205.40" stroke="#1a1a1a" stroke-width="1.3" />
<line x1="426.40" y1="198.10" x2="426.40" y2="205.40" stroke="#1a1a1a" stroke-width="1.3" />
<polygon points="389.10,206.50 389.76,208.09 391.48,208.23 390.17,209.35 390.57,211.02 389.10,210.12 387.63,211.02 388.03,209.35 386.72,208.23 388.44,208.09" fill="#1a1a1a"/>
<polygon points="403.55,206.50 404.21,208.09 405.93,208.23 404.62,209.35 405.02,211.02 403.55,210.12 402.08,211.02 402.48,209.35 401.17,208.23 402.89,208.09" fill="#1a1a1a"/>
<polygon points="408.25,206.50 408.91,208.09 410.63,208.23 409.32,209.35 409.72,211.02 408.25,210.12 406.78,211.02 407.18,209.35 405.87,208.23 407.59,208.09" fill="#1a1a1a"/>
<text x="426.40" y="213.00" font-size="12.2" text-anchor="middle" font-weight="normal" font-style="normal" fill="#1a1a1a" stroke="#1a1a1a" stroke-width="0.25" >ns</text>
<line x1="388.50" y1="219.30" x2="427.00" y2="219.30" stroke="#1a1a1a" stroke-width="1.3" />
<line x1="389.10" y1="219.30" x2="389.10" y2="226.60" stroke="#1a1a1a" stroke-width="1.3" />
<line x1="405.90" y1="219.30" x2="405.90" y2="226.60" stroke="#1a1a1a" stroke-width="1.3" />
<line x1="426.40" y1="219.30" x2="426.40" y2="235.40" stroke="#1a1a1a" stroke-width="1.3" />
<polygon points="384.40,228.00 385.06,229.59 386.78,229.73 385.47,230.85 385.87,232.52 384.40,231.62 382.93,232.52 383.33,230.85 382.02,229.73 383.74,229.59" fill="#1a1a1a"/>
<polygon points="389.10,228.00 389.76,229.59 391.48,229.73 390.17,230.85 390.57,232.52 389.10,231.62 387.63,232.52 388.03,230.85 386.72,229.73 388.44,229.59" fill="#1a1a1a"/>
<polygon points="393.80,228.00 394.46,229.59 396.18,229.73 394.87,230.85 395.27,232.52 393.80,231.62 392.33,232.52 392.73,230.85 391.42,229.73 393.14,229.59" fill="#1a1a1a"/>
<polygon points="401.20,228.00 401.86,229.59 403.58,229.73 402.27,230.85 402.67,232.52 401.20,231.62 399.73,232.52 400.13,230.85 398.82,229.73 400.54,229.59" fill="#1a1a1a"/>
<polygon points="405.90,228.00 406.56,229.59 408.28,229.73 406.97,230.85 407.37,232.52 405.90,231.62 404.43,232.52 404.83,230.85 403.52,229.73 405.24,229.59" fill="#1a1a1a"/>
<polygon points="410.60,228.00 411.26,229.59 412.98,229.73 411.67,230.85 412.07,232.52 410.60,231.62 409.13,232.52 409.53,230.85 408.22,229.73 409.94,229.59" fill="#1a1a1a"/>
<text x="487.00" y="245.70" font-size="11.6" text-anchor="middle" font-weight="normal" font-style="normal" fill="#333" stroke="#333" stroke-width="0.25" >serotonin</text>
<line x1="486.60" y1="250.70" x2="486.60" y2="272.00" stroke="#333" stroke-width="1" />
<line x1="479.20" y1="272.00" x2="492.90" y2="272.00" stroke="#333" stroke-width="1" />
<text x="472.20" y="287.00" font-size="10.3" text-anchor="middle" font-weight="bold" font-style="normal" fill="#99683d" >MOD-1</text>
<circle cx="494.2" cy="303.4" r="12.8" fill="#2b2f8f" stroke="#111" stroke-width="0.5"/>
<rect x="491.8" y="282.8" width="5.2" height="2.6" fill="#6b4423"/><rect x="492.9" y="284.5" width="3" height="6.2" fill="#6b4423"/>
<text x="494.20" y="307.60" font-size="12" text-anchor="middle" font-weight="normal" font-style="normal" fill="#fff" >RIC</text>
<circle cx="466.2" cy="304.8" r="8.8" fill="#2b2f8f" stroke="#111" stroke-width="0.5"/>
<rect x="465" y="291.3" width="2.6" height="4.6" fill="#6b4423"/><circle cx="466.3" cy="292" r="1.6" fill="#6b4423"/>
<text x="466.20" y="308.20" font-size="8.8" text-anchor="middle" font-weight="normal" font-style="normal" fill="#fff" >RIM</text>
<path d="M456.8,290.6 Q451.5,304.3 456.8,318" fill="none" stroke="#222" stroke-width="1"/>
<path d="M476,290.6 Q481.3,304.3 476,318" fill="none" stroke="#222" stroke-width="1"/>
<line x1="464" y1="320.9" x2="502.6" y2="320.9" stroke="#333" stroke-width="0.9" stroke-dasharray="2.4,2.2"/>
<text x="484.00" y="333.80" font-size="11.5" text-anchor="middle" font-weight="normal" font-style="normal" fill="#333" stroke="#333" stroke-width="0.25" >aversion</text>
<text x="524.20" y="206.20" font-size="18.8" text-anchor="start" font-weight="bold" font-style="normal" fill="#000" >f</text>
<rect x="537.60" y="210.00" width="35.9" height="13.1" fill="#e6e6e8"/>
<text x="539.20" y="220.00" font-size="10.6" fill="#8b3fae" font-weight="bold"><tspan font-weight="normal">&#916;</tspan><tspan font-style="italic">cysE</tspan></text>
<text x="0.00" y="0.00" font-size="12" text-anchor="middle" font-weight="normal" font-style="normal" fill="#1a1a1a" stroke="#1a1a1a" stroke-width="0.25" transform="translate(545.50,268.00) rotate(-90)" >Aversion ratio</text>
<text x="0.00" y="0.00" font-size="12" text-anchor="middle" font-weight="normal" font-style="normal" fill="#1a1a1a" stroke="#1a1a1a" stroke-width="0.25" transform="translate(559.20,266.50) rotate(-90)" >(16-20 hrs)</text>
<line x1="587.20" y1="229.40" x2="587.20" y2="313.10" stroke="#1a1a1a" stroke-width="1.3" />
<line x1="582.60" y1="312.50" x2="587.20" y2="312.50" stroke="#1a1a1a" stroke-width="1.2" />
<text x="581.50" y="316.40" font-size="11" text-anchor="end" font-weight="normal" font-style="normal" fill="#1a1a1a" stroke="#1a1a1a" stroke-width="0.25" >0.0</text>
<line x1="582.60" y1="296.00" x2="587.20" y2="296.00" stroke="#1a1a1a" stroke-width="1.2" />
<text x="581.50" y="299.90" font-size="11" text-anchor="end" font-weight="normal" font-style="normal" fill="#1a1a1a" stroke="#1a1a1a" stroke-width="0.25" >0.2</text>
<line x1="582.60" y1="279.50" x2="587.20" y2="279.50" stroke="#1a1a1a" stroke-width="1.2" />
<text x="581.50" y="283.40" font-size="11" text-anchor="end" font-weight="normal" font-style="normal" fill="#1a1a1a" stroke="#1a1a1a" stroke-width="0.25" >0.4</text>
<line x1="582.60" y1="263.00" x2="587.20" y2="263.00" stroke="#1a1a1a" stroke-width="1.2" />
<text x="581.50" y="266.90" font-size="11" text-anchor="end" font-weight="normal" font-style="normal" fill="#1a1a1a" stroke="#1a1a1a" stroke-width="0.25" >0.6</text>
<line x1="582.60" y1="246.50" x2="587.20" y2="246.50" stroke="#1a1a1a" stroke-width="1.2" />
<text x="581.50" y="250.40" font-size="11" text-anchor="end" font-weight="normal" font-style="normal" fill="#1a1a1a" stroke="#1a1a1a" stroke-width="0.25" >0.8</text>
<line x1="582.60" y1="230.00" x2="587.20" y2="230.00" stroke="#1a1a1a" stroke-width="1.2" />
<text x="581.50" y="233.90" font-size="11" text-anchor="end" font-weight="normal" font-style="normal" fill="#1a1a1a" stroke="#1a1a1a" stroke-width="0.25" >1.0</text>
<line x1="599.00" y1="267.00" x2="599.00" y2="270.60" stroke="#8a8a8a" stroke-width="0.85" />
<line x1="599.00" y1="280.60" x2="599.00" y2="282.00" stroke="#8a8a8a" stroke-width="0.85" />
<line x1="595.60" y1="267.00" x2="602.40" y2="267.00" stroke="#9a9a9a" stroke-width="0.9" />
<line x1="595.60" y1="282.00" x2="602.40" y2="282.00" stroke="#9a9a9a" stroke-width="0.9" />
<rect x="592.80" y="270.60" width="12.40" height="10.00" fill="#7d58ae" stroke="#3e2a60" stroke-width="0.9"/>
<line x1="592.80" y1="275.00" x2="605.20" y2="275.00" stroke="#3e2a60" stroke-width="0.9" />
<circle cx="598.83" cy="280.21" r="1.25" fill="none" stroke="#1e1e1e" stroke-width="0.95"/>
<circle cx="598.93" cy="274.01" r="1.25" fill="none" stroke="#1e1e1e" stroke-width="0.95"/>
<circle cx="601.93" cy="279.73" r="1.25" fill="none" stroke="#1e1e1e" stroke-width="0.95"/>
<circle cx="600.50" cy="271.56" r="1.25" fill="none" stroke="#1e1e1e" stroke-width="0.95"/>
<circle cx="597.60" cy="277.53" r="1.25" fill="none" stroke="#1e1e1e" stroke-width="0.95"/>
<circle cx="601.87" cy="276.16" r="1.25" fill="none" stroke="#1e1e1e" stroke-width="0.95"/>
<circle cx="597.50" cy="271.04" r="1.25" fill="none" stroke="#1e1e1e" stroke-width="0.95"/>
<circle cx="603.14" cy="270.70" r="1.25" fill="none" stroke="#1e1e1e" stroke-width="0.95"/>
<circle cx="594.70" cy="280.16" r="1.25" fill="none" stroke="#1e1e1e" stroke-width="0.95"/>
<circle cx="594.86" cy="272.27" r="1.25" fill="none" stroke="#1e1e1e" stroke-width="0.95"/>
<circle cx="594.73" cy="276.85" r="1.25" fill="none" stroke="#1e1e1e" stroke-width="0.95"/>
<circle cx="603.38" cy="278.20" r="1.25" fill="none" stroke="#1e1e1e" stroke-width="0.95"/>
<circle cx="602.84" cy="270.94" r="1.25" fill="none" stroke="#1e1e1e" stroke-width="0.95"/>
<circle cx="601.91" cy="282.00" r="1.25" fill="none" stroke="#1e1e1e" stroke-width="0.95"/>
<circle cx="599.15" cy="267.00" r="1.25" fill="none" stroke="#1e1e1e" stroke-width="0.95"/>
<line x1="617.40" y1="277.00" x2="617.40" y2="280.00" stroke="#8a8a8a" stroke-width="0.85" />
<line x1="617.40" y1="290.60" x2="617.40" y2="298.00" stroke="#8a8a8a" stroke-width="0.85" />
<line x1="614.00" y1="277.00" x2="620.80" y2="277.00" stroke="#9a9a9a" stroke-width="0.9" />
<line x1="614.00" y1="298.00" x2="620.80" y2="298.00" stroke="#9a9a9a" stroke-width="0.9" />
<rect x="611.20" y="280.00" width="12.40" height="10.60" fill="#7d58ae" stroke="#3e2a60" stroke-width="0.9"/>
<line x1="611.20" y1="286.00" x2="623.60" y2="286.00" stroke="#3e2a60" stroke-width="0.9" />
<circle cx="617.22" cy="287.12" r="1.25" fill="none" stroke="#1e1e1e" stroke-width="0.95"/>
<circle cx="617.23" cy="283.70" r="1.25" fill="none" stroke="#1e1e1e" stroke-width="0.95"/>
<circle cx="617.35" cy="294.96" r="1.25" fill="none" stroke="#1e1e1e" stroke-width="0.95"/>
<circle cx="617.55" cy="298.00" r="1.25" fill="none" stroke="#1e1e1e" stroke-width="0.95"/>
<circle cx="619.99" cy="285.03" r="1.25" fill="none" stroke="#1e1e1e" stroke-width="0.95"/>
<circle cx="617.30" cy="277.00" r="1.25" fill="none" stroke="#1e1e1e" stroke-width="0.95"/>
<circle cx="617.31" cy="290.59" r="1.25" fill="none" stroke="#1e1e1e" stroke-width="0.95"/>
<circle cx="620.20" cy="289.68" r="1.25" fill="none" stroke="#1e1e1e" stroke-width="0.95"/>
<circle cx="613.11" cy="286.99" r="1.25" fill="none" stroke="#1e1e1e" stroke-width="0.95"/>
<circle cx="617.21" cy="280.11" r="1.25" fill="none" stroke="#1e1e1e" stroke-width="0.95"/>
<circle cx="621.37" cy="287.04" r="1.25" fill="none" stroke="#1e1e1e" stroke-width="0.95"/>
<circle cx="613.16" cy="290.56" r="1.25" fill="none" stroke="#1e1e1e" stroke-width="0.95"/>
<circle cx="619.97" cy="280.73" r="1.25" fill="none" stroke="#1e1e1e" stroke-width="0.95"/>
<circle cx="618.23" cy="284.88" r="1.25" fill="none" stroke="#1e1e1e" stroke-width="0.95"/>
<circle cx="614.69" cy="282.23" r="1.25" fill="none" stroke="#1e1e1e" stroke-width="0.95"/>
<line x1="635.50" y1="256.00" x2="635.50" y2="261.00" stroke="#8a8a8a" stroke-width="0.85" />
<line x1="635.50" y1="273.60" x2="635.50" y2="281.60" stroke="#8a8a8a" stroke-width="0.85" />
<line x1="632.10" y1="256.00" x2="638.90" y2="256.00" stroke="#9a9a9a" stroke-width="0.9" />
<line x1="632.10" y1="281.60" x2="638.90" y2="281.60" stroke="#9a9a9a" stroke-width="0.9" />
<rect x="629.30" y="261.00" width="12.40" height="12.60" fill="#7d58ae" stroke="#3e2a60" stroke-width="0.9"/>
<line x1="629.30" y1="267.00" x2="641.70" y2="267.00" stroke="#3e2a60" stroke-width="0.9" />
<circle cx="635.52" cy="281.60" r="1.25" fill="none" stroke="#1e1e1e" stroke-width="0.95"/>
<circle cx="635.46" cy="273.25" r="1.25" fill="none" stroke="#1e1e1e" stroke-width="0.95"/>
<circle cx="635.38" cy="261.99" r="1.25" fill="none" stroke="#1e1e1e" stroke-width="0.95"/>
<circle cx="635.60" cy="277.14" r="1.25" fill="none" stroke="#1e1e1e" stroke-width="0.95"/>
<circle cx="632.58" cy="273.15" r="1.25" fill="none" stroke="#1e1e1e" stroke-width="0.95"/>
<circle cx="632.72" cy="277.91" r="1.25" fill="none" stroke="#1e1e1e" stroke-width="0.95"/>
<circle cx="635.38" cy="266.53" r="1.25" fill="none" stroke="#1e1e1e" stroke-width="0.95"/>
<circle cx="635.53" cy="270.32" r="1.25" fill="none" stroke="#1e1e1e" stroke-width="0.95"/>
<circle cx="635.70" cy="258.82" r="1.25" fill="none" stroke="#1e1e1e" stroke-width="0.95"/>
<circle cx="638.34" cy="261.10" r="1.25" fill="none" stroke="#1e1e1e" stroke-width="0.95"/>
<circle cx="635.69" cy="256.00" r="1.25" fill="none" stroke="#1e1e1e" stroke-width="0.95"/>
<circle cx="631.36" cy="261.57" r="1.25" fill="none" stroke="#1e1e1e" stroke-width="0.95"/>
<circle cx="638.06" cy="264.97" r="1.25" fill="none" stroke="#1e1e1e" stroke-width="0.95"/>
<circle cx="632.86" cy="263.96" r="1.25" fill="none" stroke="#1e1e1e" stroke-width="0.95"/>
<circle cx="632.81" cy="257.96" r="1.25" fill="none" stroke="#1e1e1e" stroke-width="0.95"/>
<line x1="653.70" y1="266.60" x2="653.70" y2="268.00" stroke="#8a8a8a" stroke-width="0.85" />
<line x1="653.70" y1="282.00" x2="653.70" y2="282.50" stroke="#8a8a8a" stroke-width="0.85" />
<line x1="650.30" y1="266.60" x2="657.10" y2="266.60" stroke="#9a9a9a" stroke-width="0.9" />
<line x1="650.30" y1="282.50" x2="657.10" y2="282.50" stroke="#9a9a9a" stroke-width="0.9" />
<rect x="647.50" y="268.00" width="12.40" height="14.00" fill="#7d58ae" stroke="#3e2a60" stroke-width="0.9"/>
<line x1="647.50" y1="274.00" x2="659.90" y2="274.00" stroke="#3e2a60" stroke-width="0.9" />
<circle cx="653.62" cy="268.67" r="1.25" fill="none" stroke="#1e1e1e" stroke-width="0.95"/>
<circle cx="653.51" cy="280.65" r="1.25" fill="none" stroke="#1e1e1e" stroke-width="0.95"/>
<circle cx="656.36" cy="281.42" r="1.25" fill="none" stroke="#1e1e1e" stroke-width="0.95"/>
<circle cx="655.10" cy="278.31" r="1.25" fill="none" stroke="#1e1e1e" stroke-width="0.95"/>
<circle cx="649.74" cy="281.48" r="1.25" fill="none" stroke="#1e1e1e" stroke-width="0.95"/>
<circle cx="655.40" cy="280.53" r="1.25" fill="none" stroke="#1e1e1e" stroke-width="0.95"/>
<circle cx="653.63" cy="273.73" r="1.25" fill="none" stroke="#1e1e1e" stroke-width="0.95"/>
<circle cx="652.35" cy="277.42" r="1.25" fill="none" stroke="#1e1e1e" stroke-width="0.95"/>
<circle cx="656.27" cy="266.60" r="1.25" fill="none" stroke="#1e1e1e" stroke-width="0.95"/>
<circle cx="657.94" cy="268.86" r="1.25" fill="none" stroke="#1e1e1e" stroke-width="0.95"/>
<circle cx="656.39" cy="274.54" r="1.25" fill="none" stroke="#1e1e1e" stroke-width="0.95"/>
<circle cx="655.82" cy="282.50" r="1.25" fill="none" stroke="#1e1e1e" stroke-width="0.95"/>
<circle cx="650.86" cy="269.09" r="1.25" fill="none" stroke="#1e1e1e" stroke-width="0.95"/>
<circle cx="656.39" cy="268.55" r="1.25" fill="none" stroke="#1e1e1e" stroke-width="0.95"/>
<circle cx="655.96" cy="268.32" r="1.25" fill="none" stroke="#1e1e1e" stroke-width="0.95"/>
<line x1="586.60" y1="312.50" x2="665.80" y2="312.50" stroke="#1a1a1a" stroke-width="1.3" />
<line x1="599.00" y1="312.50" x2="599.00" y2="316.80" stroke="#1a1a1a" stroke-width="1.2" />
<line x1="617.40" y1="312.50" x2="617.40" y2="316.80" stroke="#1a1a1a" stroke-width="1.2" />
<line x1="635.50" y1="312.50" x2="635.50" y2="316.80" stroke="#1a1a1a" stroke-width="1.2" />
<line x1="653.70" y1="312.50" x2="653.70" y2="316.80" stroke="#1a1a1a" stroke-width="1.2" />
<text x="0.00" y="0.00" font-size="10.5" text-anchor="end" font-weight="normal" font-style="italic" fill="#1a1a1a" stroke="#1a1a1a" stroke-width="0.25" transform="translate(601.00,325.50) rotate(-45)" >WT</text>
<text x="0.00" y="0.00" font-size="10.5" text-anchor="end" font-weight="normal" font-style="italic" fill="#1a1a1a" stroke="#1a1a1a" stroke-width="0.25" transform="translate(619.40,325.50) rotate(-45)" >ser-1</text>
<text x="0.00" y="0.00" font-size="10.5" text-anchor="end" font-weight="normal" font-style="italic" fill="#1a1a1a" stroke="#1a1a1a" stroke-width="0.25" transform="translate(637.50,325.50) rotate(-45)" >tdc-1</text>
<text x="0.00" y="0.00" font-size="10.5" text-anchor="end" font-weight="normal" font-style="italic" fill="#1a1a1a" stroke="#1a1a1a" stroke-width="0.25" transform="translate(655.70,325.50) rotate(-45)" >ser-1 tdc-1</text>
<line x1="597.80" y1="215.00" x2="655.60" y2="215.00" stroke="#1a1a1a" stroke-width="1.3" />
<line x1="598.40" y1="215.00" x2="598.40" y2="230.60" stroke="#1a1a1a" stroke-width="1.3" />
<line x1="618.00" y1="215.00" x2="618.00" y2="222.00" stroke="#1a1a1a" stroke-width="1.3" />
<line x1="635.40" y1="215.00" x2="635.40" y2="222.00" stroke="#1a1a1a" stroke-width="1.3" />
<line x1="655.00" y1="215.00" x2="655.00" y2="222.00" stroke="#1a1a1a" stroke-width="1.3" />
<polygon points="613.30,224.50 613.96,226.09 615.68,226.23 614.37,227.35 614.77,229.02 613.30,228.12 611.83,229.02 612.23,227.35 610.92,226.23 612.64,226.09" fill="#1a1a1a"/>
<polygon points="618.00,224.50 618.66,226.09 620.38,226.23 619.07,227.35 619.47,229.02 618.00,228.12 616.53,229.02 616.93,227.35 615.62,226.23 617.34,226.09" fill="#1a1a1a"/>
<polygon points="622.70,224.50 623.36,226.09 625.08,226.23 623.77,227.35 624.17,229.02 622.70,228.12 621.23,229.02 621.63,227.35 620.32,226.23 622.04,226.09" fill="#1a1a1a"/>
<text x="635.40" y="229.60" font-size="12.2" text-anchor="middle" font-weight="normal" font-style="normal" fill="#1a1a1a" stroke="#1a1a1a" stroke-width="0.25" >ns</text>
<text x="655.00" y="229.60" font-size="12.2" text-anchor="middle" font-weight="normal" font-style="normal" fill="#1a1a1a" stroke="#1a1a1a" stroke-width="0.25" >ns</text>
<line x1="617.40" y1="236.00" x2="655.60" y2="236.00" stroke="#1a1a1a" stroke-width="1.3" />
<line x1="618.00" y1="236.00" x2="618.00" y2="242.00" stroke="#1a1a1a" stroke-width="1.3" />
<line x1="635.40" y1="236.00" x2="635.40" y2="242.00" stroke="#1a1a1a" stroke-width="1.3" />
<line x1="655.00" y1="236.00" x2="655.00" y2="252.60" stroke="#1a1a1a" stroke-width="1.3" />
<polygon points="613.30,245.50 613.96,247.09 615.68,247.23 614.37,248.35 614.77,250.02 613.30,249.12 611.83,250.02 612.23,248.35 610.92,247.23 612.64,247.09" fill="#1a1a1a"/>
<polygon points="618.00,245.50 618.66,247.09 620.38,247.23 619.07,248.35 619.47,250.02 618.00,249.12 616.53,250.02 616.93,248.35 615.62,247.23 617.34,247.09" fill="#1a1a1a"/>
<polygon points="622.70,245.50 623.36,247.09 625.08,247.23 623.77,248.35 624.17,250.02 622.70,249.12 621.23,250.02 621.63,248.35 620.32,247.23 622.04,247.09" fill="#1a1a1a"/>
<polygon points="635.40,245.50 636.06,247.09 637.78,247.23 636.47,248.35 636.87,250.02 635.40,249.12 633.93,250.02 634.33,248.35 633.02,247.23 634.74,247.09" fill="#1a1a1a"/>
<text x="-0.50" y="404.60" font-size="18.8" text-anchor="start" font-weight="bold" font-style="normal" fill="#000" >g</text>
<rect x="10.8" y="418.9" width="26.9" height="12.7" fill="#e6e6e8"/>
<text x="24.30" y="428.80" font-size="10.5" text-anchor="middle" font-weight="bold" font-style="normal" fill="#000" >WT</text>
<text x="0.00" y="0.00" font-size="12" text-anchor="middle" font-weight="normal" font-style="normal" fill="#1a1a1a" stroke="#1a1a1a" stroke-width="0.25" transform="translate(18.60,473.80) rotate(-90)" >Aversion ratio</text>
<text x="0.00" y="0.00" font-size="12" text-anchor="middle" font-weight="normal" font-style="normal" fill="#1a1a1a" stroke="#1a1a1a" stroke-width="0.25" transform="translate(32.30,472.30) rotate(-90)" >(16-20 hrs)</text>
<line x1="60.30" y1="436.20" x2="60.30" y2="520.05" stroke="#1a1a1a" stroke-width="1.3" />
<line x1="55.70" y1="519.45" x2="60.30" y2="519.45" stroke="#1a1a1a" stroke-width="1.2" />
<text x="54.60" y="523.35" font-size="11" text-anchor="end" font-weight="normal" font-style="normal" fill="#1a1a1a" stroke="#1a1a1a" stroke-width="0.25" >0.0</text>
<line x1="55.70" y1="502.92" x2="60.30" y2="502.92" stroke="#1a1a1a" stroke-width="1.2" />
<text x="54.60" y="506.82" font-size="11" text-anchor="end" font-weight="normal" font-style="normal" fill="#1a1a1a" stroke="#1a1a1a" stroke-width="0.25" >0.2</text>
<line x1="55.70" y1="486.39" x2="60.30" y2="486.39" stroke="#1a1a1a" stroke-width="1.2" />
<text x="54.60" y="490.29" font-size="11" text-anchor="end" font-weight="normal" font-style="normal" fill="#1a1a1a" stroke="#1a1a1a" stroke-width="0.25" >0.4</text>
<line x1="55.70" y1="469.86" x2="60.30" y2="469.86" stroke="#1a1a1a" stroke-width="1.2" />
<text x="54.60" y="473.76" font-size="11" text-anchor="end" font-weight="normal" font-style="normal" fill="#1a1a1a" stroke="#1a1a1a" stroke-width="0.25" >0.6</text>
<line x1="55.70" y1="453.33" x2="60.30" y2="453.33" stroke="#1a1a1a" stroke-width="1.2" />
<text x="54.60" y="457.23" font-size="11" text-anchor="end" font-weight="normal" font-style="normal" fill="#1a1a1a" stroke="#1a1a1a" stroke-width="0.25" >0.8</text>
<line x1="55.70" y1="436.80" x2="60.30" y2="436.80" stroke="#1a1a1a" stroke-width="1.2" />
<text x="54.60" y="440.70" font-size="11" text-anchor="end" font-weight="normal" font-style="normal" fill="#1a1a1a" stroke="#1a1a1a" stroke-width="0.25" >1.0</text>
<line x1="72.40" y1="498.60" x2="72.40" y2="506.60" stroke="#8a8a8a" stroke-width="0.85" />
<line x1="72.40" y1="514.60" x2="72.40" y2="517.00" stroke="#8a8a8a" stroke-width="0.85" />
<line x1="69.00" y1="498.60" x2="75.80" y2="498.60" stroke="#9a9a9a" stroke-width="0.9" />
<line x1="69.00" y1="517.00" x2="75.80" y2="517.00" stroke="#9a9a9a" stroke-width="0.9" />
<rect x="66.20" y="506.60" width="12.40" height="8.00" fill="#a0a0a0" stroke="#5a5a5a" stroke-width="0.9"/>
<line x1="66.20" y1="510.00" x2="78.60" y2="510.00" stroke="#5a5a5a" stroke-width="0.9" />
<circle cx="72.53" cy="513.83" r="1.25" fill="none" stroke="#1e1e1e" stroke-width="0.95"/>
<circle cx="69.69" cy="513.99" r="1.25" fill="none" stroke="#1e1e1e" stroke-width="0.95"/>
<circle cx="75.30" cy="514.05" r="1.25" fill="none" stroke="#1e1e1e" stroke-width="0.95"/>
<circle cx="72.35" cy="505.06" r="1.25" fill="none" stroke="#1e1e1e" stroke-width="0.95"/>
<circle cx="76.58" cy="513.20" r="1.25" fill="none" stroke="#1e1e1e" stroke-width="0.95"/>
<circle cx="72.53" cy="498.60" r="1.25" fill="none" stroke="#1e1e1e" stroke-width="0.95"/>
<circle cx="71.31" cy="511.69" r="1.25" fill="none" stroke="#1e1e1e" stroke-width="0.95"/>
<circle cx="72.28" cy="517.00" r="1.25" fill="none" stroke="#1e1e1e" stroke-width="0.95"/>
<circle cx="74.96" cy="507.30" r="1.25" fill="none" stroke="#1e1e1e" stroke-width="0.95"/>
<circle cx="68.14" cy="513.75" r="1.25" fill="none" stroke="#1e1e1e" stroke-width="0.95"/>
<circle cx="70.04" cy="513.32" r="1.25" fill="none" stroke="#1e1e1e" stroke-width="0.95"/>
<circle cx="69.67" cy="507.21" r="1.25" fill="none" stroke="#1e1e1e" stroke-width="0.95"/>
<circle cx="68.19" cy="507.43" r="1.25" fill="none" stroke="#1e1e1e" stroke-width="0.95"/>
<circle cx="75.82" cy="511.29" r="1.25" fill="none" stroke="#1e1e1e" stroke-width="0.95"/>
<circle cx="69.91" cy="508.02" r="1.25" fill="none" stroke="#1e1e1e" stroke-width="0.95"/>
<line x1="90.75" y1="489.40" x2="90.75" y2="500.60" stroke="#8a8a8a" stroke-width="0.85" />
<line x1="90.75" y1="506.40" x2="90.75" y2="511.60" stroke="#8a8a8a" stroke-width="0.85" />
<line x1="87.35" y1="489.40" x2="94.15" y2="489.40" stroke="#9a9a9a" stroke-width="0.9" />
<line x1="87.35" y1="511.60" x2="94.15" y2="511.60" stroke="#9a9a9a" stroke-width="0.9" />
<rect x="84.55" y="500.60" width="12.40" height="5.80" fill="#a0a0a0" stroke="#5a5a5a" stroke-width="0.9"/>
<line x1="84.55" y1="504.00" x2="96.95" y2="504.00" stroke="#5a5a5a" stroke-width="0.9" />
<circle cx="90.76" cy="501.30" r="1.25" fill="none" stroke="#1e1e1e" stroke-width="0.95"/>
<circle cx="90.72" cy="506.11" r="1.25" fill="none" stroke="#1e1e1e" stroke-width="0.95"/>
<circle cx="90.92" cy="489.40" r="1.25" fill="none" stroke="#1e1e1e" stroke-width="0.95"/>
<circle cx="93.59" cy="501.14" r="1.25" fill="none" stroke="#1e1e1e" stroke-width="0.95"/>
<circle cx="92.29" cy="491.87" r="1.25" fill="none" stroke="#1e1e1e" stroke-width="0.95"/>
<circle cx="86.78" cy="501.60" r="1.25" fill="none" stroke="#1e1e1e" stroke-width="0.95"/>
<circle cx="92.31" cy="503.86" r="1.25" fill="none" stroke="#1e1e1e" stroke-width="0.95"/>
<circle cx="94.82" cy="506.13" r="1.25" fill="none" stroke="#1e1e1e" stroke-width="0.95"/>
<circle cx="86.51" cy="505.80" r="1.25" fill="none" stroke="#1e1e1e" stroke-width="0.95"/>
<circle cx="90.84" cy="495.24" r="1.25" fill="none" stroke="#1e1e1e" stroke-width="0.95"/>
<circle cx="93.87" cy="503.11" r="1.25" fill="none" stroke="#1e1e1e" stroke-width="0.95"/>
<circle cx="92.05" cy="506.37" r="1.25" fill="none" stroke="#1e1e1e" stroke-width="0.95"/>
<circle cx="90.87" cy="511.60" r="1.25" fill="none" stroke="#1e1e1e" stroke-width="0.95"/>
<circle cx="94.89" cy="502.52" r="1.25" fill="none" stroke="#1e1e1e" stroke-width="0.95"/>
<circle cx="93.32" cy="509.92" r="1.25" fill="none" stroke="#1e1e1e" stroke-width="0.95"/>
<line x1="109.10" y1="475.00" x2="109.10" y2="481.00" stroke="#8a8a8a" stroke-width="0.85" />
<line x1="109.10" y1="490.60" x2="109.10" y2="497.60" stroke="#8a8a8a" stroke-width="0.85" />
<line x1="105.70" y1="475.00" x2="112.50" y2="475.00" stroke="#9a9a9a" stroke-width="0.9" />
<line x1="105.70" y1="497.60" x2="112.50" y2="497.60" stroke="#9a9a9a" stroke-width="0.9" />
<rect x="102.90" y="481.00" width="12.40" height="9.60" fill="#a0a0a0" stroke="#5a5a5a" stroke-width="0.9"/>
<line x1="102.90" y1="486.00" x2="115.30" y2="486.00" stroke="#5a5a5a" stroke-width="0.9" />
<circle cx="108.99" cy="481.82" r="1.25" fill="none" stroke="#1e1e1e" stroke-width="0.95"/>
<circle cx="109.05" cy="490.35" r="1.25" fill="none" stroke="#1e1e1e" stroke-width="0.95"/>
<circle cx="111.85" cy="482.40" r="1.25" fill="none" stroke="#1e1e1e" stroke-width="0.95"/>
<circle cx="105.08" cy="481.42" r="1.25" fill="none" stroke="#1e1e1e" stroke-width="0.95"/>
<circle cx="109.20" cy="494.79" r="1.25" fill="none" stroke="#1e1e1e" stroke-width="0.95"/>
<circle cx="109.28" cy="476.98" r="1.25" fill="none" stroke="#1e1e1e" stroke-width="0.95"/>
<circle cx="108.91" cy="486.46" r="1.25" fill="none" stroke="#1e1e1e" stroke-width="0.95"/>
<circle cx="106.30" cy="490.33" r="1.25" fill="none" stroke="#1e1e1e" stroke-width="0.95"/>
<circle cx="106.25" cy="495.33" r="1.25" fill="none" stroke="#1e1e1e" stroke-width="0.95"/>
<circle cx="108.95" cy="497.60" r="1.25" fill="none" stroke="#1e1e1e" stroke-width="0.95"/>
<circle cx="111.71" cy="475.00" r="1.25" fill="none" stroke="#1e1e1e" stroke-width="0.95"/>
<circle cx="112.00" cy="485.61" r="1.25" fill="none" stroke="#1e1e1e" stroke-width="0.95"/>
<circle cx="104.79" cy="487.38" r="1.25" fill="none" stroke="#1e1e1e" stroke-width="0.95"/>
<circle cx="109.93" cy="482.72" r="1.25" fill="none" stroke="#1e1e1e" stroke-width="0.95"/>
<circle cx="112.78" cy="481.90" r="1.25" fill="none" stroke="#1e1e1e" stroke-width="0.95"/>
<line x1="127.45" y1="475.30" x2="127.45" y2="485.10" stroke="#8a8a8a" stroke-width="0.85" />
<line x1="127.45" y1="502.00" x2="127.45" y2="506.60" stroke="#8a8a8a" stroke-width="0.85" />
<line x1="124.05" y1="475.30" x2="130.85" y2="475.30" stroke="#9a9a9a" stroke-width="0.9" />
<line x1="124.05" y1="506.60" x2="130.85" y2="506.60" stroke="#9a9a9a" stroke-width="0.9" />
<rect x="121.25" y="485.10" width="12.40" height="16.90" fill="#a0a0a0" stroke="#5a5a5a" stroke-width="0.9"/>
<line x1="121.25" y1="498.20" x2="133.65" y2="498.20" stroke="#5a5a5a" stroke-width="0.9" />
<circle cx="127.59" cy="485.44" r="1.25" fill="none" stroke="#1e1e1e" stroke-width="0.95"/>
<circle cx="127.51" cy="501.46" r="1.25" fill="none" stroke="#1e1e1e" stroke-width="0.95"/>
<circle cx="130.25" cy="499.42" r="1.25" fill="none" stroke="#1e1e1e" stroke-width="0.95"/>
<circle cx="127.42" cy="489.34" r="1.25" fill="none" stroke="#1e1e1e" stroke-width="0.95"/>
<circle cx="124.70" cy="501.77" r="1.25" fill="none" stroke="#1e1e1e" stroke-width="0.95"/>
<circle cx="130.40" cy="489.53" r="1.25" fill="none" stroke="#1e1e1e" stroke-width="0.95"/>
<circle cx="129.28" cy="500.48" r="1.25" fill="none" stroke="#1e1e1e" stroke-width="0.95"/>
<circle cx="127.58" cy="475.30" r="1.25" fill="none" stroke="#1e1e1e" stroke-width="0.95"/>
<circle cx="130.39" cy="503.52" r="1.25" fill="none" stroke="#1e1e1e" stroke-width="0.95"/>
<circle cx="123.38" cy="501.60" r="1.25" fill="none" stroke="#1e1e1e" stroke-width="0.95"/>
<circle cx="123.13" cy="489.38" r="1.25" fill="none" stroke="#1e1e1e" stroke-width="0.95"/>
<circle cx="127.36" cy="506.60" r="1.25" fill="none" stroke="#1e1e1e" stroke-width="0.95"/>
<circle cx="131.74" cy="485.11" r="1.25" fill="none" stroke="#1e1e1e" stroke-width="0.95"/>
<circle cx="124.73" cy="505.04" r="1.25" fill="none" stroke="#1e1e1e" stroke-width="0.95"/>
<circle cx="127.43" cy="479.12" r="1.25" fill="none" stroke="#1e1e1e" stroke-width="0.95"/>
<line x1="59.70" y1="519.45" x2="139.50" y2="519.45" stroke="#1a1a1a" stroke-width="1.3" />
<line x1="72.40" y1="519.45" x2="72.40" y2="523.75" stroke="#1a1a1a" stroke-width="1.2" />
<line x1="90.75" y1="519.45" x2="90.75" y2="523.75" stroke="#1a1a1a" stroke-width="1.2" />
<line x1="109.10" y1="519.45" x2="109.10" y2="523.75" stroke="#1a1a1a" stroke-width="1.2" />
<line x1="127.45" y1="519.45" x2="127.45" y2="523.75" stroke="#1a1a1a" stroke-width="1.2" />
<text x="0.00" y="0.00" font-size="10.5" text-anchor="end" font-weight="normal" font-style="italic" fill="#1a1a1a" stroke="#1a1a1a" stroke-width="0.25" transform="translate(74.40,532.45) rotate(-45)" >WT</text>
<text x="0.00" y="0.00" font-size="10.5" text-anchor="end" font-weight="normal" font-style="italic" fill="#1a1a1a" stroke="#1a1a1a" stroke-width="0.25" transform="translate(92.75,532.45) rotate(-45)" >tph-1</text>
<text x="0.00" y="0.00" font-size="10.5" text-anchor="end" font-weight="normal" font-style="italic" fill="#1a1a1a" stroke="#1a1a1a" stroke-width="0.25" transform="translate(111.10,532.45) rotate(-45)" >tdc-1</text>
<text x="0.00" y="0.00" font-size="10.5" text-anchor="end" font-weight="normal" font-style="italic" fill="#1a1a1a" stroke="#1a1a1a" stroke-width="0.25" transform="translate(129.45,532.45) rotate(-45)" >tph-1 tdc-1</text>
<line x1="69.80" y1="421.40" x2="128.20" y2="421.40" stroke="#1a1a1a" stroke-width="1.3" />
<line x1="70.40" y1="421.40" x2="70.40" y2="437.40" stroke="#1a1a1a" stroke-width="1.3" />
<line x1="91.00" y1="421.40" x2="91.00" y2="428.50" stroke="#1a1a1a" stroke-width="1.3" />
<line x1="108.60" y1="421.40" x2="108.60" y2="428.50" stroke="#1a1a1a" stroke-width="1.3" />
<line x1="127.60" y1="421.40" x2="127.60" y2="428.50" stroke="#1a1a1a" stroke-width="1.3" />
<text x="91.00" y="436.60" font-size="12.2" text-anchor="middle" font-weight="normal" font-style="normal" fill="#1a1a1a" stroke="#1a1a1a" stroke-width="0.25" >ns</text>
<polygon points="103.90,430.50 104.56,432.09 106.28,432.23 104.97,433.35 105.37,435.02 103.90,434.12 102.43,435.02 102.83,433.35 101.52,432.23 103.24,432.09" fill="#1a1a1a"/>
<polygon points="108.60,430.50 109.26,432.09 110.98,432.23 109.67,433.35 110.07,435.02 108.60,434.12 107.13,435.02 107.53,433.35 106.22,432.23 107.94,432.09" fill="#1a1a1a"/>
<polygon points="113.30,430.50 113.96,432.09 115.68,432.23 114.37,433.35 114.77,435.02 113.30,434.12 111.83,435.02 112.23,433.35 110.92,432.23 112.64,432.09" fill="#1a1a1a"/>
<polygon points="122.90,430.50 123.56,432.09 125.28,432.23 123.97,433.35 124.37,435.02 122.90,434.12 121.43,435.02 121.83,433.35 120.52,432.23 122.24,432.09" fill="#1a1a1a"/>
<polygon points="127.60,430.50 128.26,432.09 129.98,432.23 128.67,433.35 129.07,435.02 127.60,434.12 126.13,435.02 126.53,433.35 125.22,432.23 126.94,432.09" fill="#1a1a1a"/>
<polygon points="132.30,430.50 132.96,432.09 134.68,432.23 133.37,433.35 133.77,435.02 132.30,434.12 130.83,435.02 131.23,433.35 129.92,432.23 131.64,432.09" fill="#1a1a1a"/>
<line x1="90.40" y1="442.40" x2="128.20" y2="442.40" stroke="#1a1a1a" stroke-width="1.3" />
<line x1="91.00" y1="442.40" x2="91.00" y2="449.00" stroke="#1a1a1a" stroke-width="1.3" />
<line x1="108.60" y1="442.40" x2="108.60" y2="449.00" stroke="#1a1a1a" stroke-width="1.3" />
<line x1="127.60" y1="442.40" x2="127.60" y2="459.00" stroke="#1a1a1a" stroke-width="1.3" />
<polygon points="91.00,451.50 91.66,453.09 93.38,453.23 92.07,454.35 92.47,456.02 91.00,455.12 89.53,456.02 89.93,454.35 88.62,453.23 90.34,453.09" fill="#1a1a1a"/>
<polygon points="108.60,451.50 109.26,453.09 110.98,453.23 109.67,454.35 110.07,456.02 108.60,455.12 107.13,456.02 107.53,454.35 106.22,453.23 107.94,453.09" fill="#1a1a1a"/>
<line x1="144.70" y1="436.40" x2="144.70" y2="520.30" stroke="#1a1a1a" stroke-width="1.3" />
<line x1="140.10" y1="519.70" x2="144.70" y2="519.70" stroke="#1a1a1a" stroke-width="1.2" />
<line x1="140.10" y1="503.16" x2="144.70" y2="503.16" stroke="#1a1a1a" stroke-width="1.2" />
<line x1="140.10" y1="486.62" x2="144.70" y2="486.62" stroke="#1a1a1a" stroke-width="1.2" />
<line x1="140.10" y1="470.08" x2="144.70" y2="470.08" stroke="#1a1a1a" stroke-width="1.2" />
<line x1="140.10" y1="453.54" x2="144.70" y2="453.54" stroke="#1a1a1a" stroke-width="1.2" />
<line x1="140.10" y1="437.00" x2="144.70" y2="437.00" stroke="#1a1a1a" stroke-width="1.2" />
<line x1="156.40" y1="498.00" x2="156.40" y2="503.00" stroke="#8a8a8a" stroke-width="0.85" />
<line x1="156.40" y1="514.00" x2="156.40" y2="518.00" stroke="#8a8a8a" stroke-width="0.85" />
<line x1="153.00" y1="498.00" x2="159.80" y2="498.00" stroke="#9a9a9a" stroke-width="0.9" />
<line x1="153.00" y1="518.00" x2="159.80" y2="518.00" stroke="#9a9a9a" stroke-width="0.9" />
<rect x="150.20" y="503.00" width="12.40" height="11.00" fill="#a0a0a0" stroke="#5a5a5a" stroke-width="0.9"/>
<line x1="150.20" y1="510.00" x2="162.60" y2="510.00" stroke="#5a5a5a" stroke-width="0.9" />
<circle cx="156.21" cy="501.98" r="1.25" fill="none" stroke="#1e1e1e" stroke-width="0.95"/>
<circle cx="159.05" cy="503.91" r="1.25" fill="none" stroke="#1e1e1e" stroke-width="0.95"/>
<circle cx="156.45" cy="504.95" r="1.25" fill="none" stroke="#1e1e1e" stroke-width="0.95"/>
<circle cx="153.77" cy="503.62" r="1.25" fill="none" stroke="#1e1e1e" stroke-width="0.95"/>
<circle cx="159.22" cy="500.57" r="1.25" fill="none" stroke="#1e1e1e" stroke-width="0.95"/>
<circle cx="157.94" cy="507.27" r="1.25" fill="none" stroke="#1e1e1e" stroke-width="0.95"/>
<circle cx="155.62" cy="503.58" r="1.25" fill="none" stroke="#1e1e1e" stroke-width="0.95"/>
<circle cx="156.54" cy="498.00" r="1.25" fill="none" stroke="#1e1e1e" stroke-width="0.95"/>
<circle cx="156.54" cy="513.38" r="1.25" fill="none" stroke="#1e1e1e" stroke-width="0.95"/>
<circle cx="153.77" cy="513.04" r="1.25" fill="none" stroke="#1e1e1e" stroke-width="0.95"/>
<circle cx="160.52" cy="513.74" r="1.25" fill="none" stroke="#1e1e1e" stroke-width="0.95"/>
<circle cx="156.08" cy="513.59" r="1.25" fill="none" stroke="#1e1e1e" stroke-width="0.95"/>
<circle cx="152.01" cy="503.10" r="1.25" fill="none" stroke="#1e1e1e" stroke-width="0.95"/>
<circle cx="156.28" cy="518.00" r="1.25" fill="none" stroke="#1e1e1e" stroke-width="0.95"/>
<circle cx="157.48" cy="505.04" r="1.25" fill="none" stroke="#1e1e1e" stroke-width="0.95"/>
<line x1="175.20" y1="498.60" x2="175.20" y2="505.00" stroke="#8a8a8a" stroke-width="0.85" />
<line x1="175.20" y1="510.60" x2="175.20" y2="515.00" stroke="#8a8a8a" stroke-width="0.85" />
<line x1="171.80" y1="498.60" x2="178.60" y2="498.60" stroke="#9a9a9a" stroke-width="0.9" />
<line x1="171.80" y1="515.00" x2="178.60" y2="515.00" stroke="#9a9a9a" stroke-width="0.9" />
<rect x="169.00" y="505.00" width="12.40" height="5.60" fill="#a0a0a0" stroke="#5a5a5a" stroke-width="0.9"/>
<line x1="169.00" y1="507.50" x2="181.40" y2="507.50" stroke="#5a5a5a" stroke-width="0.9" />
<circle cx="175.31" cy="505.68" r="1.25" fill="none" stroke="#1e1e1e" stroke-width="0.95"/>
<circle cx="175.27" cy="509.80" r="1.25" fill="none" stroke="#1e1e1e" stroke-width="0.95"/>
<circle cx="178.11" cy="506.27" r="1.25" fill="none" stroke="#1e1e1e" stroke-width="0.95"/>
<circle cx="175.11" cy="513.48" r="1.25" fill="none" stroke="#1e1e1e" stroke-width="0.95"/>
<circle cx="172.29" cy="506.74" r="1.25" fill="none" stroke="#1e1e1e" stroke-width="0.95"/>
<circle cx="177.77" cy="515.00" r="1.25" fill="none" stroke="#1e1e1e" stroke-width="0.95"/>
<circle cx="179.37" cy="509.46" r="1.25" fill="none" stroke="#1e1e1e" stroke-width="0.95"/>
<circle cx="175.21" cy="498.60" r="1.25" fill="none" stroke="#1e1e1e" stroke-width="0.95"/>
<circle cx="170.99" cy="505.54" r="1.25" fill="none" stroke="#1e1e1e" stroke-width="0.95"/>
<circle cx="179.20" cy="508.31" r="1.25" fill="none" stroke="#1e1e1e" stroke-width="0.95"/>
<circle cx="176.49" cy="503.99" r="1.25" fill="none" stroke="#1e1e1e" stroke-width="0.95"/>
<circle cx="172.42" cy="512.64" r="1.25" fill="none" stroke="#1e1e1e" stroke-width="0.95"/>
<circle cx="177.97" cy="505.99" r="1.25" fill="none" stroke="#1e1e1e" stroke-width="0.95"/>
<circle cx="172.32" cy="509.74" r="1.25" fill="none" stroke="#1e1e1e" stroke-width="0.95"/>
<circle cx="174.04" cy="505.74" r="1.25" fill="none" stroke="#1e1e1e" stroke-width="0.95"/>
<line x1="193.00" y1="480.30" x2="193.00" y2="488.30" stroke="#8a8a8a" stroke-width="0.85" />
<line x1="193.00" y1="496.60" x2="193.00" y2="509.40" stroke="#8a8a8a" stroke-width="0.85" />
<line x1="189.60" y1="480.30" x2="196.40" y2="480.30" stroke="#9a9a9a" stroke-width="0.9" />
<line x1="189.60" y1="509.40" x2="196.40" y2="509.40" stroke="#9a9a9a" stroke-width="0.9" />
<rect x="186.80" y="488.30" width="12.40" height="8.30" fill="#a0a0a0" stroke="#5a5a5a" stroke-width="0.9"/>
<line x1="186.80" y1="492.00" x2="199.20" y2="492.00" stroke="#5a5a5a" stroke-width="0.9" />
<circle cx="193.17" cy="495.47" r="1.25" fill="none" stroke="#1e1e1e" stroke-width="0.95"/>
<circle cx="195.85" cy="493.94" r="1.25" fill="none" stroke="#1e1e1e" stroke-width="0.95"/>
<circle cx="192.91" cy="490.86" r="1.25" fill="none" stroke="#1e1e1e" stroke-width="0.95"/>
<circle cx="192.85" cy="509.40" r="1.25" fill="none" stroke="#1e1e1e" stroke-width="0.95"/>
<circle cx="190.39" cy="496.58" r="1.25" fill="none" stroke="#1e1e1e" stroke-width="0.95"/>
<circle cx="197.28" cy="496.13" r="1.25" fill="none" stroke="#1e1e1e" stroke-width="0.95"/>
<circle cx="193.15" cy="504.32" r="1.25" fill="none" stroke="#1e1e1e" stroke-width="0.95"/>
<circle cx="194.43" cy="501.65" r="1.25" fill="none" stroke="#1e1e1e" stroke-width="0.95"/>
<circle cx="195.39" cy="495.61" r="1.25" fill="none" stroke="#1e1e1e" stroke-width="0.95"/>
<circle cx="190.07" cy="493.77" r="1.25" fill="none" stroke="#1e1e1e" stroke-width="0.95"/>
<circle cx="194.34" cy="488.38" r="1.25" fill="none" stroke="#1e1e1e" stroke-width="0.95"/>
<circle cx="190.14" cy="488.61" r="1.25" fill="none" stroke="#1e1e1e" stroke-width="0.95"/>
<circle cx="196.94" cy="487.22" r="1.25" fill="none" stroke="#1e1e1e" stroke-width="0.95"/>
<circle cx="192.93" cy="480.30" r="1.25" fill="none" stroke="#1e1e1e" stroke-width="0.95"/>
<circle cx="197.19" cy="489.20" r="1.25" fill="none" stroke="#1e1e1e" stroke-width="0.95"/>
<line x1="212.20" y1="504.00" x2="212.20" y2="508.50" stroke="#8a8a8a" stroke-width="0.85" />
<line x1="212.20" y1="513.90" x2="212.20" y2="514.50" stroke="#8a8a8a" stroke-width="0.85" />
<line x1="208.80" y1="504.00" x2="215.60" y2="504.00" stroke="#9a9a9a" stroke-width="0.9" />
<line x1="208.80" y1="514.50" x2="215.60" y2="514.50" stroke="#9a9a9a" stroke-width="0.9" />
<rect x="206.00" y="508.50" width="12.40" height="5.40" fill="#a0a0a0" stroke="#5a5a5a" stroke-width="0.9"/>
<line x1="206.00" y1="511.00" x2="218.40" y2="511.00" stroke="#5a5a5a" stroke-width="0.9" />
<circle cx="212.15" cy="512.39" r="1.25" fill="none" stroke="#1e1e1e" stroke-width="0.95"/>
<circle cx="212.27" cy="505.64" r="1.25" fill="none" stroke="#1e1e1e" stroke-width="0.95"/>
<circle cx="212.25" cy="508.54" r="1.25" fill="none" stroke="#1e1e1e" stroke-width="0.95"/>
<circle cx="209.28" cy="509.17" r="1.25" fill="none" stroke="#1e1e1e" stroke-width="0.95"/>
<circle cx="216.44" cy="508.61" r="1.25" fill="none" stroke="#1e1e1e" stroke-width="0.95"/>
<circle cx="214.88" cy="504.00" r="1.25" fill="none" stroke="#1e1e1e" stroke-width="0.95"/>
<circle cx="216.23" cy="512.04" r="1.25" fill="none" stroke="#1e1e1e" stroke-width="0.95"/>
<circle cx="208.72" cy="509.97" r="1.25" fill="none" stroke="#1e1e1e" stroke-width="0.95"/>
<circle cx="209.58" cy="513.46" r="1.25" fill="none" stroke="#1e1e1e" stroke-width="0.95"/>
<circle cx="213.96" cy="507.23" r="1.25" fill="none" stroke="#1e1e1e" stroke-width="0.95"/>
<circle cx="209.44" cy="511.67" r="1.25" fill="none" stroke="#1e1e1e" stroke-width="0.95"/>
<circle cx="215.41" cy="513.43" r="1.25" fill="none" stroke="#1e1e1e" stroke-width="0.95"/>
<circle cx="215.76" cy="513.49" r="1.25" fill="none" stroke="#1e1e1e" stroke-width="0.95"/>
<circle cx="212.89" cy="509.91" r="1.25" fill="none" stroke="#1e1e1e" stroke-width="0.95"/>
<circle cx="216.15" cy="514.50" r="1.25" fill="none" stroke="#1e1e1e" stroke-width="0.95"/>
<line x1="144.10" y1="519.70" x2="224.50" y2="519.70" stroke="#1a1a1a" stroke-width="1.3" />
<line x1="156.40" y1="519.70" x2="156.40" y2="524.00" stroke="#1a1a1a" stroke-width="1.2" />
<line x1="175.20" y1="519.70" x2="175.20" y2="524.00" stroke="#1a1a1a" stroke-width="1.2" />
<line x1="193.00" y1="519.70" x2="193.00" y2="524.00" stroke="#1a1a1a" stroke-width="1.2" />
<line x1="212.20" y1="519.70" x2="212.20" y2="524.00" stroke="#1a1a1a" stroke-width="1.2" />
<line x1="141.00" y1="519.70" x2="144.70" y2="519.70" stroke="#1a1a1a" stroke-width="1.3" />
<text x="0.00" y="0.00" font-size="10.5" text-anchor="end" font-weight="normal" font-style="italic" fill="#1a1a1a" stroke="#1a1a1a" stroke-width="0.25" transform="translate(158.40,532.50) rotate(-45)" >WT</text>
<text x="0.00" y="0.00" font-size="10.5" text-anchor="end" font-weight="normal" font-style="italic" fill="#1a1a1a" stroke="#1a1a1a" stroke-width="0.25" transform="translate(177.20,532.50) rotate(-45)" >tph-1</text>
<text x="0.00" y="0.00" font-size="10.5" text-anchor="end" font-weight="normal" font-style="italic" fill="#1a1a1a" stroke="#1a1a1a" stroke-width="0.25" transform="translate(195.00,532.50) rotate(-45)" >tbh-1</text>
<text x="0.00" y="0.00" font-size="10.5" text-anchor="end" font-weight="normal" font-style="italic" fill="#1a1a1a" stroke="#1a1a1a" stroke-width="0.25" transform="translate(214.20,532.50) rotate(-45)" >tph-1 tbh-1</text>
<line x1="155.60" y1="421.40" x2="213.20" y2="421.40" stroke="#1a1a1a" stroke-width="1.3" />
<line x1="156.20" y1="421.40" x2="156.20" y2="438.00" stroke="#1a1a1a" stroke-width="1.3" />
<line x1="175.20" y1="421.40" x2="175.20" y2="428.50" stroke="#1a1a1a" stroke-width="1.3" />
<line x1="192.70" y1="421.40" x2="192.70" y2="428.50" stroke="#1a1a1a" stroke-width="1.3" />
<line x1="212.60" y1="421.40" x2="212.60" y2="428.50" stroke="#1a1a1a" stroke-width="1.3" />
<text x="175.20" y="436.60" font-size="12.2" text-anchor="middle" font-weight="normal" font-style="normal" fill="#1a1a1a" stroke="#1a1a1a" stroke-width="0.25" >ns</text>
<polygon points="188.00,430.20 188.66,431.79 190.38,431.93 189.07,433.05 189.47,434.72 188.00,433.82 186.53,434.72 186.93,433.05 185.62,431.93 187.34,431.79" fill="#1a1a1a"/>
<polygon points="192.70,430.20 193.36,431.79 195.08,431.93 193.77,433.05 194.17,434.72 192.70,433.82 191.23,434.72 191.63,433.05 190.32,431.93 192.04,431.79" fill="#1a1a1a"/>
<polygon points="197.40,430.20 198.06,431.79 199.78,431.93 198.47,433.05 198.87,434.72 197.40,433.82 195.93,434.72 196.33,433.05 195.02,431.93 196.74,431.79" fill="#1a1a1a"/>
<text x="212.60" y="436.60" font-size="12.2" text-anchor="middle" font-weight="normal" font-style="normal" fill="#1a1a1a" stroke="#1a1a1a" stroke-width="0.25" >ns</text>
<line x1="174.60" y1="443.10" x2="213.20" y2="443.10" stroke="#1a1a1a" stroke-width="1.3" />
<line x1="175.20" y1="443.10" x2="175.20" y2="450.00" stroke="#1a1a1a" stroke-width="1.3" />
<line x1="192.70" y1="443.10" x2="192.70" y2="450.00" stroke="#1a1a1a" stroke-width="1.3" />
<line x1="212.60" y1="443.10" x2="212.60" y2="459.50" stroke="#1a1a1a" stroke-width="1.3" />
<text x="175.20" y="458.60" font-size="12.2" text-anchor="middle" font-weight="normal" font-style="normal" fill="#1a1a1a" stroke="#1a1a1a" stroke-width="0.25" >ns</text>
<polygon points="188.00,452.50 188.66,454.09 190.38,454.23 189.07,455.35 189.47,457.02 188.00,456.12 186.53,457.02 186.93,455.35 185.62,454.23 187.34,454.09" fill="#1a1a1a"/>
<polygon points="192.70,452.50 193.36,454.09 195.08,454.23 193.77,455.35 194.17,457.02 192.70,456.12 191.23,457.02 191.63,455.35 190.32,454.23 192.04,454.09" fill="#1a1a1a"/>
<polygon points="197.40,452.50 198.06,454.09 199.78,454.23 198.47,455.35 198.87,457.02 197.40,456.12 195.93,457.02 196.33,455.35 195.02,454.23 196.74,454.09" fill="#1a1a1a"/>
<text x="232.90" y="404.60" font-size="18.8" text-anchor="start" font-weight="bold" font-style="normal" fill="#000" >h</text>
<rect x="245" y="415.8" width="26.8" height="12.9" fill="#e6e6e8"/>
<text x="246.6" y="424.8" font-size="10.6" fill="#1da54f" font-weight="bold"><tspan font-weight="normal">&#916;</tspan><tspan font-style="italic">crp</tspan></text>
<text x="0.00" y="0.00" font-size="12" text-anchor="middle" font-weight="normal" font-style="normal" fill="#1a1a1a" stroke="#1a1a1a" stroke-width="0.25" transform="translate(252.70,473.80) rotate(-90)" >Aversion ratio</text>
<text x="0.00" y="0.00" font-size="12" text-anchor="middle" font-weight="normal" font-style="normal" fill="#1a1a1a" stroke="#1a1a1a" stroke-width="0.25" transform="translate(266.40,472.30) rotate(-90)" >(16-20 hrs)</text>
<line x1="293.40" y1="436.00" x2="293.40" y2="519.60" stroke="#1a1a1a" stroke-width="1.3" />
<line x1="288.80" y1="519.00" x2="293.40" y2="519.00" stroke="#1a1a1a" stroke-width="1.2" />
<text x="287.70" y="522.90" font-size="11" text-anchor="end" font-weight="normal" font-style="normal" fill="#1a1a1a" stroke="#1a1a1a" stroke-width="0.25" >0.0</text>
<line x1="288.80" y1="502.52" x2="293.40" y2="502.52" stroke="#1a1a1a" stroke-width="1.2" />
<text x="287.70" y="506.42" font-size="11" text-anchor="end" font-weight="normal" font-style="normal" fill="#1a1a1a" stroke="#1a1a1a" stroke-width="0.25" >0.2</text>
<line x1="288.80" y1="486.04" x2="293.40" y2="486.04" stroke="#1a1a1a" stroke-width="1.2" />
<text x="287.70" y="489.94" font-size="11" text-anchor="end" font-weight="normal" font-style="normal" fill="#1a1a1a" stroke="#1a1a1a" stroke-width="0.25" >0.4</text>
<line x1="288.80" y1="469.56" x2="293.40" y2="469.56" stroke="#1a1a1a" stroke-width="1.2" />
<text x="287.70" y="473.46" font-size="11" text-anchor="end" font-weight="normal" font-style="normal" fill="#1a1a1a" stroke="#1a1a1a" stroke-width="0.25" >0.6</text>
<line x1="288.80" y1="453.08" x2="293.40" y2="453.08" stroke="#1a1a1a" stroke-width="1.2" />
<text x="287.70" y="456.98" font-size="11" text-anchor="end" font-weight="normal" font-style="normal" fill="#1a1a1a" stroke="#1a1a1a" stroke-width="0.25" >0.8</text>
<line x1="288.80" y1="436.60" x2="293.40" y2="436.60" stroke="#1a1a1a" stroke-width="1.2" />
<text x="287.70" y="440.50" font-size="11" text-anchor="end" font-weight="normal" font-style="normal" fill="#1a1a1a" stroke="#1a1a1a" stroke-width="0.25" >1.0</text>
<line x1="305.00" y1="448.40" x2="305.00" y2="459.00" stroke="#8a8a8a" stroke-width="0.85" />
<line x1="305.00" y1="465.40" x2="305.00" y2="474.40" stroke="#8a8a8a" stroke-width="0.85" />
<line x1="301.60" y1="448.40" x2="308.40" y2="448.40" stroke="#9a9a9a" stroke-width="0.9" />
<line x1="301.60" y1="474.40" x2="308.40" y2="474.40" stroke="#9a9a9a" stroke-width="0.9" />
<rect x="298.80" y="459.00" width="12.40" height="6.40" fill="#15964a" stroke="#0a3f1f" stroke-width="0.9"/>
<line x1="298.80" y1="462.00" x2="311.20" y2="462.00" stroke="#0a3f1f" stroke-width="0.9" />
<circle cx="305.04" cy="460.11" r="1.25" fill="none" stroke="#1e1e1e" stroke-width="0.95"/>
<circle cx="304.97" cy="465.24" r="1.25" fill="none" stroke="#1e1e1e" stroke-width="0.95"/>
<circle cx="302.28" cy="460.93" r="1.25" fill="none" stroke="#1e1e1e" stroke-width="0.95"/>
<circle cx="304.99" cy="471.45" r="1.25" fill="none" stroke="#1e1e1e" stroke-width="0.95"/>
<circle cx="309.13" cy="459.49" r="1.25" fill="none" stroke="#1e1e1e" stroke-width="0.95"/>
<circle cx="300.84" cy="461.21" r="1.25" fill="none" stroke="#1e1e1e" stroke-width="0.95"/>
<circle cx="307.93" cy="472.36" r="1.25" fill="none" stroke="#1e1e1e" stroke-width="0.95"/>
<circle cx="307.45" cy="459.29" r="1.25" fill="none" stroke="#1e1e1e" stroke-width="0.95"/>
<circle cx="307.73" cy="464.86" r="1.25" fill="none" stroke="#1e1e1e" stroke-width="0.95"/>
<circle cx="304.97" cy="448.40" r="1.25" fill="none" stroke="#1e1e1e" stroke-width="0.95"/>
<circle cx="305.19" cy="474.40" r="1.25" fill="none" stroke="#1e1e1e" stroke-width="0.95"/>
<circle cx="307.92" cy="450.28" r="1.25" fill="none" stroke="#1e1e1e" stroke-width="0.95"/>
<circle cx="300.90" cy="464.57" r="1.25" fill="none" stroke="#1e1e1e" stroke-width="0.95"/>
<circle cx="303.77" cy="459.61" r="1.25" fill="none" stroke="#1e1e1e" stroke-width="0.95"/>
<circle cx="300.81" cy="457.59" r="1.25" fill="none" stroke="#1e1e1e" stroke-width="0.95"/>
<line x1="323.40" y1="502.00" x2="323.40" y2="502.00" stroke="#8a8a8a" stroke-width="0.85" />
<line x1="323.40" y1="512.60" x2="323.40" y2="517.00" stroke="#8a8a8a" stroke-width="0.85" />
<line x1="320.00" y1="502.00" x2="326.80" y2="502.00" stroke="#9a9a9a" stroke-width="0.9" />
<line x1="320.00" y1="517.00" x2="326.80" y2="517.00" stroke="#9a9a9a" stroke-width="0.9" />
<rect x="317.20" y="502.00" width="12.40" height="10.60" fill="#15964a" stroke="#0a3f1f" stroke-width="0.9"/>
<line x1="317.20" y1="506.00" x2="329.60" y2="506.00" stroke="#0a3f1f" stroke-width="0.9" />
<circle cx="323.58" cy="502.00" r="1.25" fill="none" stroke="#1e1e1e" stroke-width="0.95"/>
<circle cx="323.53" cy="517.00" r="1.25" fill="none" stroke="#1e1e1e" stroke-width="0.95"/>
<circle cx="323.26" cy="512.52" r="1.25" fill="none" stroke="#1e1e1e" stroke-width="0.95"/>
<circle cx="323.21" cy="504.99" r="1.25" fill="none" stroke="#1e1e1e" stroke-width="0.95"/>
<circle cx="320.64" cy="502.80" r="1.25" fill="none" stroke="#1e1e1e" stroke-width="0.95"/>
<circle cx="325.98" cy="503.65" r="1.25" fill="none" stroke="#1e1e1e" stroke-width="0.95"/>
<circle cx="323.23" cy="509.38" r="1.25" fill="none" stroke="#1e1e1e" stroke-width="0.95"/>
<circle cx="326.04" cy="510.59" r="1.25" fill="none" stroke="#1e1e1e" stroke-width="0.95"/>
<circle cx="319.16" cy="511.72" r="1.25" fill="none" stroke="#1e1e1e" stroke-width="0.95"/>
<circle cx="326.12" cy="507.58" r="1.25" fill="none" stroke="#1e1e1e" stroke-width="0.95"/>
<circle cx="320.94" cy="511.87" r="1.25" fill="none" stroke="#1e1e1e" stroke-width="0.95"/>
<circle cx="327.73" cy="502.49" r="1.25" fill="none" stroke="#1e1e1e" stroke-width="0.95"/>
<circle cx="323.06" cy="511.98" r="1.25" fill="none" stroke="#1e1e1e" stroke-width="0.95"/>
<circle cx="326.20" cy="513.99" r="1.25" fill="none" stroke="#1e1e1e" stroke-width="0.95"/>
<circle cx="324.09" cy="509.29" r="1.25" fill="none" stroke="#1e1e1e" stroke-width="0.95"/>
<line x1="341.60" y1="446.40" x2="341.60" y2="456.00" stroke="#8a8a8a" stroke-width="0.85" />
<line x1="341.60" y1="468.60" x2="341.60" y2="476.00" stroke="#8a8a8a" stroke-width="0.85" />
<line x1="338.20" y1="446.40" x2="345.00" y2="446.40" stroke="#9a9a9a" stroke-width="0.9" />
<line x1="338.20" y1="476.00" x2="345.00" y2="476.00" stroke="#9a9a9a" stroke-width="0.9" />
<rect x="335.40" y="456.00" width="12.40" height="12.60" fill="#15964a" stroke="#0a3f1f" stroke-width="0.9"/>
<line x1="335.40" y1="459.00" x2="347.80" y2="459.00" stroke="#0a3f1f" stroke-width="0.9" />
<circle cx="341.77" cy="456.47" r="1.25" fill="none" stroke="#1e1e1e" stroke-width="0.95"/>
<circle cx="341.61" cy="474.34" r="1.25" fill="none" stroke="#1e1e1e" stroke-width="0.95"/>
<circle cx="341.42" cy="462.85" r="1.25" fill="none" stroke="#1e1e1e" stroke-width="0.95"/>
<circle cx="341.55" cy="467.86" r="1.25" fill="none" stroke="#1e1e1e" stroke-width="0.95"/>
<circle cx="338.82" cy="456.94" r="1.25" fill="none" stroke="#1e1e1e" stroke-width="0.95"/>
<circle cx="344.39" cy="467.72" r="1.25" fill="none" stroke="#1e1e1e" stroke-width="0.95"/>
<circle cx="344.54" cy="473.67" r="1.25" fill="none" stroke="#1e1e1e" stroke-width="0.95"/>
<circle cx="338.68" cy="476.00" r="1.25" fill="none" stroke="#1e1e1e" stroke-width="0.95"/>
<circle cx="338.72" cy="465.70" r="1.25" fill="none" stroke="#1e1e1e" stroke-width="0.95"/>
<circle cx="345.31" cy="465.63" r="1.25" fill="none" stroke="#1e1e1e" stroke-width="0.95"/>
<circle cx="345.78" cy="456.67" r="1.25" fill="none" stroke="#1e1e1e" stroke-width="0.95"/>
<circle cx="341.52" cy="446.40" r="1.25" fill="none" stroke="#1e1e1e" stroke-width="0.95"/>
<circle cx="337.40" cy="468.45" r="1.25" fill="none" stroke="#1e1e1e" stroke-width="0.95"/>
<circle cx="341.37" cy="468.04" r="1.25" fill="none" stroke="#1e1e1e" stroke-width="0.95"/>
<circle cx="341.73" cy="451.81" r="1.25" fill="none" stroke="#1e1e1e" stroke-width="0.95"/>
<line x1="360.00" y1="482.40" x2="360.00" y2="490.40" stroke="#8a8a8a" stroke-width="0.85" />
<line x1="360.00" y1="512.50" x2="360.00" y2="515.00" stroke="#8a8a8a" stroke-width="0.85" />
<line x1="356.60" y1="482.40" x2="363.40" y2="482.40" stroke="#9a9a9a" stroke-width="0.9" />
<line x1="356.60" y1="515.00" x2="363.40" y2="515.00" stroke="#9a9a9a" stroke-width="0.9" />
<rect x="353.80" y="490.40" width="12.40" height="22.10" fill="#15964a" stroke="#0a3f1f" stroke-width="0.9"/>
<line x1="353.80" y1="496.20" x2="366.20" y2="496.20" stroke="#0a3f1f" stroke-width="0.9" />
<circle cx="360.01" cy="493.71" r="1.25" fill="none" stroke="#1e1e1e" stroke-width="0.95"/>
<circle cx="361.56" cy="491.15" r="1.25" fill="none" stroke="#1e1e1e" stroke-width="0.95"/>
<circle cx="359.98" cy="482.40" r="1.25" fill="none" stroke="#1e1e1e" stroke-width="0.95"/>
<circle cx="359.89" cy="509.22" r="1.25" fill="none" stroke="#1e1e1e" stroke-width="0.95"/>
<circle cx="359.81" cy="515.00" r="1.25" fill="none" stroke="#1e1e1e" stroke-width="0.95"/>
<circle cx="358.64" cy="490.66" r="1.25" fill="none" stroke="#1e1e1e" stroke-width="0.95"/>
<circle cx="361.33" cy="484.93" r="1.25" fill="none" stroke="#1e1e1e" stroke-width="0.95"/>
<circle cx="361.53" cy="506.63" r="1.25" fill="none" stroke="#1e1e1e" stroke-width="0.95"/>
<circle cx="355.87" cy="491.72" r="1.25" fill="none" stroke="#1e1e1e" stroke-width="0.95"/>
<circle cx="361.99" cy="490.95" r="1.25" fill="none" stroke="#1e1e1e" stroke-width="0.95"/>
<circle cx="360.92" cy="490.55" r="1.25" fill="none" stroke="#1e1e1e" stroke-width="0.95"/>
<circle cx="363.98" cy="493.56" r="1.25" fill="none" stroke="#1e1e1e" stroke-width="0.95"/>
<circle cx="361.43" cy="512.36" r="1.25" fill="none" stroke="#1e1e1e" stroke-width="0.95"/>
<circle cx="358.69" cy="511.90" r="1.25" fill="none" stroke="#1e1e1e" stroke-width="0.95"/>
<circle cx="356.32" cy="490.51" r="1.25" fill="none" stroke="#1e1e1e" stroke-width="0.95"/>
<line x1="292.80" y1="519.00" x2="371.80" y2="519.00" stroke="#1a1a1a" stroke-width="1.3" />
<line x1="305.00" y1="519.00" x2="305.00" y2="523.30" stroke="#1a1a1a" stroke-width="1.2" />
<line x1="323.40" y1="519.00" x2="323.40" y2="523.30" stroke="#1a1a1a" stroke-width="1.2" />
<line x1="341.60" y1="519.00" x2="341.60" y2="523.30" stroke="#1a1a1a" stroke-width="1.2" />
<line x1="360.00" y1="519.00" x2="360.00" y2="523.30" stroke="#1a1a1a" stroke-width="1.2" />
<text x="0.00" y="0.00" font-size="10.5" text-anchor="end" font-weight="normal" font-style="italic" fill="#1a1a1a" stroke="#1a1a1a" stroke-width="0.25" transform="translate(307.00,531.80) rotate(-45)" >WT</text>
<text x="0.00" y="0.00" font-size="10.5" text-anchor="end" font-weight="normal" font-style="italic" fill="#1a1a1a" stroke="#1a1a1a" stroke-width="0.25" transform="translate(325.40,531.80) rotate(-45)" >tph-1</text>
<text x="0.00" y="0.00" font-size="10.5" text-anchor="end" font-weight="normal" font-style="italic" fill="#1a1a1a" stroke="#1a1a1a" stroke-width="0.25" transform="translate(343.60,531.80) rotate(-45)" >tdc-1</text>
<text x="0.00" y="0.00" font-size="10.5" text-anchor="end" font-weight="normal" font-style="italic" fill="#1a1a1a" stroke="#1a1a1a" stroke-width="0.25" transform="translate(362.00,531.80) rotate(-45)" >tph-1 tdc-1</text>
<line x1="304.00" y1="409.00" x2="361.60" y2="409.00" stroke="#1a1a1a" stroke-width="1.3" />
<line x1="304.60" y1="409.00" x2="304.60" y2="424.00" stroke="#1a1a1a" stroke-width="1.3" />
<line x1="325.00" y1="409.00" x2="325.00" y2="416.00" stroke="#1a1a1a" stroke-width="1.3" />
<line x1="341.60" y1="409.00" x2="341.60" y2="416.00" stroke="#1a1a1a" stroke-width="1.3" />
<line x1="361.00" y1="409.00" x2="361.00" y2="416.00" stroke="#1a1a1a" stroke-width="1.3" />
<polygon points="320.30,417.90 320.96,419.49 322.68,419.63 321.37,420.75 321.77,422.42 320.30,421.52 318.83,422.42 319.23,420.75 317.92,419.63 319.64,419.49" fill="#1a1a1a"/>
<polygon points="325.00,417.90 325.66,419.49 327.38,419.63 326.07,420.75 326.47,422.42 325.00,421.52 323.53,422.42 323.93,420.75 322.62,419.63 324.34,419.49" fill="#1a1a1a"/>
<polygon points="329.70,417.90 330.36,419.49 332.08,419.63 330.77,420.75 331.17,422.42 329.70,421.52 328.23,422.42 328.63,420.75 327.32,419.63 329.04,419.49" fill="#1a1a1a"/>
<text x="341.60" y="424.00" font-size="12.2" text-anchor="middle" font-weight="normal" font-style="normal" fill="#1a1a1a" stroke="#1a1a1a" stroke-width="0.25" >ns</text>
<polygon points="356.30,417.90 356.96,419.49 358.68,419.63 357.37,420.75 357.77,422.42 356.30,421.52 354.83,422.42 355.23,420.75 353.92,419.63 355.64,419.49" fill="#1a1a1a"/>
<polygon points="361.00,417.90 361.66,419.49 363.38,419.63 362.07,420.75 362.47,422.42 361.00,421.52 359.53,422.42 359.93,420.75 358.62,419.63 360.34,419.49" fill="#1a1a1a"/>
<polygon points="365.70,417.90 366.36,419.49 368.08,419.63 366.77,420.75 367.17,422.42 365.70,421.52 364.23,422.42 364.63,420.75 363.32,419.63 365.04,419.49" fill="#1a1a1a"/>
<line x1="324.40" y1="430.00" x2="361.60" y2="430.00" stroke="#1a1a1a" stroke-width="1.3" />
<line x1="325.00" y1="430.00" x2="325.00" y2="436.00" stroke="#1a1a1a" stroke-width="1.3" />
<line x1="341.60" y1="430.00" x2="341.60" y2="436.00" stroke="#1a1a1a" stroke-width="1.3" />
<line x1="361.00" y1="430.00" x2="361.00" y2="447.00" stroke="#1a1a1a" stroke-width="1.3" />
<text x="323.00" y="445.50" font-size="12.2" text-anchor="middle" font-weight="normal" font-style="normal" fill="#1a1a1a" stroke="#1a1a1a" stroke-width="0.25" >ns</text>
<polygon points="336.90,439.10 337.56,440.69 339.28,440.83 337.97,441.95 338.37,443.62 336.90,442.73 335.43,443.62 335.83,441.95 334.52,440.83 336.24,440.69" fill="#1a1a1a"/>
<polygon points="341.60,439.10 342.26,440.69 343.98,440.83 342.67,441.95 343.07,443.62 341.60,442.73 340.13,443.62 340.53,441.95 339.22,440.83 340.94,440.69" fill="#1a1a1a"/>
<polygon points="346.30,439.10 346.96,440.69 348.68,440.83 347.37,441.95 347.77,443.62 346.30,442.73 344.83,443.62 345.23,441.95 343.92,440.83 345.64,440.69" fill="#1a1a1a"/>
<line x1="378.00" y1="436.20" x2="378.00" y2="519.60" stroke="#1a1a1a" stroke-width="1.3" />
<line x1="373.40" y1="519.00" x2="378.00" y2="519.00" stroke="#1a1a1a" stroke-width="1.2" />
<line x1="373.40" y1="502.56" x2="378.00" y2="502.56" stroke="#1a1a1a" stroke-width="1.2" />
<line x1="373.40" y1="486.12" x2="378.00" y2="486.12" stroke="#1a1a1a" stroke-width="1.2" />
<line x1="373.40" y1="469.68" x2="378.00" y2="469.68" stroke="#1a1a1a" stroke-width="1.2" />
<line x1="373.40" y1="453.24" x2="378.00" y2="453.24" stroke="#1a1a1a" stroke-width="1.2" />
<line x1="373.40" y1="436.80" x2="378.00" y2="436.80" stroke="#1a1a1a" stroke-width="1.2" />
<line x1="389.70" y1="482.00" x2="389.70" y2="482.00" stroke="#8a8a8a" stroke-width="0.85" />
<line x1="389.70" y1="491.00" x2="389.70" y2="498.60" stroke="#8a8a8a" stroke-width="0.85" />
<line x1="386.30" y1="482.00" x2="393.10" y2="482.00" stroke="#9a9a9a" stroke-width="0.9" />
<line x1="386.30" y1="498.60" x2="393.10" y2="498.60" stroke="#9a9a9a" stroke-width="0.9" />
<rect x="383.50" y="482.00" width="12.40" height="9.00" fill="#15964a" stroke="#0a3f1f" stroke-width="0.9"/>
<line x1="383.50" y1="484.00" x2="395.90" y2="484.00" stroke="#0a3f1f" stroke-width="0.9" />
<circle cx="389.64" cy="490.38" r="1.25" fill="none" stroke="#1e1e1e" stroke-width="0.95"/>
<circle cx="389.72" cy="482.78" r="1.25" fill="none" stroke="#1e1e1e" stroke-width="0.95"/>
<circle cx="392.42" cy="482.00" r="1.25" fill="none" stroke="#1e1e1e" stroke-width="0.95"/>
<circle cx="389.59" cy="485.55" r="1.25" fill="none" stroke="#1e1e1e" stroke-width="0.95"/>
<circle cx="386.81" cy="483.49" r="1.25" fill="none" stroke="#1e1e1e" stroke-width="0.95"/>
<circle cx="392.49" cy="492.46" r="1.25" fill="none" stroke="#1e1e1e" stroke-width="0.95"/>
<circle cx="392.28" cy="484.80" r="1.25" fill="none" stroke="#1e1e1e" stroke-width="0.95"/>
<circle cx="388.04" cy="482.11" r="1.25" fill="none" stroke="#1e1e1e" stroke-width="0.95"/>
<circle cx="389.68" cy="498.60" r="1.25" fill="none" stroke="#1e1e1e" stroke-width="0.95"/>
<circle cx="386.88" cy="490.71" r="1.25" fill="none" stroke="#1e1e1e" stroke-width="0.95"/>
<circle cx="392.53" cy="490.75" r="1.25" fill="none" stroke="#1e1e1e" stroke-width="0.95"/>
<circle cx="391.23" cy="496.23" r="1.25" fill="none" stroke="#1e1e1e" stroke-width="0.95"/>
<circle cx="390.37" cy="489.17" r="1.25" fill="none" stroke="#1e1e1e" stroke-width="0.95"/>
<circle cx="386.88" cy="482.99" r="1.25" fill="none" stroke="#1e1e1e" stroke-width="0.95"/>
<circle cx="386.83" cy="487.75" r="1.25" fill="none" stroke="#1e1e1e" stroke-width="0.95"/>
<line x1="408.30" y1="494.60" x2="408.30" y2="498.60" stroke="#8a8a8a" stroke-width="0.85" />
<line x1="408.30" y1="506.60" x2="408.30" y2="510.00" stroke="#8a8a8a" stroke-width="0.85" />
<line x1="404.90" y1="494.60" x2="411.70" y2="494.60" stroke="#9a9a9a" stroke-width="0.9" />
<line x1="404.90" y1="510.00" x2="411.70" y2="510.00" stroke="#9a9a9a" stroke-width="0.9" />
<rect x="402.10" y="498.60" width="12.40" height="8.00" fill="#15964a" stroke="#0a3f1f" stroke-width="0.9"/>
<line x1="402.10" y1="502.00" x2="414.50" y2="502.00" stroke="#0a3f1f" stroke-width="0.9" />
<circle cx="408.19" cy="499.30" r="1.25" fill="none" stroke="#1e1e1e" stroke-width="0.95"/>
<circle cx="408.18" cy="502.53" r="1.25" fill="none" stroke="#1e1e1e" stroke-width="0.95"/>
<circle cx="408.20" cy="506.38" r="1.25" fill="none" stroke="#1e1e1e" stroke-width="0.95"/>
<circle cx="411.02" cy="502.65" r="1.25" fill="none" stroke="#1e1e1e" stroke-width="0.95"/>
<circle cx="411.25" cy="499.02" r="1.25" fill="none" stroke="#1e1e1e" stroke-width="0.95"/>
<circle cx="410.97" cy="506.43" r="1.25" fill="none" stroke="#1e1e1e" stroke-width="0.95"/>
<circle cx="404.23" cy="498.81" r="1.25" fill="none" stroke="#1e1e1e" stroke-width="0.95"/>
<circle cx="404.18" cy="506.22" r="1.25" fill="none" stroke="#1e1e1e" stroke-width="0.95"/>
<circle cx="405.04" cy="504.38" r="1.25" fill="none" stroke="#1e1e1e" stroke-width="0.95"/>
<circle cx="409.78" cy="499.06" r="1.25" fill="none" stroke="#1e1e1e" stroke-width="0.95"/>
<circle cx="408.40" cy="510.00" r="1.25" fill="none" stroke="#1e1e1e" stroke-width="0.95"/>
<circle cx="407.73" cy="504.98" r="1.25" fill="none" stroke="#1e1e1e" stroke-width="0.95"/>
<circle cx="409.63" cy="506.26" r="1.25" fill="none" stroke="#1e1e1e" stroke-width="0.95"/>
<circle cx="408.39" cy="494.60" r="1.25" fill="none" stroke="#1e1e1e" stroke-width="0.95"/>
<circle cx="407.42" cy="499.03" r="1.25" fill="none" stroke="#1e1e1e" stroke-width="0.95"/>
<line x1="426.50" y1="481.70" x2="426.50" y2="481.70" stroke="#8a8a8a" stroke-width="0.85" />
<line x1="426.50" y1="495.00" x2="426.50" y2="507.60" stroke="#8a8a8a" stroke-width="0.85" />
<line x1="423.10" y1="481.70" x2="429.90" y2="481.70" stroke="#9a9a9a" stroke-width="0.9" />
<line x1="423.10" y1="507.60" x2="429.90" y2="507.60" stroke="#9a9a9a" stroke-width="0.9" />
<rect x="420.30" y="481.70" width="12.40" height="13.30" fill="#15964a" stroke="#0a3f1f" stroke-width="0.9"/>
<line x1="420.30" y1="488.00" x2="432.70" y2="488.00" stroke="#0a3f1f" stroke-width="0.9" />
<circle cx="426.39" cy="482.15" r="1.25" fill="none" stroke="#1e1e1e" stroke-width="0.95"/>
<circle cx="426.60" cy="494.67" r="1.25" fill="none" stroke="#1e1e1e" stroke-width="0.95"/>
<circle cx="423.72" cy="494.91" r="1.25" fill="none" stroke="#1e1e1e" stroke-width="0.95"/>
<circle cx="429.29" cy="482.47" r="1.25" fill="none" stroke="#1e1e1e" stroke-width="0.95"/>
<circle cx="423.93" cy="483.64" r="1.25" fill="none" stroke="#1e1e1e" stroke-width="0.95"/>
<circle cx="426.31" cy="491.15" r="1.25" fill="none" stroke="#1e1e1e" stroke-width="0.95"/>
<circle cx="426.38" cy="500.36" r="1.25" fill="none" stroke="#1e1e1e" stroke-width="0.95"/>
<circle cx="430.52" cy="494.29" r="1.25" fill="none" stroke="#1e1e1e" stroke-width="0.95"/>
<circle cx="427.64" cy="493.34" r="1.25" fill="none" stroke="#1e1e1e" stroke-width="0.95"/>
<circle cx="424.90" cy="494.73" r="1.25" fill="none" stroke="#1e1e1e" stroke-width="0.95"/>
<circle cx="424.74" cy="494.47" r="1.25" fill="none" stroke="#1e1e1e" stroke-width="0.95"/>
<circle cx="426.16" cy="481.70" r="1.25" fill="none" stroke="#1e1e1e" stroke-width="0.95"/>
<circle cx="427.19" cy="482.27" r="1.25" fill="none" stroke="#1e1e1e" stroke-width="0.95"/>
<circle cx="429.04" cy="484.30" r="1.25" fill="none" stroke="#1e1e1e" stroke-width="0.95"/>
<circle cx="426.60" cy="507.60" r="1.25" fill="none" stroke="#1e1e1e" stroke-width="0.95"/>
<line x1="445.20" y1="492.70" x2="445.20" y2="498.00" stroke="#8a8a8a" stroke-width="0.85" />
<line x1="445.20" y1="503.40" x2="445.20" y2="508.50" stroke="#8a8a8a" stroke-width="0.85" />
<line x1="441.80" y1="492.70" x2="448.60" y2="492.70" stroke="#9a9a9a" stroke-width="0.9" />
<line x1="441.80" y1="508.50" x2="448.60" y2="508.50" stroke="#9a9a9a" stroke-width="0.9" />
<rect x="439.00" y="498.00" width="12.40" height="5.40" fill="#15964a" stroke="#0a3f1f" stroke-width="0.9"/>
<line x1="439.00" y1="500.50" x2="451.40" y2="500.50" stroke="#0a3f1f" stroke-width="0.9" />
<circle cx="445.30" cy="499.94" r="1.25" fill="none" stroke="#1e1e1e" stroke-width="0.95"/>
<circle cx="445.28" cy="502.99" r="1.25" fill="none" stroke="#1e1e1e" stroke-width="0.95"/>
<circle cx="445.06" cy="492.70" r="1.25" fill="none" stroke="#1e1e1e" stroke-width="0.95"/>
<circle cx="447.99" cy="500.50" r="1.25" fill="none" stroke="#1e1e1e" stroke-width="0.95"/>
<circle cx="442.32" cy="502.60" r="1.25" fill="none" stroke="#1e1e1e" stroke-width="0.95"/>
<circle cx="445.83" cy="502.72" r="1.25" fill="none" stroke="#1e1e1e" stroke-width="0.95"/>
<circle cx="442.29" cy="498.74" r="1.25" fill="none" stroke="#1e1e1e" stroke-width="0.95"/>
<circle cx="441.36" cy="498.74" r="1.25" fill="none" stroke="#1e1e1e" stroke-width="0.95"/>
<circle cx="446.76" cy="495.05" r="1.25" fill="none" stroke="#1e1e1e" stroke-width="0.95"/>
<circle cx="445.99" cy="500.11" r="1.25" fill="none" stroke="#1e1e1e" stroke-width="0.95"/>
<circle cx="448.10" cy="505.28" r="1.25" fill="none" stroke="#1e1e1e" stroke-width="0.95"/>
<circle cx="442.27" cy="495.03" r="1.25" fill="none" stroke="#1e1e1e" stroke-width="0.95"/>
<circle cx="440.89" cy="504.66" r="1.25" fill="none" stroke="#1e1e1e" stroke-width="0.95"/>
<circle cx="441.71" cy="503.28" r="1.25" fill="none" stroke="#1e1e1e" stroke-width="0.95"/>
<circle cx="445.07" cy="508.50" r="1.25" fill="none" stroke="#1e1e1e" stroke-width="0.95"/>
<line x1="377.40" y1="519.00" x2="456.60" y2="519.00" stroke="#1a1a1a" stroke-width="1.3" />
<line x1="389.70" y1="519.00" x2="389.70" y2="523.30" stroke="#1a1a1a" stroke-width="1.2" />
<line x1="408.30" y1="519.00" x2="408.30" y2="523.30" stroke="#1a1a1a" stroke-width="1.2" />
<line x1="426.50" y1="519.00" x2="426.50" y2="523.30" stroke="#1a1a1a" stroke-width="1.2" />
<line x1="445.20" y1="519.00" x2="445.20" y2="523.30" stroke="#1a1a1a" stroke-width="1.2" />
<line x1="374.00" y1="519.00" x2="378.00" y2="519.00" stroke="#1a1a1a" stroke-width="1.3" />
<text x="0.00" y="0.00" font-size="10.5" text-anchor="end" font-weight="normal" font-style="italic" fill="#1a1a1a" stroke="#1a1a1a" stroke-width="0.25" transform="translate(391.70,531.80) rotate(-45)" >WT</text>
<text x="0.00" y="0.00" font-size="10.5" text-anchor="end" font-weight="normal" font-style="italic" fill="#1a1a1a" stroke="#1a1a1a" stroke-width="0.25" transform="translate(410.30,531.80) rotate(-45)" >tph-1</text>
<text x="0.00" y="0.00" font-size="10.5" text-anchor="end" font-weight="normal" font-style="italic" fill="#1a1a1a" stroke="#1a1a1a" stroke-width="0.25" transform="translate(428.50,531.80) rotate(-45)" >tbh-1</text>
<text x="0.00" y="0.00" font-size="10.5" text-anchor="end" font-weight="normal" font-style="italic" fill="#1a1a1a" stroke="#1a1a1a" stroke-width="0.25" transform="translate(447.20,531.80) rotate(-45)" >tph-1 tbh-1</text>
<line x1="389.10" y1="421.40" x2="446.80" y2="421.40" stroke="#1a1a1a" stroke-width="1.3" />
<line x1="389.70" y1="421.40" x2="389.70" y2="437.20" stroke="#1a1a1a" stroke-width="1.3" />
<line x1="408.50" y1="421.40" x2="408.50" y2="428.50" stroke="#1a1a1a" stroke-width="1.3" />
<line x1="426.00" y1="421.40" x2="426.00" y2="428.50" stroke="#1a1a1a" stroke-width="1.3" />
<line x1="446.20" y1="421.40" x2="446.20" y2="428.50" stroke="#1a1a1a" stroke-width="1.3" />
<polygon points="403.80,429.50 404.46,431.09 406.18,431.23 404.87,432.35 405.27,434.02 403.80,433.12 402.33,434.02 402.73,432.35 401.42,431.23 403.14,431.09" fill="#1a1a1a"/>
<polygon points="408.50,429.50 409.16,431.09 410.88,431.23 409.57,432.35 409.97,434.02 408.50,433.12 407.03,434.02 407.43,432.35 406.12,431.23 407.84,431.09" fill="#1a1a1a"/>
<polygon points="413.20,429.50 413.86,431.09 415.58,431.23 414.27,432.35 414.67,434.02 413.20,433.12 411.73,434.02 412.13,432.35 410.82,431.23 412.54,431.09" fill="#1a1a1a"/>
<text x="426.00" y="436.20" font-size="12.2" text-anchor="middle" font-weight="normal" font-style="normal" fill="#1a1a1a" stroke="#1a1a1a" stroke-width="0.25" >ns</text>
<polygon points="441.50,429.50 442.16,431.09 443.88,431.23 442.57,432.35 442.97,434.02 441.50,433.12 440.03,434.02 440.43,432.35 439.12,431.23 440.84,431.09" fill="#1a1a1a"/>
<polygon points="446.20,429.50 446.86,431.09 448.58,431.23 447.27,432.35 447.67,434.02 446.20,433.12 444.73,434.02 445.13,432.35 443.82,431.23 445.54,431.09" fill="#1a1a1a"/>
<polygon points="450.90,429.50 451.56,431.09 453.28,431.23 451.97,432.35 452.37,434.02 450.90,433.12 449.43,434.02 449.83,432.35 448.52,431.23 450.24,431.09" fill="#1a1a1a"/>
<line x1="407.90" y1="442.20" x2="446.80" y2="442.20" stroke="#1a1a1a" stroke-width="1.3" />
<line x1="408.50" y1="442.20" x2="408.50" y2="449.00" stroke="#1a1a1a" stroke-width="1.3" />
<line x1="426.00" y1="442.20" x2="426.00" y2="449.00" stroke="#1a1a1a" stroke-width="1.3" />
<line x1="446.20" y1="442.20" x2="446.20" y2="458.00" stroke="#1a1a1a" stroke-width="1.3" />
<text x="408.50" y="458.00" font-size="12.2" text-anchor="middle" font-weight="normal" font-style="normal" fill="#1a1a1a" stroke="#1a1a1a" stroke-width="0.25" >ns</text>
<polygon points="421.30,451.50 421.96,453.09 423.68,453.23 422.37,454.35 422.77,456.02 421.30,455.12 419.83,456.02 420.23,454.35 418.92,453.23 420.64,453.09" fill="#1a1a1a"/>
<polygon points="426.00,451.50 426.66,453.09 428.38,453.23 427.07,454.35 427.47,456.02 426.00,455.12 424.53,456.02 424.93,454.35 423.62,453.23 425.34,453.09" fill="#1a1a1a"/>
<polygon points="430.70,451.50 431.36,453.09 433.08,453.23 431.77,454.35 432.17,456.02 430.70,455.12 429.23,456.02 429.63,454.35 428.32,453.23 430.04,453.09" fill="#1a1a1a"/>
<text x="467.50" y="404.70" font-size="18.8" text-anchor="start" font-weight="bold" font-style="normal" fill="#000" >i</text>
<rect x="473.00" y="413.00" width="35.9" height="13.1" fill="#e6e6e8"/>
<text x="474.60" y="423.00" font-size="10.6" fill="#8b3fae" font-weight="bold"><tspan font-weight="normal">&#916;</tspan><tspan font-style="italic">cysE</tspan></text>
<text x="0.00" y="0.00" font-size="12" text-anchor="middle" font-weight="normal" font-style="normal" fill="#1a1a1a" stroke="#1a1a1a" stroke-width="0.25" transform="translate(480.00,473.80) rotate(-90)" >Aversion ratio</text>
<text x="0.00" y="0.00" font-size="12" text-anchor="middle" font-weight="normal" font-style="normal" fill="#1a1a1a" stroke="#1a1a1a" stroke-width="0.25" transform="translate(493.70,472.30) rotate(-90)" >(16-20 hrs)</text>
<line x1="520.90" y1="436.20" x2="520.90" y2="520.00" stroke="#1a1a1a" stroke-width="1.3" />
<line x1="516.30" y1="519.40" x2="520.90" y2="519.40" stroke="#1a1a1a" stroke-width="1.2" />
<text x="515.20" y="523.30" font-size="11" text-anchor="end" font-weight="normal" font-style="normal" fill="#1a1a1a" stroke="#1a1a1a" stroke-width="0.25" >0.0</text>
<line x1="516.30" y1="502.88" x2="520.90" y2="502.88" stroke="#1a1a1a" stroke-width="1.2" />
<text x="515.20" y="506.78" font-size="11" text-anchor="end" font-weight="normal" font-style="normal" fill="#1a1a1a" stroke="#1a1a1a" stroke-width="0.25" >0.2</text>
<line x1="516.30" y1="486.36" x2="520.90" y2="486.36" stroke="#1a1a1a" stroke-width="1.2" />
<text x="515.20" y="490.26" font-size="11" text-anchor="end" font-weight="normal" font-style="normal" fill="#1a1a1a" stroke="#1a1a1a" stroke-width="0.25" >0.4</text>
<line x1="516.30" y1="469.84" x2="520.90" y2="469.84" stroke="#1a1a1a" stroke-width="1.2" />
<text x="515.20" y="473.74" font-size="11" text-anchor="end" font-weight="normal" font-style="normal" fill="#1a1a1a" stroke="#1a1a1a" stroke-width="0.25" >0.6</text>
<line x1="516.30" y1="453.32" x2="520.90" y2="453.32" stroke="#1a1a1a" stroke-width="1.2" />
<text x="515.20" y="457.22" font-size="11" text-anchor="end" font-weight="normal" font-style="normal" fill="#1a1a1a" stroke="#1a1a1a" stroke-width="0.25" >0.8</text>
<line x1="516.30" y1="436.80" x2="520.90" y2="436.80" stroke="#1a1a1a" stroke-width="1.2" />
<text x="515.20" y="440.70" font-size="11" text-anchor="end" font-weight="normal" font-style="normal" fill="#1a1a1a" stroke="#1a1a1a" stroke-width="0.25" >1.0</text>
<line x1="533.00" y1="466.00" x2="533.00" y2="477.00" stroke="#8a8a8a" stroke-width="0.85" />
<line x1="533.00" y1="487.40" x2="533.00" y2="490.00" stroke="#8a8a8a" stroke-width="0.85" />
<line x1="529.60" y1="466.00" x2="536.40" y2="466.00" stroke="#9a9a9a" stroke-width="0.9" />
<line x1="529.60" y1="490.00" x2="536.40" y2="490.00" stroke="#9a9a9a" stroke-width="0.9" />
<rect x="526.80" y="477.00" width="12.40" height="10.40" fill="#7d58ae" stroke="#3e2a60" stroke-width="0.9"/>
<line x1="526.80" y1="483.00" x2="539.20" y2="483.00" stroke="#3e2a60" stroke-width="0.9" />
<circle cx="532.94" cy="477.70" r="1.25" fill="none" stroke="#1e1e1e" stroke-width="0.95"/>
<circle cx="533.14" cy="486.20" r="1.25" fill="none" stroke="#1e1e1e" stroke-width="0.95"/>
<circle cx="533.01" cy="481.75" r="1.25" fill="none" stroke="#1e1e1e" stroke-width="0.95"/>
<circle cx="530.22" cy="487.35" r="1.25" fill="none" stroke="#1e1e1e" stroke-width="0.95"/>
<circle cx="532.81" cy="466.00" r="1.25" fill="none" stroke="#1e1e1e" stroke-width="0.95"/>
<circle cx="537.25" cy="486.96" r="1.25" fill="none" stroke="#1e1e1e" stroke-width="0.95"/>
<circle cx="535.67" cy="482.90" r="1.25" fill="none" stroke="#1e1e1e" stroke-width="0.95"/>
<circle cx="533.07" cy="470.69" r="1.25" fill="none" stroke="#1e1e1e" stroke-width="0.95"/>
<circle cx="534.71" cy="486.85" r="1.25" fill="none" stroke="#1e1e1e" stroke-width="0.95"/>
<circle cx="530.11" cy="480.44" r="1.25" fill="none" stroke="#1e1e1e" stroke-width="0.95"/>
<circle cx="532.96" cy="480.59" r="1.25" fill="none" stroke="#1e1e1e" stroke-width="0.95"/>
<circle cx="533.12" cy="490.00" r="1.25" fill="none" stroke="#1e1e1e" stroke-width="0.95"/>
<circle cx="530.18" cy="477.66" r="1.25" fill="none" stroke="#1e1e1e" stroke-width="0.95"/>
<circle cx="530.31" cy="484.42" r="1.25" fill="none" stroke="#1e1e1e" stroke-width="0.95"/>
<circle cx="536.14" cy="482.52" r="1.25" fill="none" stroke="#1e1e1e" stroke-width="0.95"/>
<line x1="551.00" y1="485.60" x2="551.00" y2="492.00" stroke="#8a8a8a" stroke-width="0.85" />
<line x1="551.00" y1="498.40" x2="551.00" y2="507.60" stroke="#8a8a8a" stroke-width="0.85" />
<line x1="547.60" y1="485.60" x2="554.40" y2="485.60" stroke="#9a9a9a" stroke-width="0.9" />
<line x1="547.60" y1="507.60" x2="554.40" y2="507.60" stroke="#9a9a9a" stroke-width="0.9" />
<rect x="544.80" y="492.00" width="12.40" height="6.40" fill="#7d58ae" stroke="#3e2a60" stroke-width="0.9"/>
<line x1="544.80" y1="495.00" x2="557.20" y2="495.00" stroke="#3e2a60" stroke-width="0.9" />
<circle cx="551.19" cy="494.99" r="1.25" fill="none" stroke="#1e1e1e" stroke-width="0.95"/>
<circle cx="553.78" cy="492.97" r="1.25" fill="none" stroke="#1e1e1e" stroke-width="0.95"/>
<circle cx="550.87" cy="489.67" r="1.25" fill="none" stroke="#1e1e1e" stroke-width="0.95"/>
<circle cx="548.22" cy="495.86" r="1.25" fill="none" stroke="#1e1e1e" stroke-width="0.95"/>
<circle cx="553.78" cy="487.55" r="1.25" fill="none" stroke="#1e1e1e" stroke-width="0.95"/>
<circle cx="551.08" cy="485.60" r="1.25" fill="none" stroke="#1e1e1e" stroke-width="0.95"/>
<circle cx="552.30" cy="497.65" r="1.25" fill="none" stroke="#1e1e1e" stroke-width="0.95"/>
<circle cx="555.07" cy="497.91" r="1.25" fill="none" stroke="#1e1e1e" stroke-width="0.95"/>
<circle cx="549.78" cy="492.27" r="1.25" fill="none" stroke="#1e1e1e" stroke-width="0.95"/>
<circle cx="548.81" cy="497.41" r="1.25" fill="none" stroke="#1e1e1e" stroke-width="0.95"/>
<circle cx="546.78" cy="497.72" r="1.25" fill="none" stroke="#1e1e1e" stroke-width="0.95"/>
<circle cx="546.80" cy="492.71" r="1.25" fill="none" stroke="#1e1e1e" stroke-width="0.95"/>
<circle cx="550.81" cy="501.98" r="1.25" fill="none" stroke="#1e1e1e" stroke-width="0.95"/>
<circle cx="551.18" cy="507.60" r="1.25" fill="none" stroke="#1e1e1e" stroke-width="0.95"/>
<circle cx="551.56" cy="492.44" r="1.25" fill="none" stroke="#1e1e1e" stroke-width="0.95"/>
<line x1="569.20" y1="447.40" x2="569.20" y2="471.00" stroke="#8a8a8a" stroke-width="0.85" />
<line x1="569.20" y1="480.60" x2="569.20" y2="490.00" stroke="#8a8a8a" stroke-width="0.85" />
<line x1="565.80" y1="447.40" x2="572.60" y2="447.40" stroke="#9a9a9a" stroke-width="0.9" />
<line x1="565.80" y1="490.00" x2="572.60" y2="490.00" stroke="#9a9a9a" stroke-width="0.9" />
<rect x="563.00" y="471.00" width="12.40" height="9.60" fill="#7d58ae" stroke="#3e2a60" stroke-width="0.9"/>
<line x1="563.00" y1="475.40" x2="575.40" y2="475.40" stroke="#3e2a60" stroke-width="0.9" />
<circle cx="569.20" cy="480.45" r="1.25" fill="none" stroke="#1e1e1e" stroke-width="0.95"/>
<circle cx="571.81" cy="479.55" r="1.25" fill="none" stroke="#1e1e1e" stroke-width="0.95"/>
<circle cx="569.06" cy="474.27" r="1.25" fill="none" stroke="#1e1e1e" stroke-width="0.95"/>
<circle cx="569.33" cy="447.40" r="1.25" fill="none" stroke="#1e1e1e" stroke-width="0.95"/>
<circle cx="569.08" cy="490.00" r="1.25" fill="none" stroke="#1e1e1e" stroke-width="0.95"/>
<circle cx="571.90" cy="473.58" r="1.25" fill="none" stroke="#1e1e1e" stroke-width="0.95"/>
<circle cx="566.44" cy="479.60" r="1.25" fill="none" stroke="#1e1e1e" stroke-width="0.95"/>
<circle cx="569.16" cy="457.35" r="1.25" fill="none" stroke="#1e1e1e" stroke-width="0.95"/>
<circle cx="567.83" cy="471.68" r="1.25" fill="none" stroke="#1e1e1e" stroke-width="0.95"/>
<circle cx="570.47" cy="476.77" r="1.25" fill="none" stroke="#1e1e1e" stroke-width="0.95"/>
<circle cx="573.25" cy="471.53" r="1.25" fill="none" stroke="#1e1e1e" stroke-width="0.95"/>
<circle cx="569.17" cy="485.67" r="1.25" fill="none" stroke="#1e1e1e" stroke-width="0.95"/>
<circle cx="565.10" cy="473.88" r="1.25" fill="none" stroke="#1e1e1e" stroke-width="0.95"/>
<circle cx="573.51" cy="475.92" r="1.25" fill="none" stroke="#1e1e1e" stroke-width="0.95"/>
<circle cx="569.13" cy="462.55" r="1.25" fill="none" stroke="#1e1e1e" stroke-width="0.95"/>
<line x1="587.40" y1="480.00" x2="587.40" y2="480.00" stroke="#8a8a8a" stroke-width="0.85" />
<line x1="587.40" y1="496.60" x2="587.40" y2="505.60" stroke="#8a8a8a" stroke-width="0.85" />
<line x1="584.00" y1="480.00" x2="590.80" y2="480.00" stroke="#9a9a9a" stroke-width="0.9" />
<line x1="584.00" y1="505.60" x2="590.80" y2="505.60" stroke="#9a9a9a" stroke-width="0.9" />
<rect x="581.20" y="480.00" width="12.40" height="16.60" fill="#7d58ae" stroke="#3e2a60" stroke-width="0.9"/>
<line x1="581.20" y1="496.00" x2="593.60" y2="496.00" stroke="#3e2a60" stroke-width="0.9" />
<circle cx="587.58" cy="481.84" r="1.25" fill="none" stroke="#1e1e1e" stroke-width="0.95"/>
<circle cx="587.34" cy="495.67" r="1.25" fill="none" stroke="#1e1e1e" stroke-width="0.95"/>
<circle cx="587.29" cy="488.20" r="1.25" fill="none" stroke="#1e1e1e" stroke-width="0.95"/>
<circle cx="590.05" cy="480.29" r="1.25" fill="none" stroke="#1e1e1e" stroke-width="0.95"/>
<circle cx="590.06" cy="487.76" r="1.25" fill="none" stroke="#1e1e1e" stroke-width="0.95"/>
<circle cx="587.32" cy="484.92" r="1.25" fill="none" stroke="#1e1e1e" stroke-width="0.95"/>
<circle cx="590.28" cy="496.41" r="1.25" fill="none" stroke="#1e1e1e" stroke-width="0.95"/>
<circle cx="587.22" cy="501.97" r="1.25" fill="none" stroke="#1e1e1e" stroke-width="0.95"/>
<circle cx="584.48" cy="489.60" r="1.25" fill="none" stroke="#1e1e1e" stroke-width="0.95"/>
<circle cx="583.37" cy="496.20" r="1.25" fill="none" stroke="#1e1e1e" stroke-width="0.95"/>
<circle cx="588.76" cy="490.70" r="1.25" fill="none" stroke="#1e1e1e" stroke-width="0.95"/>
<circle cx="587.46" cy="505.60" r="1.25" fill="none" stroke="#1e1e1e" stroke-width="0.95"/>
<circle cx="584.79" cy="480.18" r="1.25" fill="none" stroke="#1e1e1e" stroke-width="0.95"/>
<circle cx="583.49" cy="480.00" r="1.25" fill="none" stroke="#1e1e1e" stroke-width="0.95"/>
<circle cx="584.70" cy="486.22" r="1.25" fill="none" stroke="#1e1e1e" stroke-width="0.95"/>
<line x1="520.30" y1="519.40" x2="599.70" y2="519.40" stroke="#1a1a1a" stroke-width="1.3" />
<line x1="533.00" y1="519.40" x2="533.00" y2="523.70" stroke="#1a1a1a" stroke-width="1.2" />
<line x1="551.00" y1="519.40" x2="551.00" y2="523.70" stroke="#1a1a1a" stroke-width="1.2" />
<line x1="569.20" y1="519.40" x2="569.20" y2="523.70" stroke="#1a1a1a" stroke-width="1.2" />
<line x1="587.40" y1="519.40" x2="587.40" y2="523.70" stroke="#1a1a1a" stroke-width="1.2" />
<text x="0.00" y="0.00" font-size="10.5" text-anchor="end" font-weight="normal" font-style="italic" fill="#1a1a1a" stroke="#1a1a1a" stroke-width="0.25" transform="translate(535.00,532.00) rotate(-45)" >WT</text>
<text x="0.00" y="0.00" font-size="10.5" text-anchor="end" font-weight="normal" font-style="italic" fill="#1a1a1a" stroke="#1a1a1a" stroke-width="0.25" transform="translate(553.00,532.00) rotate(-45)" >tph-1</text>
<text x="0.00" y="0.00" font-size="10.5" text-anchor="end" font-weight="normal" font-style="italic" fill="#1a1a1a" stroke="#1a1a1a" stroke-width="0.25" transform="translate(571.20,532.00) rotate(-45)" >tdc-1</text>
<text x="0.00" y="0.00" font-size="10.5" text-anchor="end" font-weight="normal" font-style="italic" fill="#1a1a1a" stroke="#1a1a1a" stroke-width="0.25" transform="translate(589.40,532.00) rotate(-45)" >tph-1 tdc-1</text>
<line x1="532.00" y1="409.40" x2="589.60" y2="409.40" stroke="#1a1a1a" stroke-width="1.3" />
<line x1="532.60" y1="409.40" x2="532.60" y2="424.60" stroke="#1a1a1a" stroke-width="1.3" />
<line x1="552.60" y1="409.40" x2="552.60" y2="416.50" stroke="#1a1a1a" stroke-width="1.3" />
<line x1="569.40" y1="409.40" x2="569.40" y2="416.50" stroke="#1a1a1a" stroke-width="1.3" />
<line x1="589.00" y1="409.40" x2="589.00" y2="416.50" stroke="#1a1a1a" stroke-width="1.3" />
<polygon points="547.90,418.50 548.56,420.09 550.28,420.23 548.97,421.35 549.37,423.02 547.90,422.12 546.43,423.02 546.83,421.35 545.52,420.23 547.24,420.09" fill="#1a1a1a"/>
<polygon points="552.60,418.50 553.26,420.09 554.98,420.23 553.67,421.35 554.07,423.02 552.60,422.12 551.13,423.02 551.53,421.35 550.22,420.23 551.94,420.09" fill="#1a1a1a"/>
<polygon points="557.30,418.50 557.96,420.09 559.68,420.23 558.37,421.35 558.77,423.02 557.30,422.12 555.83,423.02 556.23,421.35 554.92,420.23 556.64,420.09" fill="#1a1a1a"/>
<text x="569.40" y="424.60" font-size="12.2" text-anchor="middle" font-weight="normal" font-style="normal" fill="#1a1a1a" stroke="#1a1a1a" stroke-width="0.25" >ns</text>
<polygon points="589.00,418.50 589.66,420.09 591.38,420.23 590.07,421.35 590.47,423.02 589.00,422.12 587.53,423.02 587.93,421.35 586.62,420.23 588.34,420.09" fill="#1a1a1a"/>
<line x1="552.00" y1="430.00" x2="589.60" y2="430.00" stroke="#1a1a1a" stroke-width="1.3" />
<line x1="552.60" y1="430.00" x2="552.60" y2="436.00" stroke="#1a1a1a" stroke-width="1.3" />
<line x1="569.40" y1="430.00" x2="569.40" y2="436.00" stroke="#1a1a1a" stroke-width="1.3" />
<line x1="589.00" y1="430.00" x2="589.00" y2="447.00" stroke="#1a1a1a" stroke-width="1.3" />
<text x="550.60" y="446.00" font-size="12.2" text-anchor="middle" font-weight="normal" font-style="normal" fill="#1a1a1a" stroke="#1a1a1a" stroke-width="0.25" >ns</text>
<polygon points="564.70,439.50 565.36,441.09 567.08,441.23 565.77,442.35 566.17,444.02 564.70,443.12 563.23,444.02 563.63,442.35 562.32,441.23 564.04,441.09" fill="#1a1a1a"/>
<polygon points="569.40,439.50 570.06,441.09 571.78,441.23 570.47,442.35 570.87,444.02 569.40,443.12 567.93,444.02 568.33,442.35 567.02,441.23 568.74,441.09" fill="#1a1a1a"/>
<polygon points="574.10,439.50 574.76,441.09 576.48,441.23 575.17,442.35 575.57,444.02 574.10,443.12 572.63,444.02 573.03,442.35 571.72,441.23 573.44,441.09" fill="#1a1a1a"/>
<line x1="606.00" y1="435.80" x2="606.00" y2="519.50" stroke="#1a1a1a" stroke-width="1.3" />
<line x1="601.40" y1="518.90" x2="606.00" y2="518.90" stroke="#1a1a1a" stroke-width="1.2" />
<line x1="601.40" y1="502.40" x2="606.00" y2="502.40" stroke="#1a1a1a" stroke-width="1.2" />
<line x1="601.40" y1="485.90" x2="606.00" y2="485.90" stroke="#1a1a1a" stroke-width="1.2" />
<line x1="601.40" y1="469.40" x2="606.00" y2="469.40" stroke="#1a1a1a" stroke-width="1.2" />
<line x1="601.40" y1="452.90" x2="606.00" y2="452.90" stroke="#1a1a1a" stroke-width="1.2" />
<line x1="601.40" y1="436.40" x2="606.00" y2="436.40" stroke="#1a1a1a" stroke-width="1.2" />
<line x1="618.40" y1="467.70" x2="618.40" y2="470.90" stroke="#8a8a8a" stroke-width="0.85" />
<line x1="618.40" y1="481.10" x2="618.40" y2="483.60" stroke="#8a8a8a" stroke-width="0.85" />
<line x1="615.00" y1="467.70" x2="621.80" y2="467.70" stroke="#9a9a9a" stroke-width="0.9" />
<line x1="615.00" y1="483.60" x2="621.80" y2="483.60" stroke="#9a9a9a" stroke-width="0.9" />
<rect x="612.20" y="470.90" width="12.40" height="10.20" fill="#7d58ae" stroke="#3e2a60" stroke-width="0.9"/>
<line x1="612.20" y1="476.60" x2="624.60" y2="476.60" stroke="#3e2a60" stroke-width="0.9" />
<circle cx="618.26" cy="473.92" r="1.25" fill="none" stroke="#1e1e1e" stroke-width="0.95"/>
<circle cx="619.84" cy="471.32" r="1.25" fill="none" stroke="#1e1e1e" stroke-width="0.95"/>
<circle cx="615.59" cy="471.69" r="1.25" fill="none" stroke="#1e1e1e" stroke-width="0.95"/>
<circle cx="621.08" cy="473.84" r="1.25" fill="none" stroke="#1e1e1e" stroke-width="0.95"/>
<circle cx="614.44" cy="474.41" r="1.25" fill="none" stroke="#1e1e1e" stroke-width="0.95"/>
<circle cx="618.35" cy="478.64" r="1.25" fill="none" stroke="#1e1e1e" stroke-width="0.95"/>
<circle cx="617.48" cy="472.76" r="1.25" fill="none" stroke="#1e1e1e" stroke-width="0.95"/>
<circle cx="618.44" cy="483.60" r="1.25" fill="none" stroke="#1e1e1e" stroke-width="0.95"/>
<circle cx="616.42" cy="475.98" r="1.25" fill="none" stroke="#1e1e1e" stroke-width="0.95"/>
<circle cx="621.13" cy="480.19" r="1.25" fill="none" stroke="#1e1e1e" stroke-width="0.95"/>
<circle cx="618.48" cy="467.70" r="1.25" fill="none" stroke="#1e1e1e" stroke-width="0.95"/>
<circle cx="615.53" cy="480.65" r="1.25" fill="none" stroke="#1e1e1e" stroke-width="0.95"/>
<circle cx="614.89" cy="480.28" r="1.25" fill="none" stroke="#1e1e1e" stroke-width="0.95"/>
<circle cx="616.82" cy="471.10" r="1.25" fill="none" stroke="#1e1e1e" stroke-width="0.95"/>
<circle cx="614.80" cy="478.75" r="1.25" fill="none" stroke="#1e1e1e" stroke-width="0.95"/>
<line x1="636.20" y1="488.30" x2="636.20" y2="493.50" stroke="#8a8a8a" stroke-width="0.85" />
<line x1="636.20" y1="498.50" x2="636.20" y2="504.00" stroke="#8a8a8a" stroke-width="0.85" />
<line x1="632.80" y1="488.30" x2="639.60" y2="488.30" stroke="#9a9a9a" stroke-width="0.9" />
<line x1="632.80" y1="504.00" x2="639.60" y2="504.00" stroke="#9a9a9a" stroke-width="0.9" />
<rect x="630.00" y="493.50" width="12.40" height="5.00" fill="#7d58ae" stroke="#3e2a60" stroke-width="0.9"/>
<line x1="630.00" y1="496.00" x2="642.40" y2="496.00" stroke="#3e2a60" stroke-width="0.9" />
<circle cx="636.24" cy="496.84" r="1.25" fill="none" stroke="#1e1e1e" stroke-width="0.95"/>
<circle cx="638.84" cy="495.81" r="1.25" fill="none" stroke="#1e1e1e" stroke-width="0.95"/>
<circle cx="636.07" cy="490.49" r="1.25" fill="none" stroke="#1e1e1e" stroke-width="0.95"/>
<circle cx="636.12" cy="502.00" r="1.25" fill="none" stroke="#1e1e1e" stroke-width="0.95"/>
<circle cx="633.49" cy="497.66" r="1.25" fill="none" stroke="#1e1e1e" stroke-width="0.95"/>
<circle cx="639.71" cy="496.44" r="1.25" fill="none" stroke="#1e1e1e" stroke-width="0.95"/>
<circle cx="636.32" cy="493.62" r="1.25" fill="none" stroke="#1e1e1e" stroke-width="0.95"/>
<circle cx="639.04" cy="504.00" r="1.25" fill="none" stroke="#1e1e1e" stroke-width="0.95"/>
<circle cx="632.07" cy="493.70" r="1.25" fill="none" stroke="#1e1e1e" stroke-width="0.95"/>
<circle cx="640.49" cy="493.91" r="1.25" fill="none" stroke="#1e1e1e" stroke-width="0.95"/>
<circle cx="632.09" cy="497.68" r="1.25" fill="none" stroke="#1e1e1e" stroke-width="0.95"/>
<circle cx="632.70" cy="498.19" r="1.25" fill="none" stroke="#1e1e1e" stroke-width="0.95"/>
<circle cx="639.08" cy="500.41" r="1.25" fill="none" stroke="#1e1e1e" stroke-width="0.95"/>
<circle cx="638.81" cy="488.30" r="1.25" fill="none" stroke="#1e1e1e" stroke-width="0.95"/>
<circle cx="637.81" cy="498.43" r="1.25" fill="none" stroke="#1e1e1e" stroke-width="0.95"/>
<line x1="654.20" y1="474.30" x2="654.20" y2="482.10" stroke="#8a8a8a" stroke-width="0.85" />
<line x1="654.20" y1="489.50" x2="654.20" y2="494.50" stroke="#8a8a8a" stroke-width="0.85" />
<line x1="650.80" y1="474.30" x2="657.60" y2="474.30" stroke="#9a9a9a" stroke-width="0.9" />
<line x1="650.80" y1="494.50" x2="657.60" y2="494.50" stroke="#9a9a9a" stroke-width="0.9" />
<rect x="648.00" y="482.10" width="12.40" height="7.40" fill="#7d58ae" stroke="#3e2a60" stroke-width="0.9"/>
<line x1="648.00" y1="486.00" x2="660.40" y2="486.00" stroke="#3e2a60" stroke-width="0.9" />
<circle cx="654.04" cy="489.23" r="1.25" fill="none" stroke="#1e1e1e" stroke-width="0.95"/>
<circle cx="654.07" cy="482.27" r="1.25" fill="none" stroke="#1e1e1e" stroke-width="0.95"/>
<circle cx="654.02" cy="485.69" r="1.25" fill="none" stroke="#1e1e1e" stroke-width="0.95"/>
<circle cx="657.13" cy="485.19" r="1.25" fill="none" stroke="#1e1e1e" stroke-width="0.95"/>
<circle cx="656.93" cy="489.12" r="1.25" fill="none" stroke="#1e1e1e" stroke-width="0.95"/>
<circle cx="651.29" cy="490.97" r="1.25" fill="none" stroke="#1e1e1e" stroke-width="0.95"/>
<circle cx="658.28" cy="482.60" r="1.25" fill="none" stroke="#1e1e1e" stroke-width="0.95"/>
<circle cx="654.04" cy="479.38" r="1.25" fill="none" stroke="#1e1e1e" stroke-width="0.95"/>
<circle cx="651.45" cy="487.90" r="1.25" fill="none" stroke="#1e1e1e" stroke-width="0.95"/>
<circle cx="650.02" cy="482.53" r="1.25" fill="none" stroke="#1e1e1e" stroke-width="0.95"/>
<circle cx="658.67" cy="485.52" r="1.25" fill="none" stroke="#1e1e1e" stroke-width="0.95"/>
<circle cx="656.21" cy="490.91" r="1.25" fill="none" stroke="#1e1e1e" stroke-width="0.95"/>
<circle cx="654.28" cy="474.30" r="1.25" fill="none" stroke="#1e1e1e" stroke-width="0.95"/>
<circle cx="654.02" cy="494.50" r="1.25" fill="none" stroke="#1e1e1e" stroke-width="0.95"/>
<circle cx="651.59" cy="489.25" r="1.25" fill="none" stroke="#1e1e1e" stroke-width="0.95"/>
<line x1="672.60" y1="488.50" x2="672.60" y2="493.30" stroke="#8a8a8a" stroke-width="0.85" />
<line x1="672.60" y1="504.00" x2="672.60" y2="508.40" stroke="#8a8a8a" stroke-width="0.85" />
<line x1="669.20" y1="488.50" x2="676.00" y2="488.50" stroke="#9a9a9a" stroke-width="0.9" />
<line x1="669.20" y1="508.40" x2="676.00" y2="508.40" stroke="#9a9a9a" stroke-width="0.9" />
<rect x="666.40" y="493.30" width="12.40" height="10.70" fill="#7d58ae" stroke="#3e2a60" stroke-width="0.9"/>
<line x1="666.40" y1="500.00" x2="678.80" y2="500.00" stroke="#3e2a60" stroke-width="0.9" />
<circle cx="672.68" cy="503.91" r="1.25" fill="none" stroke="#1e1e1e" stroke-width="0.95"/>
<circle cx="674.09" cy="506.32" r="1.25" fill="none" stroke="#1e1e1e" stroke-width="0.95"/>
<circle cx="671.35" cy="508.40" r="1.25" fill="none" stroke="#1e1e1e" stroke-width="0.95"/>
<circle cx="672.59" cy="490.53" r="1.25" fill="none" stroke="#1e1e1e" stroke-width="0.95"/>
<circle cx="672.70" cy="494.19" r="1.25" fill="none" stroke="#1e1e1e" stroke-width="0.95"/>
<circle cx="672.77" cy="500.40" r="1.25" fill="none" stroke="#1e1e1e" stroke-width="0.95"/>
<circle cx="676.69" cy="503.47" r="1.25" fill="none" stroke="#1e1e1e" stroke-width="0.95"/>
<circle cx="669.96" cy="503.34" r="1.25" fill="none" stroke="#1e1e1e" stroke-width="0.95"/>
<circle cx="675.45" cy="493.99" r="1.25" fill="none" stroke="#1e1e1e" stroke-width="0.95"/>
<circle cx="675.18" cy="488.50" r="1.25" fill="none" stroke="#1e1e1e" stroke-width="0.95"/>
<circle cx="676.08" cy="505.46" r="1.25" fill="none" stroke="#1e1e1e" stroke-width="0.95"/>
<circle cx="675.37" cy="501.40" r="1.25" fill="none" stroke="#1e1e1e" stroke-width="0.95"/>
<circle cx="669.93" cy="493.69" r="1.25" fill="none" stroke="#1e1e1e" stroke-width="0.95"/>
<circle cx="668.45" cy="496.32" r="1.25" fill="none" stroke="#1e1e1e" stroke-width="0.95"/>
<circle cx="669.18" cy="503.82" r="1.25" fill="none" stroke="#1e1e1e" stroke-width="0.95"/>
<line x1="605.40" y1="518.90" x2="684.00" y2="518.90" stroke="#1a1a1a" stroke-width="1.3" />
<line x1="618.40" y1="518.90" x2="618.40" y2="523.20" stroke="#1a1a1a" stroke-width="1.2" />
<line x1="636.20" y1="518.90" x2="636.20" y2="523.20" stroke="#1a1a1a" stroke-width="1.2" />
<line x1="654.20" y1="518.90" x2="654.20" y2="523.20" stroke="#1a1a1a" stroke-width="1.2" />
<line x1="672.60" y1="518.90" x2="672.60" y2="523.20" stroke="#1a1a1a" stroke-width="1.2" />
<line x1="602.00" y1="518.90" x2="606.00" y2="518.90" stroke="#1a1a1a" stroke-width="1.3" />
<text x="0.00" y="0.00" font-size="10.5" text-anchor="end" font-weight="normal" font-style="italic" fill="#1a1a1a" stroke="#1a1a1a" stroke-width="0.25" transform="translate(620.40,532.00) rotate(-45)" >WT</text>
<text x="0.00" y="0.00" font-size="10.5" text-anchor="end" font-weight="normal" font-style="italic" fill="#1a1a1a" stroke="#1a1a1a" stroke-width="0.25" transform="translate(638.20,532.00) rotate(-45)" >tph-1</text>
<text x="0.00" y="0.00" font-size="10.5" text-anchor="end" font-weight="normal" font-style="italic" fill="#1a1a1a" stroke="#1a1a1a" stroke-width="0.25" transform="translate(656.20,532.00) rotate(-45)" >tbh-1</text>
<text x="0.00" y="0.00" font-size="10.5" text-anchor="end" font-weight="normal" font-style="italic" fill="#1a1a1a" stroke="#1a1a1a" stroke-width="0.25" transform="translate(674.60,532.00) rotate(-45)" >tph-1 tbh-1</text>
<line x1="617.60" y1="421.40" x2="674.60" y2="421.40" stroke="#1a1a1a" stroke-width="1.3" />
<line x1="618.20" y1="421.40" x2="618.20" y2="437.00" stroke="#1a1a1a" stroke-width="1.3" />
<line x1="636.00" y1="421.40" x2="636.00" y2="428.50" stroke="#1a1a1a" stroke-width="1.3" />
<line x1="653.80" y1="421.40" x2="653.80" y2="428.50" stroke="#1a1a1a" stroke-width="1.3" />
<line x1="674.00" y1="421.40" x2="674.00" y2="428.50" stroke="#1a1a1a" stroke-width="1.3" />
<polygon points="631.30,429.50 631.96,431.09 633.68,431.23 632.37,432.35 632.77,434.02 631.30,433.12 629.83,434.02 630.23,432.35 628.92,431.23 630.64,431.09" fill="#1a1a1a"/>
<polygon points="636.00,429.50 636.66,431.09 638.38,431.23 637.07,432.35 637.47,434.02 636.00,433.12 634.53,434.02 634.93,432.35 633.62,431.23 635.34,431.09" fill="#1a1a1a"/>
<polygon points="640.70,429.50 641.36,431.09 643.08,431.23 641.77,432.35 642.17,434.02 640.70,433.12 639.23,434.02 639.63,432.35 638.32,431.23 640.04,431.09" fill="#1a1a1a"/>
<polygon points="649.10,429.50 649.76,431.09 651.48,431.23 650.17,432.35 650.57,434.02 649.10,433.12 647.63,434.02 648.03,432.35 646.72,431.23 648.44,431.09" fill="#1a1a1a"/>
<polygon points="653.80,429.50 654.46,431.09 656.18,431.23 654.87,432.35 655.27,434.02 653.80,433.12 652.33,434.02 652.73,432.35 651.42,431.23 653.14,431.09" fill="#1a1a1a"/>
<polygon points="658.50,429.50 659.16,431.09 660.88,431.23 659.57,432.35 659.97,434.02 658.50,433.12 657.03,434.02 657.43,432.35 656.12,431.23 657.84,431.09" fill="#1a1a1a"/>
<polygon points="669.30,429.50 669.96,431.09 671.68,431.23 670.37,432.35 670.77,434.02 669.30,433.12 667.83,434.02 668.23,432.35 666.92,431.23 668.64,431.09" fill="#1a1a1a"/>
<polygon points="674.00,429.50 674.66,431.09 676.38,431.23 675.07,432.35 675.47,434.02 674.00,433.12 672.53,434.02 672.93,432.35 671.62,431.23 673.34,431.09" fill="#1a1a1a"/>
<polygon points="678.70,429.50 679.36,431.09 681.08,431.23 679.77,432.35 680.17,434.02 678.70,433.12 677.23,434.02 677.63,432.35 676.32,431.23 678.04,431.09" fill="#1a1a1a"/>
<line x1="635.40" y1="442.50" x2="674.60" y2="442.50" stroke="#1a1a1a" stroke-width="1.3" />
<line x1="636.00" y1="442.50" x2="636.00" y2="449.00" stroke="#1a1a1a" stroke-width="1.3" />
<line x1="653.80" y1="442.50" x2="653.80" y2="449.00" stroke="#1a1a1a" stroke-width="1.3" />
<line x1="674.00" y1="442.50" x2="674.00" y2="458.50" stroke="#1a1a1a" stroke-width="1.3" />
<text x="636.00" y="458.00" font-size="12.2" text-anchor="middle" font-weight="normal" font-style="normal" fill="#1a1a1a" stroke="#1a1a1a" stroke-width="0.25" >ns</text>
<polygon points="649.10,451.50 649.76,453.09 651.48,453.23 650.17,454.35 650.57,456.02 649.10,455.12 647.63,456.02 648.03,454.35 646.72,453.23 648.44,453.09" fill="#1a1a1a"/>
<polygon points="653.80,451.50 654.46,453.09 656.18,453.23 654.87,454.35 655.27,456.02 653.80,455.12 652.33,456.02 652.73,454.35 651.42,453.23 653.14,453.09" fill="#1a1a1a"/>
<polygon points="658.50,451.50 659.16,453.09 660.88,453.23 659.57,454.35 659.97,456.02 658.50,455.12 657.03,456.02 657.43,454.35 656.12,453.23 657.84,453.09" fill="#1a1a1a"/>
</svg></body></html>
